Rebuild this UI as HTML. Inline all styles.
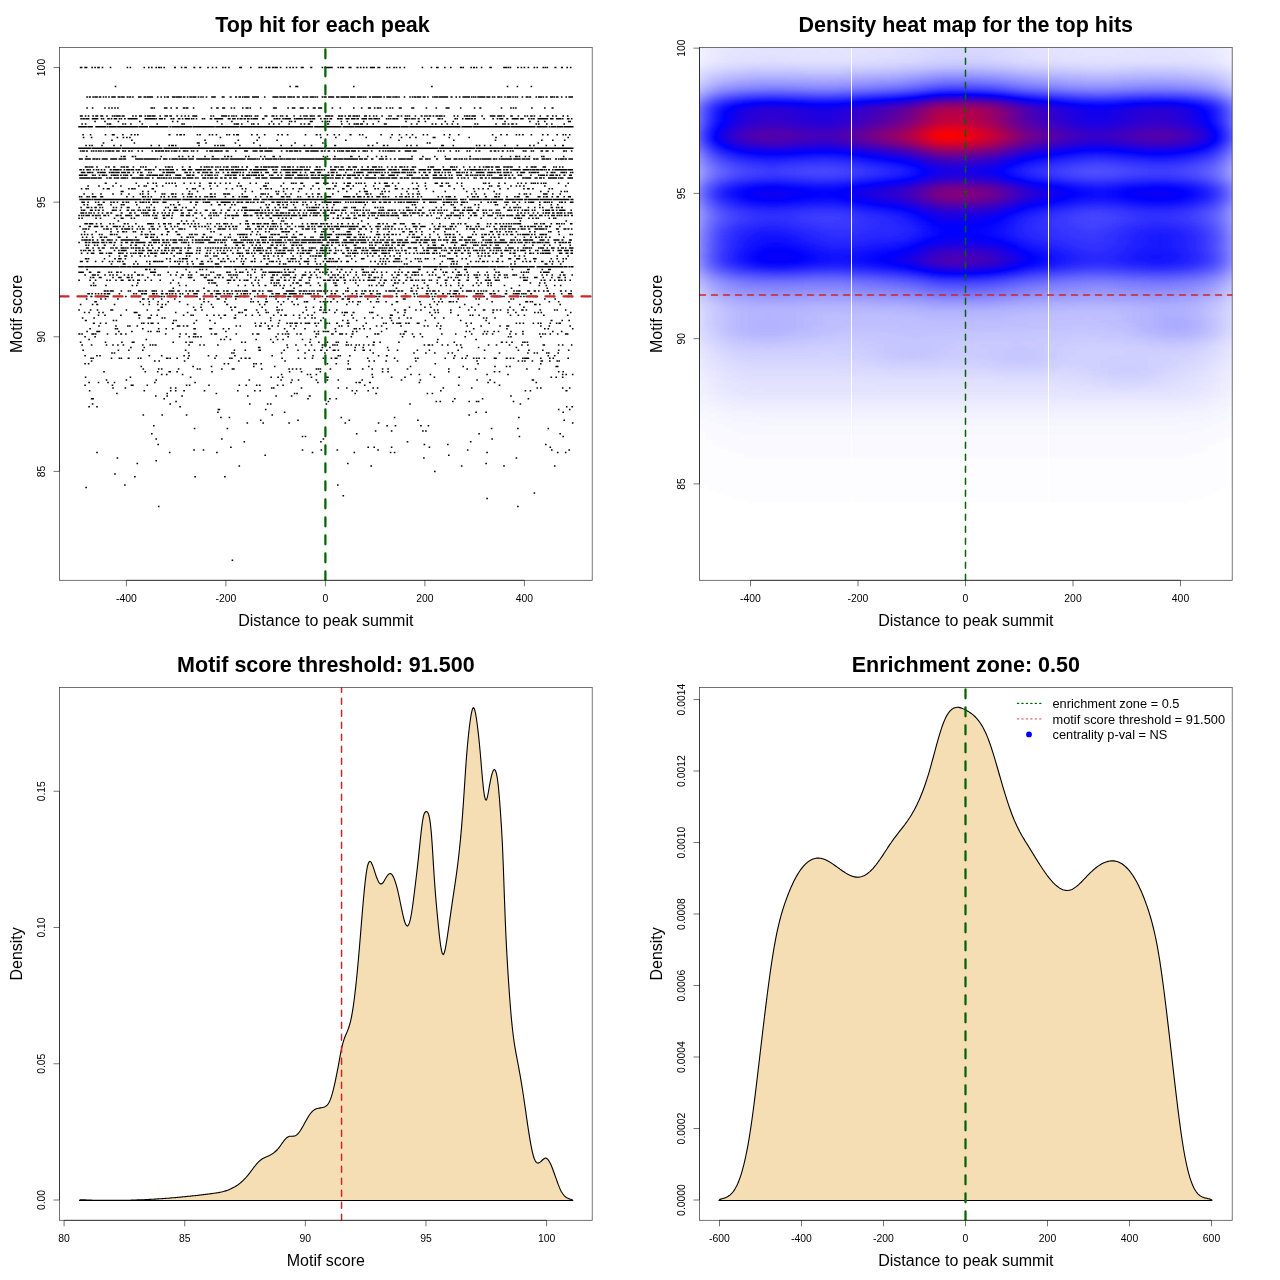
<!DOCTYPE html><html><head><meta charset="utf-8"><style>html,body{margin:0;padding:0;background:#fff;overflow:hidden}svg{display:block}text{font-family:"Liberation Sans",sans-serif;fill:#000}</style></head><body>
<svg width="1280" height="1280" viewBox="0 0 1280 1280" style="will-change:transform">
<defs>
<clipPath id="c1"><rect x="59.5" y="47.5" width="532.7" height="532.8"/></clipPath>
<clipPath id="c2"><rect x="699.5" y="47.5" width="532.7" height="532.8"/></clipPath>
<clipPath id="c3"><rect x="59.5" y="687.5" width="532.7" height="532.8"/></clipPath>
<clipPath id="c4"><rect x="699.5" y="687.5" width="532.7" height="532.8"/></clipPath>
<filter id="hm" x="660" y="10" width="600" height="600" filterUnits="userSpaceOnUse" color-interpolation-filters="sRGB"><feGaussianBlur stdDeviation="5 2"/><feComponentTransfer><feFuncR type="table" tableValues="1 0 1"/><feFuncG type="table" tableValues="1 0 0"/><feFuncB type="table" tableValues="1 1 0"/></feComponentTransfer></filter>
</defs>
<path d="M231.6 560.3h1.6M157.9 506.5h1.6m357.6 0h1.6M486.3 498.4h1.6M342.5 495.7h1.6M533.6 493h1.6M85.3 487.6h1.6M124.1 484.9h1.6m211.3 0h1.6M134.1 476.8h1.6m58.6 0h1.6m28.2 0h1.6M114.2 474.1h1.6M434 471.4h1.6M238.5 466.1h1.6m130.3 0h1.6m88.9 0h1.6m40.7 0h1.6m49.1 0h1.6M136.5 463.4h1.6m208.9 0h1.6m136.7 0h1.6M155.4 460.7h1.6M116.6 458h1.6m304.9 0h1.6m90.9 0h1.6M264.4 455.3h1.6m182 0h1.6M96.2 452.6h1.6m71.1 0h1.6m45.6 0h1.6m94 0h1.6m40.2 0h1.6m34.7 0h1.6m2.4 0h1.6m90.9 0h1.6m69 0h1.6m6.4 0h1.6M193.3 449.9h1.6m7.8 0h1.6m97.4 0h1.6m17.3 0h1.6m14.3 0h1.6m39.2 0h1.6m88 0h1.6m82.5 0h1.6m15.8 0h1.6M230.1 447.2h1.6m135.7 0h1.6m4.4 0h1.6m15.8 0h1.6m36.2 0h1.6m119.3 0h1.6M157.4 444.5h1.6m264.6 0h1.6m21.8 0h1.6m96.4 0h1.6M243.5 441.8h1.6m75 0h1.6m85 0h1.6m61.6 0h1.6M155.4 439.1h1.6m64.1 0h1.6m99.9 0h1.6m167.1 0h1.6M301.7 436.4h1.6m1.4 0h1.6m212.3 0h1.6m42.2 0h1.6M151 433.7h1.6m203.3 0h1.6m120.8 0h1.6m79.5 0h1.6M374.8 431.1h1.6m14.4 0h1.6m29.7 0h1.6m1.4 0h1.6M193.8 428.4h1.6m31.2 0h1.6m262.6 0h1.6m24.7 0h1.6m28.8 0h1.6M153 425.7h1.6m231.7 0h1.6m6.8 0h1.6m23.8 0h1.6m5.9 0h1.6M246.5 423h1.6m14.3 0h1.6m24.3 0h1.6m54.6 0h1.6m31.7 0h1.6m192.5 0h1.6M259.9 420.3h1.6m35.7 0h1.6m49.7 0h1.6m67 0h1.6m144.7 0h1.6M220.1 417.6h1.6m6.9 0h1.6m110.3 0h1.6m51.7 0h1.6m122.7 0h1.6M142.5 414.9h1.6m17.3 0h1.6m22.8 0h1.6m84 0h1.6m195.4 0h1.6M217.1 412.2h1.6m65.1 0h1.6m189.9 0h1.6m8.4 0h1.6m75.5 0h1.6M217.6 409.5h2.6m44.7 0h1.6m291.4 0h1.6m9.4 0h1.6M88.3 406.8h1.6m6.3 0h1.6m81.5 0h1.6m385 0h1.6m3.9 0h1.6M91.8 404.1h1.6m76 0h1.6m78 0h1.6m16.3 0h1.6m1.4 0h1.6m54.1 0h1.6m82 0h1.6m108.8 0h1.6M175.3 401.4h1.6m150.7 0h1.6m106.3 0h1.6m2.4 0h1.6m10.9 0h1.6m14.8 0h1.6m5.8 0h1.6m.4 0h1.6m33.3 0h1.6M90.8 398.7h3.1m69.5 0h1.6m142.2 0h1.6m20.3 0h1.6m4.8 0h1.6m116.9 0h1.6m26.2 0h1.6m44.2 0h1.6M155 396h1.6m9.8 0h1.6m13.3 0h1.6m64.1 0h1.6m26.7 0h1.6m13.9 0h1.6m16.3 0h2.1m199.4 0h1.6M116.1 393.4h1.6m48.7 0h1.6m47.6 0h1.6m76.6 0h1.6m.8 0h1.6m56.6 0h1.6m19.3 0h1.6m49.7 0h1.6m3.4 0h1.6M88.8 390.7h1.6m53.1 0h1.6m24.8 0h1.6m3.4 0h1.6m6.8 0h1.6m18.8 0h1.6m31.7 0h1.6m15.4 0h1.6m3.8 0h1.6m90.5 0h1.6m2.8 0h1.6m9.9 0h1.6m71 0h1.6m83 0h1.6m3.4 0h1.6m34.2 0h2.1M112.2 388h1.6m10.8 0h1.6m43.7 0h1.6m3.4 0h1.6m94.4 0h1.6m.4 0h1.6m26.2 0h1.6m35.2 0h1.6m6.9 0h1.6m24.8 0h1.6m2.8 0h1.6m64.1 0h1.6m26.8 0h1.6m64 0h1.6m1.9 0h1.6m20.3 0h1.6m5.4 0h1.6M84.3 385.3h1.6m25.8 0h1.6m17.3 0h3.1m12.8 0h1.6m37.7 0h1.6m1.4 0h1.6m17.8 0h1.6m28.7 0h1.6m5.4 0h1.6m8.8 0h1.6m1.4 0h1.6m16.3 0h1.6m3.9 0h1.6m80 0h1.6m92.4 0h1.6m39.2 0h1.6M88.3 382.6h1.6m7.8 0h1.6m7.9 0h1.6m4.9 0h1.6m38.7 0h1.6m38.7 0h1.6m94.4 0h1.6m25.2 0h1.6m36.7 0h1.6m1.4 0h2.6m7.9 0h2.1m47.6 0h1.6m67.1 0h1.6m4.8 0h1.7m40.1 0h1.6M105.7 379.9h1.6m18.3 0h1.6m28.2 0h1.6m91.5 0h1.6m30.2 0h1.6m9.4 0h1.6m4.8 0h1.6m16.3 0h1.6m9.4 0h1.6m9.3 0h1.6m22.3 0h1.6m37.7 0h1.6m17.3 0h1.6m55.1 0h1.6m11.4 0h1.6m40.7 0h2.6M84.8 377.2h1.6m43.2 0h1.6m58.6 0h1.6m79 0h1.6m5.3 0h1.6m2.9 0h1.6m27.3 0h1.6m13.8 0h2.6m43.2 0h1.6m17.3 0h1.6m11.8 0h1.6m27.8 0h1.6m23.2 0h1.6m90.5 0h1.6m3.3 0h1.6m4.9 0h1.6M160.9 374.5h1.6m3.4 0h1.6m14.3 0h1.6m97.4 0h1.6m24.3 0h1.6m1.4 0h1.6m4.3 0h1.6m54.2 0h1.6m37.2 0h1.6m6.8 0h1.6m9.4 0h1.6m55.1 0h1.6m19.3 0h1.6m53.1 0h1.6m1.9 0h1.6m4.9 0h1.6M103.2 371.8h1.6m39.7 0h1.6m10.8 0h1.6m9.9 0h2.6m5.3 0h1.6m33.3 0h1.6m76 0h1.6m10.3 0h1.6m17.3 0h1.6m60.6 0h1.6m3.9 0h1.6m59.1 0h1.6m44.1 0h1.7m3.3 0h1.6m57.6 0h1.6m2.9 0h1.6M142.5 369.1h1.6m13.8 0h1.6m1.4 0h1.6m15.3 0h1.6m17.3 0h1.6m.9 0h1.6m20.3 0h1.6m8.9 0h3.1m26.2 0h1.6m25.8 0h1.6m1.9 0h1.6m2.3 0h1.6m2.4 0h1.6m14.3 0h1.6m.4 0h1.6m.4 0h1.6m8.4 0h1.6m15.8 0h1.6m.4 0h2.1m10.8 0h1.6m7.9 0h1.6m8.8 0h1.6m3.9 0h1.6m17.8 0h1.6m39.7 0h1.6m16.8 0h1.6m6.8 0h1.6m49.7 0h1.6m10.8 0h1.6M140.5 366.4h1.6m50.2 0h1.6m16.8 0h1.6m40.7 0h1.6m19.3 0h1.6m92.4 0h1.6m40.2 0h1.6m51.1 0h1.6m30.2 0h1.6m9.9 0h1.6m1.9 0h1.6m44.6 0h3.1M84.3 363.7h1.6m1.9 0h1.6m134.2 0h1.6m2.4 0h1.6m23.8 0h1.6m.8 0h1.6m3.4 0h1.6m64.6 0h1.6m7.3 0h1.6m10.4 0h1.6m85.4 0h1.6m41.2 0h1.6m61.1 0h1.6M90.8 361h1.6m61.6 0h1.6m2.8 0h1.6m23.8 0h1.6m52.6 0h1.6m44.7 0h1.6m61.6 0h1.6m19.3 0h1.6m3.4 0h1.6m10.3 0h1.6m9.8 0h1.6m16.8 0h1.6m59.6 0h1.6m39.7 0h1.6m2.4 0h1.6m.9 0h1.6m5.9 0h1.6m7.3 0h2.6m5.9 0h1.6m5.8 0h1.6m.4 0h1.6M90.3 358.3h1.6m.4 0h1.6m16.8 0h1.6m6.3 0h1.6m.4 0h1.6m5.4 0h2.1m7.8 0h1.6m.9 0h1.6m24.3 0h2.6m.9 0h1.6m5.3 0h1.6m9.4 0h1.6m25.3 0h1.6m13.3 0h1.6m.4 0h1.6m7.8 0h1.6m2.4 0h2.1m1.9 0h2.1m30.7 0h1.6m14.8 0h1.6m4.9 0h1.6m5.9 0h1.6m9.3 0h1.6m6.4 0h1.6m2.3 0h3.1m29.3 0h1.6m25.3 0h1.6m19.2 0h1.6m.9 0h1.6m25.8 0h1.6m6.9 0h1.6m6.8 0h1.6m1.9 0h1.6m6.4 0h1.6m1.3 0h1.6m.9 0h1.6m3.9 0h1.6m8.3 0h3.1m8.9 0h2.1m1.9 0h1.6m1.4 0h1.6m7.8 0h1.6m.4 0h5.1m10.8 0h1.6m7.4 0h1.6m1.9 0h1.6m13.3 0h1.6M84.3 355.7h1.6m10.3 0h1.6m1.4 0h1.6m47.7 0h1.6m10.8 0h1.6m20.8 0h1.6m3.4 0h1.6m17.8 0h1.6m6.3 0h1.6m16.9 0h1.6m35.7 0h1.6m39.2 0h1.6m23.7 0h1.6m.4 0h1.6m7.9 0h1.6m27.2 0h1.6m6.4 0h2.1m66.1 0h1.6m10.8 0h1.6m79.5 0h1.6m4.8 0h1.6M111.2 353h1.6m.9 0h1.6m72.5 0h1.6m41.7 0h1.6m.4 0h1.6m46.1 0h1.6m21.8 0h1.6m18.3 0h1.6m46.7 0h1.6m39.2 0h1.6m10.3 0h1.6m7.3 0h1.6m11.9 0h1.6m2.4 0h1.6m45.6 0h1.6m26.8 0h1.6m4.9 0h1.6m1.3 0h1.6m7.9 0h1.6m.4 0h1.6m7.8 0h1.6M82.3 350.3h1.6m33.7 0h1.6m8.9 0h1.6m12.3 0h1.6m41.2 0h1.6m47.2 0h1.6m9.3 0h1.6m12.3 0h2.6m22.3 0h1.6m12.3 0h1.6m9.4 0h1.6m3.9 0h1.6m4.8 0h2.1m3.9 0h1.6m4.9 0h3.1m1.8 0h1.6m14.9 0h1.6m6.8 0h2.6m4.4 0h1.6m16.8 0h1.6m7.3 0h1.6m18.3 0h1.6m10.4 0h1.6m27.2 0h1.6m24.8 0h1.6m32.2 0h1.6m8.9 0h1.6m12.3 0h1.6m14.3 0h1.6m8.4 0h1.6M130.1 347.6h1.6m11.8 0h1.6m112.8 0h2.6m26.3 0h1.6m33.2 0h1.6m5.9 0h1.6m23.7 0h1.6m6.4 0h1.6m22.8 0h1.6m72.5 0h1.6m15.3 0h1.6m36.2 0h1.6M81.3 344.9h1.6m7.9 0h1.6m13.3 0h1.6m4.9 0h1.6m3.3 0h1.6m3.9 0h1.6m17.8 0h1.6m5.9 0h1.6m.9 0h1.6m.9 0h2.1m31.7 0h1.6m9.3 0h1.6m2.4 0h1.6m12.3 0h1.6m67.6 0h1.6m7.3 0h1.6m7.9 0h1.6m4.4 0h1.6m9.3 0h1.6m.4 0h3.1m5.4 0h1.6m.4 0h1.6m.8 0h1.6m7.4 0h1.6m.4 0h1.6m1.4 0h1.6m3.3 0h1.6m1.4 0h1.6m2.9 0h1.6m3.4 0h1.6m2.9 0h2.1m49.1 0h1.6m2.4 0h2.6m1.4 0h1.6m8.3 0h1.6m3.9 0h1.6m7.3 0h1.6m2.4 0h1.6m26.3 0h1.6m6.3 0h1.6m11.4 0h1.6m10.8 0h1.6m4.4 0h1.6m13.8 0h2.6m12.8 0h1.6m2.4 0h1.6m7.4 0h1.6M79.8 342.2h1.6m23.3 0h1.6m14.8 0h1.6m8.9 0h3.1m37.7 0h1.6m11.3 0h1.6m2.4 0h1.6m.4 0h1.6m48.1 0h1.6m1.9 0h1.6m26.3 0h1.6m35.2 0h1.6m7.3 0h1.6m6.9 0h1.6m7.3 0h1.6m.4 0h1.6m6.9 0h1.6m25.3 0h2.1m4.3 0h1.6m17.3 0h1.6m36.7 0h1.6m15.4 0h1.6m45.6 0h2.1m2.9 0h1.6m3.9 0h1.6m9.3 0h1.6m.4 0h1.6m.9 0h1.6M88.3 339.5h1.6m55.6 0h1.6m73 0h1.6m1.9 0h1.6m4.4 0h1.6m24.2 0h1.6m12.9 0h1.6m5.3 0h1.6m3.9 0h1.6m17.8 0h1.6m6.4 0h1.6m125.7 0h1.6m36.7 0h1.6M84.3 336.8h1.6m8.4 0h1.6m82.9 0h1.6m7.9 0h1.6m2.9 0h1.6m.4 0h1.6m.8 0h1.6m1.4 0h1.6m23.8 0h1.6m48.1 0h1.6m10.4 0h1.6m26.2 0h1.6m33.8 0h1.6m14.3 0h1.6m33.7 0h1.6m9.9 0h1.6m6.8 0h1.6m41.2 0h1.6m41.7 0h1.6m.9 0h1.6m28.2 0h1.6M78.3 334.1h2.1m.9 0h1.6m8.4 0h3.1m.4 0h1.6m10.3 0h1.6m6.9 0h1.6m3.3 0h2.1m2.9 0h1.6m38.2 0h1.6m12.8 0h1.6m4.4 0h1.6m6.4 0h3.1m14.3 0h1.6m1.9 0h3m18.3 0h1.6m14.9 0h1.6m2.8 0h3.1m17.8 0h1.6m2.9 0h1.6m1.4 0h1.6m.9 0h2.1m6.8 0h1.6m1.9 0h2.1m13.8 0h1.6m.4 0h1.6m11.9 0h2.6m5.3 0h4.1m2.4 0h1.6m4.4 0h2.1m20.7 0h1.7m.8 0h2.6m20.3 0h1.6m1.4 0h2.1m6.9 0h1.6m6.3 0h1.6m19.8 0h1.6m12.3 0h1.6m14.4 0h1.6m9.8 0h1.6m1.9 0h1.6m4.4 0h1.6m15.8 0h1.6m4.3 0h1.6m5.4 0h1.6m15.3 0h1.6m1.4 0h1.6m.9 0h1.6m3.4 0h1.6m5.8 0h1.6m6.4 0h3.6M86.3 331.4h1.6m8.3 0h4.1m17.8 0h1.6m11.4 0h1.6m14.8 0h1.6m.9 0h1.6m4.8 0h1.6m.4 0h1.6m65.1 0h1.6m59.6 0h1.6m25.8 0h1.6m2.3 0h1.6m3.4 0h2.1m.4 0h1.6m.4 0h2.1m5.8 0h1.6m15.4 0h1.6m2.3 0h1.6m23.3 0h1.6m21.8 0h2.6m58.6 0h1.6m1.9 0h1.6m13.3 0h1.6m1.4 0h1.6m4.9 0h1.6m2.8 0h1.6m10.9 0h1.6m10.3 0h1.6m28.3 0h1.6m7.3 0h1.6M89.3 328.7h1.6m23.8 0h1.6m.3 0h1.6m23.8 0h1.6m14.3 0h1.6m5.9 0h1.6m4.9 0h1.6m19.8 0h2.6m13.3 0h3.1m10.3 0h1.6m3.9 0h1.6m38.2 0h2.6m13.3 0h1.6m7.9 0h1.6m9.3 0h1.6m28.7 0h1.7m17.3 0h1.6m.3 0h1.6m1.9 0h1.6m2.9 0h1.6m4.4 0h1.6m14.8 0h1.6m52.1 0h1.6m31.8 0h1.6m31.7 0h1.6m36.2 0h1.6m1.9 0h1.6m22.8 0h1.6M98.2 326h1.6m15.4 0h1.6m10.3 0h1.6m.4 0h1.6m5.8 0h1.6m38.7 0h3.6m2.4 0h1.6m1.9 0h2.1m47.1 0h1.6m2.4 0h1.6m13.8 0h1.6m2.4 0h2.6m5.9 0h1.6m2.4 0h1.6m4.3 0h1.6m10.9 0h1.6m3.8 0h1.6m18.8 0h1.6m21.3 0h1.6m.9 0h1.6m4.9 0h1.6m13.3 0h1.6m11.8 0h1.6m3.4 0h1.6m17.8 0h1.6m21.8 0h1.6m1.9 0h1.6m7.3 0h1.6m2.4 0h1.6m24.8 0h1.6m12.3 0h1.6m17.3 0h1.6m5.4 0h3.1m30.7 0h1.6m6.9 0h1.6m19.3 0h1.6M92.8 323.3h2.1m4.8 0h1.6m3.9 0h1.6m34.2 0h1.6m.4 0h1.6m2.9 0h1.6m1.4 0h3.1m3.8 0h1.6m12.9 0h2.1m19.3 0h1.6m19.3 0h1.6m38.7 0h1.6m4.3 0h1.6m2.4 0h1.6m11.8 0h1.6m6.9 0h1.6m1.4 0h1.6m.4 0h1.6m1.4 0h3.5m2.4 0h1.6m2.9 0h2.1m.4 0h3.1m3.9 0h2m1.4 0h1.6m6.9 0h1.6m.9 0h1.6m5.8 0h2.1m8.4 0h3.1m15.8 0h1.6m15.8 0h1.6m.9 0h1.6m5.4 0h1.6m2.3 0h1.6m.4 0h3.1m3.9 0h1.6m.9 0h2.1m6.8 0h3.1m17.8 0h1.6m26.3 0h1.6m3.4 0h1.6m16.3 0h1.6m25.7 0h1.6m1.9 0h1.6m1.9 0h1.6m8.4 0h1.6m3.3 0h1.6m.9 0h1.6m7.9 0h1.6m4.8 0h1.6m.9 0h2.6M84.8 320.6h2.1m25.8 0h1.6m1.3 0h1.6m55.7 0h1.6m.8 0h1.6m18.8 0h1.6m11.9 0h1.6m59.1 0h1.6m7.3 0h1.6m39.7 0h1.6m20.3 0h1.6m3.4 0h1.6m7.3 0h1.6m33.3 0h1.6m32.2 0h1.6m33.7 0h1.6m23.8 0h1.6m63.6 0h2.1m8.8 0h1.6m5.4 0h1.6M81.8 317.9h1.6m9.9 0h1.6m43.6 0h1.6m7.4 0h3.6m10.3 0h1.6m.9 0h1.6m54.6 0h1.6m11.9 0h2.6m33.7 0h1.6m27.2 0h1.6m3.9 0h1.6m5.4 0h1.6m1.4 0h1.6m6.8 0h1.6m28.3 0h1.6m9.8 0h1.6m6.9 0h1.6m7.3 0h1.6m6.4 0h2.1m6.8 0h1.6m6.9 0h1.6m1.9 0h1.6m22.2 0h1.6m7.4 0h1.6m38.2 0h1.6m1.4 0h1.6m6.8 0h1.6M97.7 315.3h1.6m4.9 0h1.6m14.3 0h1.6m16.3 0h2.6m9.9 0h1.6m4.3 0h1.6m24.8 0h1.6m5.9 0h1.6m.4 0h1.6m12.3 0h1.6m5.4 0h1.6m3.3 0h1.6m3.9 0h2.6m8.4 0h1.6m8.8 0h1.6m4.9 0h1.6m5.8 0h1.6m12.4 0h1.6m5.8 0h1.6m2.4 0h2.6m5.9 0h1.6m4.3 0h1.6m6.9 0h1.6m2.4 0h1.6m30.7 0h1.6m5.9 0h1.6m24.2 0h1.6m11.4 0h3.1m10.3 0h1.6m26.3 0h1.6m24.7 0h1.6m10.4 0h1.6m.9 0h1.6m4.8 0h1.6m29.8 0h1.6m6.3 0h1.6m4.4 0h1.6m17.8 0h1.6m22.3 0h1.6M83.8 312.6h1.6m2.9 0h1.6m8.3 0h1.6m2.4 0h1.6m29.8 0h4m37.3 0h1.6m10.3 0h1.6m49.6 0h2.6m.9 0h1.6m14.3 0h1.6m6.4 0h1.6m.4 0h1.6m8.3 0h1.6m23.3 0h1.6m9.9 0h1.6m7.3 0h1.6m.4 0h2.6m6.9 0h1.6m5.8 0h1.6m.9 0h4.1m4.4 0h2.1m14.3 0h1.6m.4 0h2.6m23.7 0h1.6m5.4 0h1.6m23.3 0h1.6m3.8 0h1.6m1.4 0h1.6m10.9 0h1.6m40.7 0h1.6m13.3 0h1.6m6.3 0h1.6m17.3 0h1.6m1.9 0h1.6m1.4 0h1.6m27.8 0h1.6M78.3 309.9h1.6m9.9 0h1.6m5.3 0h1.6m11.9 0h3.1m12.3 0h1.6m19.3 0h1.6m9.3 0h2.1m34.8 0h2.1m4.8 0h1.6m28.3 0h1.6m11.3 0h3.1m8.8 0h1.6m7.4 0h1.6m9.8 0h1.6m.4 0h1.6m1.4 0h1.6m22.8 0h1.6m11.8 0h2.6m1.9 0h1.6m3.4 0h1.6m5.8 0h1.6m56.6 0h1.6m7.9 0h2.6m8.8 0h1.6m3.4 0h1.6m11.9 0h1.6m1.8 0h1.6m11.4 0h1.6m16.3 0h1.6m4.8 0h1.6m6.9 0h2.6m6.9 0h2.1m1.8 0h1.6m1.9 0h1.6m5.9 0h1.6m3.9 0h1.6m6.8 0h2.6m1.9 0h1.6m12.3 0h1.6m12.8 0h1.6m.9 0h1.6m6.9 0h1.6M160.4 307.2h2.6m29.8 0h1.6m5.8 0h1.6m10.4 0h1.6m16.3 0h1.6m2.4 0h2.1m25.2 0h1.6m13.3 0h1.6m27.3 0h1.6m5.9 0h1.6m5.8 0h1.6m51.2 0h1.6m34.2 0h1.6m13.8 0h1.6m4.4 0h1.6m27.2 0h1.6m10.4 0h1.6m36.7 0h1.6m12.3 0h1.6M79.8 304.5h1.6m10.4 0h1.6m2.8 0h2.1m15.4 0h1.6m27.2 0h1.6m4.4 0h1.6m6.8 0h1.6m2.9 0h1.6m1.9 0h1.6m20.3 0h1.6m12.3 0h1.6m8.4 0h1.6m13.8 0h2.1m30.7 0h1.6m3.4 0h1.6m14.8 0h1.6m11.4 0h1.6m2.3 0h1.6m25.3 0h1.6m20.3 0h1.6m9.3 0h1.6m32.8 0h1.6m27.2 0h1.6m7.4 0h1.6m5.8 0h1.6m25.8 0h1.6m12.3 0h1.6m39.7 0h1.6m13.3 0h2.6m2.4 0h1.6m18.8 0h1.6M94.3 301.8h2.6m42.6 0h1.6m7.4 0h1.6m7.3 0h1.6m8.4 0h1.6m9.8 0h1.6m22.8 0h1.6m2.9 0h1.6m14.8 0h1.6m24.3 0h1.6m.9 0h1.6m3.3 0h1.6m5.9 0h3.1m9.3 0h1.6m3.9 0h1.6m6.9 0h1.6m10.8 0h1.6m.4 0h2.6m11.3 0h1.6m1.4 0h1.6m.4 0h1.6m.4 0h1.6m1.9 0h1.6m4.8 0h1.6m10.4 0h1.6m1.9 0h1.6m3.8 0h1.6m.4 0h1.6m8.9 0h1.6m4.3 0h1.6m.4 0h1.6m5.9 0h1.6m8.8 0h2.6m20.8 0h1.6m12.9 0h1.6m2.8 0h1.6m1.9 0h1.6m5.4 0h3.1m.9 0h1.6m1.8 0h1.6m33.8 0h1.6m15.3 0h1.6m15.3 0h3.1m1.4 0h1.6m.4 0h1.6m15.3 0h1.6m7.8 0h1.6M85.8 299.1h1.6m12.8 0h1.6m2.9 0h1.6m10.8 0h1.6m23.3 0h2.6m2.9 0h1.6m3.4 0h1.6m6.8 0h1.6m11.4 0h1.6m23.7 0h1.6m2.4 0h1.6m11.8 0h3.1m5.4 0h1.6m8.3 0h1.6m13.9 0h1.6m13.3 0h1.6m8.3 0h1.6m10.4 0h1.6m7.3 0h1.6m15.9 0h1.6m9.3 0h1.6m6.4 0h2.1m6.8 0h2.6m2.9 0h3.1m16.8 0h1.6m8.3 0h1.6m24.3 0h3.1m26.3 0h1.6m6.3 0h1.6m15.8 0h1.6m16.3 0h1.6m1.4 0h1.6m6.4 0h1.6m22.3 0h1.6m.9 0h1.6m29.7 0h1.6m8.8 0h1.6M85.8 296.4h1.6m2.9 0h2.1m4.8 0h1.6m.9 0h2.6m1.9 0h4.6m16.3 0h1.6m4.4 0h1.6m5.3 0h1.6m14.4 0h2.1m2.3 0h1.6m.4 0h2.1m.9 0h1.6m3.9 0h3.1m2.9 0h2m1.9 0h2.1m3.4 0h1.6m9.3 0h2.6m13.9 0h1.6m1.4 0h2.5m3.4 0h1.6m3.4 0h1.6m3.4 0h1.6m2.4 0h6.5m1.9 0h2.6m8.4 0h1.6m4.8 0h4.6m3.9 0h1.6m.4 0h1.6m.4 0h1.6m.3 0h4.1m2.9 0h1.6m1.4 0h1.6m.9 0h4.1m4.8 0h3.1m14.4 0h2.5m1.4 0h1.6m2.4 0h1.6m2.9 0h2.6m.4 0h3.6m6.3 0h2.1m3.4 0h1.6m2.9 0h2.6m2.4 0h2m.4 0h1.6m1.4 0h3.1m1.9 0h1.6m2.9 0h1.6m.4 0h1.6m.9 0h4m.9 0h2.1m3.9 0h1.6m3.4 0h1.6m.4 0h1.6m2.8 0h2.1m6.4 0h1.6m.4 0h1.6m5.9 0h1.6m1.8 0h1.6m7.9 0h3.6m1.4 0h1.6m.8 0h1.6m2.4 0h1.6m4.4 0h1.6m4.4 0h2.1m.4 0h1.6m11.8 0h1.6m6.8 0h1.6m2.9 0h1.6m2.4 0h2.1m8.8 0h1.7m.3 0h3.1m.9 0h3.1m.4 0h1.6m11.8 0h1.6m1.9 0h1.6m1.4 0h1.6m.9 0h1.6m1.4 0h1.6m2.4 0h1.6m.8 0h3.1m15.3 0h1.7m12.3 0h1.6m1.9 0h1.6M87.3 293.7h2.6m1.4 0h1.6m1.9 0h1.6m1.3 0h1.6m1.4 0h1.6m1.4 0h2.1m.9 0h3.6m8.3 0h1.6m12.9 0h1.6m.8 0h1.6m3.9 0h2.6m.4 0h3.1m4.9 0h3.1m.8 0h1.6m3.4 0h2.6m1.9 0h2.6m.9 0h1.6m.9 0h2.1m1.4 0h1.6m2.8 0h1.6m.9 0h1.6m3.9 0h1.6m4.4 0h4.5m5.9 0h1.6m4.9 0h2.6m2.8 0h5.6m2.4 0h1.6m1.4 0h1.6m.4 0h2.1m.9 0h1.6m3.3 0h1.6m2.4 0h1.6m.9 0h3.1m.4 0h1.6m1.4 0h1.6m5.8 0h1.6m3.4 0h1.6m7.9 0h2.1m1.8 0h4.6m3.4 0h3.6m1.9 0h8m2.4 0h1.6m1.4 0h1.6m.9 0h1.6m.4 0h5.1m1.4 0h1.6m2.3 0h1.6m5.9 0h1.6m4.4 0h2.1m1.4 0h2.1m6.3 0h1.6m7.4 0h1.6m2.8 0h1.6m3.4 0h1.6m.4 0h1.6m5.4 0h2.6m3.8 0h1.6m.4 0h2.6m14.8 0h1.6m7.4 0h1.6m6.9 0h1.6m1.3 0h1.6m7.9 0h3.1m1.9 0h1.6m2.3 0h2.1m5.4 0h2.1m2.9 0h1.6m.4 0h1.6m1.9 0h4.5m1.4 0h1.6m15.3 0h3.6m.4 0h2.1m.4 0h1.6m5.9 0h3.1m.9 0h2.5m8.9 0h2.6m5.4 0h1.6m.3 0h5.1m1.4 0h1.6m.4 0h1.6m.4 0h1.6m3.4 0h2.1m16.8 0h1.6m2.4 0h1.6m6.3 0h1.6m5.4 0h4.1M103.7 291h2.6m.4 0h2.1m.9 0h4.1m6.8 0h1.6m5.4 0h1.6m.4 0h1.6m6.8 0h3.6m.4 0h1.6m.9 0h2.6m4.4 0h3.6m.3 0h1.6m4.4 0h1.6m5.4 0h6.1m2.8 0h2.6m5.4 0h1.6m1.9 0h2.1m.9 0h2.1m2.3 0h3.1m7.9 0h2.6m3.9 0h1.6m.8 0h3.1m3.9 0h1.6m1.4 0h2.6m2.4 0h1.6m1.9 0h2.5m.4 0h1.6m.4 0h1.6m.9 0h1.6m.4 0h4.1m3.9 0h4.1m2.3 0h2.1m1.4 0h1.6m3.9 0h5.1m13.3 0h8.6m4.3 0h3.1m.9 0h2.6m.4 0h1.6m1.4 0h1.6m.9 0h1.6m.4 0h1.6m1.8 0h2.1m.4 0h3.1m.9 0h2.1m1.4 0h1.6m2.4 0h1.6m3.3 0h2.6m6.9 0h1.6m.4 0h2.1m5.8 0h2.6m3.9 0h1.6m.9 0h2.6m2.4 0h2.1m1.4 0h1.6m2.3 0h1.6m7.4 0h1.6m1.4 0h3.6m.4 0h3.1m1.8 0h2.6m.9 0h2.6m6.9 0h3.1m2.3 0h1.6m8.9 0h2.1m.9 0h1.6m1.4 0h3.5m2.4 0h1.6m9.9 0h1.6m2.4 0h5m3.4 0h1.6m2.4 0h6.1m1.4 0h1.6m2.3 0h1.6m1.4 0h1.6m.9 0h1.6m.9 0h2.1m5.4 0h1.6m3.3 0h1.6m6.4 0h1.6m5.9 0h1.6m1.3 0h1.6m.4 0h2.6m6.4 0h3.1m3.4 0h2.5m1.9 0h1.6m3.4 0h1.6m1.9 0h2.6m10.8 0h2.1m2.9 0h1.6m3.9 0h1.6M172.4 288.3h1.6m29.2 0h1.6m77.5 0h1.6m9.4 0h1.6m52.1 0h1.6m47.1 0h1.6m13.4 0h1.6m4.8 0h1.6m2.9 0h1.6m4.4 0h1.6m30.7 0h1.6m49.2 0h1.6m34.2 0h1.6M90.3 285.6h1.6m.9 0h1.6m.4 0h1.6m8.8 0h1.6m24.8 0h1.6m2.8 0h1.6m41.2 0h1.6m4.9 0h1.6m29.2 0h1.6m19.8 0h1.6m5.4 0h1.6m6.4 0h1.6m4.3 0h1.6m4.4 0h2.1m6.9 0h1.6m.3 0h1.6m2.4 0h1.6m2.4 0h1.6m4.9 0h1.6m7.8 0h2.6m7.9 0h1.6m7.8 0h1.6m3.9 0h1.6m8.3 0h3.1m19.8 0h1.6m9.4 0h1.6m.9 0h1.6m3.3 0h1.6m2.9 0h1.6m.4 0h1.6m8.4 0h1.6m19.3 0h1.6m1.8 0h1.6m8.4 0h2.1m11.3 0h1.6m3.9 0h1.6m2.9 0h1.6m6.3 0h1.6m2.4 0h1.6m8.9 0h1.6m3.8 0h1.6m7.9 0h1.6m1.4 0h1.6m11.8 0h1.6m13.3 0h1.6m18.3 0h1.6m5.4 0h1.6m6.8 0h1.6m4.4 0h1.6M92.8 282.9h1.6m42.6 0h1.6m31.3 0h1.6m6.3 0h1.6m28.8 0h1.6m1.4 0h1.6m.4 0h3.1m11.3 0h1.6m21.8 0h1.6m4.8 0h1.6m11.4 0h1.6m1.4 0h1.6m.8 0h1.6m.4 0h1.6m12.9 0h1.6m1.8 0h3.1m6.4 0h2.6m.4 0h1.6m7.8 0h1.6m13.9 0h1.6m.3 0h1.6m7.4 0h1.6m9.3 0h1.6m21.8 0h1.6m3.4 0h1.6m8.9 0h2.5m.9 0h1.6m3.9 0h1.6m19.3 0h1.6m11.3 0h1.6m6.9 0h1.6m11.3 0h1.6m16.3 0h1.6m2.9 0h1.6m5.4 0h1.6m1.4 0h1.6m37.7 0h1.6m7.8 0h1.6m3.4 0h1.6M78.3 280.2h1.6m9.4 0h1.6m3.9 0h1.6m9.8 0h1.6m1.4 0h1.6m4.4 0h1.6m3.8 0h3.1m4.4 0h2.6m1.9 0h1.6m2.8 0h3.1m4.4 0h1.6m4.4 0h1.6m7.3 0h1.6m11.4 0h1.6m19.3 0h1.6m12.3 0h3.1m.4 0h2.6m13.3 0h4.6m1.9 0h2.1m3.8 0h1.6m2.9 0h1.6m.4 0h3.1m5.9 0h1.6m1.8 0h1.6m10.9 0h3.1m2.8 0h3.6m3.9 0h2.6m1.9 0h1.6m3.4 0h1.6m3.8 0h3.1m6.9 0h1.6m12.8 0h3.1m.9 0h3.6m1.9 0h2.1m1.3 0h3.1m4.4 0h2.6m3.4 0h1.6m1.4 0h1.6m.8 0h1.6m2.4 0h1.6m2.4 0h1.6m2.9 0h3.1m.4 0h4.6m4.3 0h1.6m2.4 0h3.1m3.9 0h1.6m1.8 0h1.6m2.4 0h2.1m4.9 0h2.1m2.9 0h3.1m1.8 0h1.6m.9 0h1.6m2.4 0h1.6m.4 0h1.6m3.4 0h1.6m.4 0h1.6m4.3 0h1.6m6.4 0h3.1m5.4 0h1.6m3.3 0h2.6m5.9 0h2.6m8.3 0h1.6m5.9 0h2.6m.4 0h3.1m3.8 0h3.1m.4 0h1.6m23.3 0h4.6m12.8 0h1.6m1.4 0h2.1m3.9 0h1.6m2.8 0h1.6m2.4 0h2.6m.4 0h1.6m1.9 0h1.6m3.4 0h1.6M89.8 277.6h1.6m.9 0h2.1m4.3 0h3.1m10.4 0h1.6m4.3 0h3.6m4.9 0h3.1m1.4 0h1.6m14.3 0h1.6m31.2 0h1.6m6.4 0h4.6m11.3 0h3.1m7.4 0h2.1m1.8 0h1.6m2.4 0h1.6m6.9 0h2.1m3.3 0h1.6m12.4 0h1.6m3.8 0h1.6m4.4 0h1.6m7.4 0h3.1m6.8 0h1.6m1.9 0h1.6m4.4 0h1.6m1.4 0h3.1m5.3 0h1.6m5.4 0h3.1m5.3 0h1.6m1.4 0h1.6m8.4 0h3.1m1.8 0h1.7m3.3 0h2.6m.9 0h1.6m8.4 0h1.6m2.8 0h1.6m8.9 0h2.6m2.9 0h3m.9 0h1.6m1.9 0h1.6m10.4 0h1.6m1.3 0h1.6m9.4 0h1.6m1.4 0h1.6m26.2 0h3.1m6.9 0h1.6m1.4 0h1.6m2.8 0h1.6m.4 0h1.6m8.9 0h1.6m6.3 0h3.1m8.4 0h2.1m4.8 0h1.7m1.8 0h1.6m5.4 0h1.6m.9 0h1.6m11.3 0h1.6m1.4 0h3.1m.9 0h1.6m5.8 0h3.6m4.9 0h1.6m6.9 0h1.6m4.8 0h3.1m3.9 0h1.6M84.3 274.9h1.6m5.9 0h4.1m1.3 0h1.6m5.4 0h1.6m3.4 0h1.6m1.4 0h1.6m2.3 0h1.6m5.9 0h1.6m2.4 0h1.6m1.9 0h1.6m4.3 0h3.1m1.4 0h2.1m9.9 0h1.6m2.3 0h1.6m.4 0h1.6m8.9 0h1.6m3.8 0h1.6m4.4 0h2.6m3.9 0h1.6m.9 0h2.1m7.8 0h3.6m1.9 0h1.6m.9 0h1.6m6.8 0h1.6m.4 0h2.6m6.9 0h1.6m.4 0h1.6m.9 0h1.6m.4 0h1.6m.3 0h1.6m8.9 0h1.6m1.4 0h1.6m9.8 0h1.6m.9 0h1.6m6.4 0h3.1m1.3 0h1.6m4.4 0h1.6m.4 0h5.6m4.8 0h1.6m5.4 0h4.6m3.9 0h2.1m3.3 0h1.6m10.4 0h1.6m2.9 0h1.6m.4 0h1.6m1.3 0h2.1m3.9 0h1.6m2.4 0h1.6m6.8 0h1.6m4.9 0h1.6m.9 0h1.6m2.4 0h1.6m.4 0h1.6m9.3 0h1.6m8.4 0h1.6m3.8 0h3.1m4.9 0h2.6m3.9 0h1.6m.9 0h3m.9 0h1.6m1.9 0h1.6m5.9 0h1.6m1.4 0h1.6m1.8 0h1.6m6.9 0h1.6m10.8 0h1.6m.4 0h4.1m1.9 0h1.6m1.9 0h1.6m4.4 0h1.6m.3 0h2.6m.9 0h1.6m3.9 0h1.6m1.4 0h1.6m4.8 0h1.7m2.8 0h2.6m2.9 0h1.6m.4 0h2.1m4.4 0h3.1m.3 0h1.6m5.4 0h1.6m17.3 0h1.6m2.9 0h1.6m3.9 0h1.6m6.3 0h1.6m1.9 0h2.6m5.9 0h1.6M78.3 272.2h5.6m4.9 0h2.6m5.8 0h3.1m7.9 0h1.6m.9 0h1.6m3.8 0h2.6m1.4 0h1.6m12.4 0h1.6m14.3 0h6.1m11.3 0h1.6m7.3 0h1.6m10.9 0h1.6m5.3 0h1.6m12.9 0h1.6m.9 0h1.6m11.8 0h2.6m.4 0h1.6m4.8 0h1.6m1.9 0h2.6m.4 0h1.6m3.4 0h1.6m5.4 0h1.6m6.8 0h2.1m.4 0h1.6m1.9 0h7.6m.3 0h4.1m.4 0h1.6m1.9 0h2.1m1.9 0h3.1m.9 0h2.1m10.3 0h1.6m2.9 0h1.6m2.9 0h1.6m3.8 0h1.6m1.4 0h1.6m2.4 0h1.6m2.9 0h1.6m6.8 0h1.6m4.4 0h1.6m2.9 0h1.6m4.3 0h1.6m5.4 0h2.6m.4 0h1.6m.4 0h1.6m2.4 0h3.1m1.8 0h1.6m2.9 0h1.6m3.4 0h1.6m6.8 0h1.6m1.9 0h1.6m1.9 0h1.6m4.4 0h2.1m2.9 0h4.5m.4 0h1.6m7.9 0h1.6m3.9 0h1.6m8.8 0h1.6m.9 0h2.6m4.4 0h1.6m3.8 0h2.6m6.4 0h1.6m9.3 0h1.6m7.4 0h1.6m7.3 0h1.6m.9 0h2.1m20.8 0h1.6m.9 0h1.6m.9 0h1.6m.4 0h1.6m10.8 0h1.6m1.4 0h6.6m11.3 0h2.6M86.3 269.5h1.6m57.1 0h2.6m1.4 0h1.6m3.4 0h1.6m29.7 0h1.6m12.3 0h1.6m.9 0h1.6m2.4 0h1.6m27.3 0h1.6m9.3 0h1.6m4.4 0h1.6m1.4 0h1.6m4.3 0h2.1m21.3 0h1.6m1.9 0h1.6m5.4 0h1.6m19.7 0h1.6m.4 0h1.6m7.9 0h1.6m7.8 0h1.6m2.4 0h2.1m8.4 0h1.6m8.8 0h2.6m9.9 0h1.6m23.2 0h1.6m17.8 0h2.6m13.3 0h2.6m3.4 0h1.6m13.3 0h1.6m7.4 0h3.1m26.7 0h1.7m16.3 0h1.6m13.8 0h2.6m11.8 0h1.6m4.9 0h3.1M78.3 266.8h5.6m.4 0h35.4m.4 0h6.6m.4 0h4.1m.4 0h36.9m.9 0h20.5m.4 0h1.6m.4 0h22m.4 0h7m1.9 0h9.1m.4 0h19.5m.4 0h83.6m.4 0h32m.4 0h28.4m.4 0h6.6m.4 0h16m1.4 0h15.5m.4 0h10.1m.9 0h13m1.4 0h6.1m.4 0h18.5m.4 0h7m.4 0h9.1m.4 0h2.6m.9 0h18.5m.4 0h6.1m1.8 0h26.5m.4 0h4.1m.9 0h2.1m.4 0h2.6M110.7 264.1h1.6m10.3 0h3.1m7.4 0h1.6m2.3 0h1.6m10.4 0h1.6m27.7 0h1.6m6.9 0h1.6m3.9 0h1.6m5.3 0h4.6m10.9 0h4.5m22.8 0h2.1m21.8 0h2.6m10.3 0h1.6m2.4 0h1.6m.4 0h1.6m12.8 0h1.6m6.4 0h1.6m7.3 0h1.6m1.9 0h1.6m3.4 0h1.6m51.1 0h1.6m2.4 0h1.6m1.9 0h1.6m17.3 0h1.6m.9 0h1.6m31.7 0h1.6m9.4 0h1.6m.9 0h1.6m1.3 0h1.6m9.4 0h1.6m41.7 0h1.6m2.3 0h1.6m28.8 0h3.1m3.9 0h1.6m6.8 0h1.6M79.8 261.4h3.1m3.4 0h2.1m6.4 0h1.6m5.3 0h1.6m5.4 0h1.6m1.4 0h1.6m3.8 0h1.6m.4 0h1.6m1.4 0h1.6m11.4 0h1.6m9.3 0h1.6m1.4 0h1.6m2.4 0h3.1m.3 0h1.6m.4 0h1.6m.4 0h3.1m5.9 0h1.6m2.9 0h2.1m.8 0h1.6m.9 0h1.6m.9 0h1.6m2.9 0h1.6m3.4 0h1.6m7.8 0h2.6m3.9 0h2.1m1.4 0h2.1m7.3 0h2.6m.9 0h2.1m4.4 0h1.6m1.4 0h1.6m5.8 0h1.6m.9 0h1.6m5.9 0h2.6m.9 0h1.6m4.8 0h1.6m6.9 0h1.6m.4 0h3.1m1.8 0h1.6m1.9 0h1.6m6.9 0h3.1m.9 0h1.6m1.8 0h1.6m1.4 0h1.6m3.9 0h5.6m5.3 0h1.6m6.4 0h1.6m1.9 0h4.1m.4 0h1.6m.4 0h1.6m.3 0h3.6m2.4 0h1.6m3.9 0h3.1m5.8 0h1.6m13.4 0h1.6m2.8 0h1.7m3.3 0h1.6m1.4 0h1.6m.9 0h1.6m1.9 0h1.6m2.9 0h3m.4 0h1.6m.4 0h1.6m.9 0h1.6m7.9 0h1.6m6.3 0h1.6m.9 0h1.6m19.3 0h1.6m8.4 0h3.1m1.8 0h1.6m11.9 0h1.6m3.8 0h1.6m.9 0h1.6m2.4 0h3.1m1.9 0h1.6m3.4 0h1.6m2.3 0h3.1m2.9 0h1.6m10.8 0h1.6m6.4 0h1.6m1.9 0h1.6m1.9 0h2.1m2.8 0h1.6m5.4 0h2.6m5.4 0h1.6m1.4 0h1.6m4.3 0h1.6m2.9 0h1.6M84.8 258.7h2.6m.4 0h1.6m14.3 0h1.6m8.9 0h1.6m2.3 0h3.6m2.9 0h1.6m39.7 0h1.6m1.9 0h1.6m7.8 0h1.6m1.4 0h2.6m.4 0h3.1m8.3 0h1.6m11.9 0h1.6m6.3 0h1.6m3.4 0h1.6m2.9 0h2.1m6.8 0h1.6m3.4 0h1.6m2.4 0h1.6m7.4 0h1.6m7.8 0h2.1m1.9 0h2.1m8.3 0h1.6m7.4 0h1.6m1.9 0h3.6m.4 0h1.6m4.3 0h1.6m5.4 0h1.6m5.8 0h1.6m7.9 0h2.6m1.9 0h2.6m.9 0h1.6m4.3 0h1.6m11.4 0h1.6m8.3 0h3.6m15.3 0h1.6m1.4 0h1.6m1.9 0h2.1m6.3 0h5.6m5.4 0h1.6m7.3 0h1.6m.9 0h1.6m.9 0h1.6m3.4 0h1.6m.4 0h2.1m4.9 0h1.6m11.8 0h1.6m.4 0h4.6m7.8 0h1.6m2.4 0h1.6m12.3 0h1.6m16.3 0h1.6m9.4 0h3.1m4.8 0h4.1m4.4 0h1.6m6.9 0h3.5m13.9 0h1.6m4.3 0h1.6m4.4 0h1.6m1.4 0h1.6M108.7 256h1.6m8.3 0h1.6m3.9 0h3.1m3.9 0h1.6m6.8 0h1.6m2.9 0h1.6m2.4 0h1.6m4.9 0h2.1m16.8 0h1.6m10.8 0h1.6m1.4 0h1.6m14.3 0h1.6m.4 0h1.6m4.9 0h1.6m.4 0h2.5m8.9 0h1.6m10.8 0h1.6m1.4 0h1.6m8.9 0h1.6m8.8 0h2.6m1.9 0h1.6m3.9 0h1.6m2.8 0h1.6m2.4 0h1.6m9.4 0h1.6m5.8 0h1.6m8.4 0h1.6m.9 0h1.6m.8 0h2.6m.9 0h3.6m2.4 0h1.6m19.8 0h3.1m.9 0h1.6m2.9 0h1.6m11.3 0h1.6m3.4 0h1.6m4.8 0h1.6m4.4 0h1.6m3.4 0h1.6m2.4 0h1.6m4.3 0h1.6m38.7 0h1.6m.9 0h1.6m.4 0h1.6m10.3 0h1.6m11.4 0h1.6m7.3 0h1.6m1.4 0h1.6m1.9 0h1.6m1.9 0h2.6m9.8 0h2.6m11.3 0h1.6m2.9 0h1.6m3.4 0h1.6m31.2 0h1.6m9.4 0h1.6M80.8 253.3h1.6m4.4 0h1.6m2.4 0h3.6m4.8 0h4.1m2.4 0h1.6m.9 0h4.1m5.8 0h3.6m.4 0h1.6m2.4 0h1.6m2.4 0h1.6m.9 0h1.6m.4 0h2.1m1.3 0h5.1m3.9 0h1.6m1.4 0h3.1m.4 0h4m2.9 0h4.6m.9 0h2.1m2.4 0h2.1m3.8 0h2.1m.4 0h3.1m3.4 0h7.6m2.8 0h1.6m1.4 0h1.6m5.4 0h2.1m1.4 0h1.6m2.4 0h1.6m2.3 0h1.6m2.4 0h1.6m.4 0h3.1m5.9 0h1.6m2.8 0h4.6m.4 0h1.6m2.9 0h3.6m1.4 0h1.6m1.4 0h1.6m3.8 0h3.1m2.9 0h2.1m.4 0h1.6m.9 0h1.6m2.4 0h1.6m.8 0h3.1m.4 0h5.6m4.4 0h1.6m4.8 0h1.6m1.4 0h1.6m.4 0h2.6m1.9 0h4.1m5.8 0h1.6m.9 0h2.1m.9 0h2.1m2.9 0h1.6m.4 0h1.6m3.4 0h3m5.4 0h2.6m2.9 0h1.6m.4 0h1.6m.9 0h4.5m.4 0h1.6m2.4 0h1.6m1.4 0h1.6m.9 0h1.6m1.4 0h2.1m1.9 0h3.5m4.4 0h6.1m.9 0h1.6m6.3 0h1.6m.9 0h2.1m4.4 0h1.6m1.9 0h1.6m2.9 0h1.6m1.8 0h1.6m1.4 0h1.6m.4 0h1.6m.4 0h1.6m.9 0h3.6m2.4 0h3.1m.8 0h1.6m1.4 0h1.6m6.9 0h3.1m3.4 0h3.5m3.4 0h2.6m3.9 0h1.6m.4 0h1.6m5.8 0h2.1m2.4 0h1.6m1.4 0h1.6m1.4 0h2.1m2.9 0h1.6m1.3 0h2.1m3.4 0h2.1m6.4 0h2.1m1.4 0h3m8.9 0h1.6m2.9 0h2.6m.9 0h1.6m2.8 0h1.6m1.4 0h1.6m.4 0h2.6m.4 0h5.6m8.3 0h3.6m2.9 0h3.1m1.9 0h2.6M80.3 250.6h1.6m.9 0h1.6m.4 0h1.6m1.4 0h3.1m1.9 0h1.6m4.3 0h2.6m12.4 0h1.6m2.8 0h1.6m.9 0h6.1m8.4 0h2m1.4 0h2.1m.9 0h3.1m2.9 0h4.6m2.4 0h1.6m.8 0h1.6m2.4 0h1.6m1.4 0h2.6m1.4 0h1.6m1.9 0h1.6m.4 0h1.6m4.3 0h2.6m5.4 0h1.6m7.3 0h1.6m.9 0h2.1m5.9 0h1.6m1.4 0h1.6m5.3 0h1.6m1.4 0h1.6m1.9 0h1.6m1.9 0h1.6m1.9 0h1.6m5.3 0h1.6m6.9 0h1.6m.4 0h1.6m3.9 0h1.6m1.3 0h5.6m.9 0h1.6m1.4 0h2.1m2.4 0h1.6m4.3 0h1.6m.9 0h3.1m.9 0h3.1m1.9 0h2.6m.4 0h1.6m.4 0h1.6m3.8 0h1.6m2.4 0h2.6m.4 0h2.1m.9 0h4.6m3.8 0h1.6m1.9 0h7.6m1.4 0h3.1m3.3 0h1.6m.9 0h1.6m1.4 0h1.6m4.4 0h2.6m1.4 0h1.6m1.4 0h3.5m4.4 0h3.1m.9 0h3.1m2.9 0h6.5m.4 0h1.6m1.4 0h3.1m.4 0h1.6m1.4 0h3.1m.9 0h1.6m1.8 0h1.6m.9 0h1.6m1.9 0h1.6m1.4 0h2.6m8.8 0h1.6m5.9 0h2.1m.9 0h3.1m4.4 0h3.5m3.9 0h1.6m.9 0h1.6m.4 0h1.6m3.4 0h2.6m1.8 0h1.6m.9 0h3.1m3.4 0h2.1m1.4 0h2.1m3.4 0h1.6m.3 0h3.1m.9 0h1.6m.9 0h2.1m.4 0h1.6m3.9 0h2.1m1.4 0h1.6m1.3 0h1.6m.4 0h1.6m.9 0h1.6m2.4 0h4.6m.9 0h1.6m2.4 0h2m1.4 0h1.6m1.4 0h5.6m3.4 0h1.6m4.3 0h1.6m.4 0h1.6m3.4 0h1.6m.4 0h6.1m2.4 0h1.6m3.3 0h4.6m1.9 0h5.1m1.4 0h2.6M85.8 247.9h3.1m3.4 0h1.6m3.8 0h2.1m1.9 0h3.1m5.4 0h1.6m.4 0h1.6m1.4 0h2.5m2.9 0h4.1m.4 0h1.6m.4 0h1.6m1.9 0h1.6m.4 0h1.6m.9 0h2m.4 0h3.1m1.4 0h1.6m2.9 0h2.1m3.4 0h1.6m4.3 0h2.1m4.4 0h2.6m.4 0h1.6m2.4 0h3.1m.8 0h4.1m.9 0h1.6m2.4 0h1.6m1.4 0h4.1m5.3 0h1.6m.9 0h1.6m3.9 0h1.6m.9 0h1.6m.9 0h1.6m.9 0h1.6m.9 0h1.6m.8 0h2.1m.9 0h2.1m1.4 0h1.6m.4 0h1.6m.9 0h1.6m1.9 0h1.6m1.4 0h1.6m1.3 0h1.6m.4 0h1.6m1.9 0h1.6m3.9 0h1.6m3.4 0h2.6m.8 0h4.1m.4 0h1.6m3.9 0h4.6m2.4 0h3.5m5.4 0h4.6m3.9 0h2.1m3.3 0h2.1m2.4 0h2.6m4.9 0h1.6m.4 0h3.1m.4 0h1.6m4.3 0h3.1m2.9 0h1.6m.9 0h1.6m4.3 0h1.7m9.3 0h4.1m4.8 0h1.6m.4 0h4.6m1.4 0h1.6m.9 0h1.6m2.4 0h6.1m3.3 0h2.6m.4 0h2.1m.4 0h1.6m.4 0h1.6m1.4 0h4.1m1.3 0h1.6m4.9 0h1.6m5.4 0h3.6m1.9 0h4m4.9 0h1.6m2.9 0h10.5m.4 0h4.6m2.4 0h1.6m2.4 0h3.1m1.4 0h2.1m.3 0h1.6m.9 0h1.6m.9 0h1.6m.9 0h1.6m1.9 0h2.1m.4 0h1.6m1.4 0h1.6m5.8 0h1.6m.9 0h1.6m2.9 0h2.1m.4 0h1.6m2.9 0h1.6m.3 0h5.6m4.4 0h1.6m1.4 0h5.6m3.3 0h1.6m3.9 0h1.6m.4 0h3.6m.4 0h1.6m.4 0h1.6m5.8 0h1.6m.4 0h4.1m2.4 0h1.6m2.9 0h3.6m2.8 0h1.6m1.9 0h3.1m.9 0h1.6m2.4 0h4.6M85.3 245.2h1.6m.9 0h1.6m4.4 0h1.6m1.3 0h1.6m5.4 0h2.1m7.4 0h1.6m5.8 0h1.6m7.9 0h1.6m2.9 0h2.5m6.4 0h1.6m2.9 0h1.6m1.4 0h1.6m8.8 0h1.6m2.4 0h1.6m1.9 0h1.6m17.3 0h1.6m35.2 0h2.1m8.8 0h2.6m3.9 0h2.6m6.9 0h1.6m2.3 0h1.6m2.4 0h1.6m9.4 0h3.1m2.8 0h1.6m1.9 0h1.6m1.9 0h1.6m6.4 0h3.1m1.3 0h1.6m1.4 0h1.6m.4 0h1.6m19.3 0h3.1m.9 0h3.1m2.4 0h1.6m5.8 0h1.6m1.9 0h1.6m1.4 0h1.6m6.9 0h3m12.4 0h1.6m.9 0h1.6m1.8 0h1.6m5.9 0h1.6m1.4 0h2.1m.4 0h1.6m1.9 0h1.6m4.3 0h2.6m1.9 0h3.1m15.3 0h1.6m5.9 0h1.6m3.4 0h3.5m4.9 0h3.1m9.9 0h1.6m5.3 0h3.6m.4 0h1.6m6.4 0h1.6m.3 0h1.6m.4 0h1.6m2.9 0h1.6m.4 0h1.6m.4 0h1.6m2.9 0h1.6m3.8 0h1.6m.4 0h1.6m8.4 0h1.6m14.8 0h1.6m6.9 0h1.6m9.8 0h1.6m3.9 0h1.6m8.8 0h1.6m8.4 0h1.6M78.3 242.5h1.6m4.9 0h2.6m.9 0h2.1m1.4 0h4.1m.3 0h3.1m1.9 0h3.6m.9 0h1.6m1.4 0h3.6m1.4 0h2.1m4.8 0h2.1m2.4 0h3.1m2.4 0h3.1m1.4 0h10.5m2.9 0h3.1m1.4 0h4m.9 0h2.1m2.4 0h2.6m.4 0h1.6m.4 0h2.1m2.9 0h5m3.4 0h1.6m.4 0h4.1m.9 0h1.6m2.4 0h1.6m1.8 0h1.6m.4 0h1.6m.4 0h5.1m3.9 0h7.6m1.3 0h1.6m1.4 0h3.1m.9 0h1.6m7.4 0h10.5m2.9 0h1.6m.9 0h3.1m.4 0h1.6m2.3 0h4.1m1.4 0h4.1m.9 0h2.1m2.4 0h2.1m1.3 0h7.6m.4 0h1.6m.9 0h1.6m2.9 0h1.6m.9 0h7m1.4 0h6.1m1.4 0h3.1m.4 0h5m.4 0h5.6m3.9 0h3.1m1.4 0h3.1m.8 0h4.6m1.9 0h1.6m.4 0h10.6m1.3 0h3.6m1.4 0h6.1m2.4 0h1.6m.4 0h1.6m1.8 0h4.1m.4 0h3.1m2.4 0h4.6m2.4 0h4.5m1.4 0h3.6m.9 0h7.1m1.9 0h6.5m1.4 0h2.6m1.9 0h4.6m4.4 0h1.6m.3 0h1.6m10.9 0h1.6m2.4 0h4.1m.3 0h2.6m7.4 0h3.6m1.4 0h1.6m.4 0h1.6m.3 0h3.1m.9 0h1.6m1.4 0h1.6m2.4 0h1.6m.4 0h1.6m.4 0h4.1m.8 0h13.6m1.9 0h4.1m.8 0h2.1m1.4 0h2.1m.4 0h2.6m1.9 0h3.1m.9 0h1.6m1.4 0h4m.9 0h4.6m.4 0h2.1m.9 0h5.1m4.8 0h1.6m2.4 0h2.6m.4 0h2.6m.4 0h2.6m.9 0h3.1M81.3 239.9h1.6m.4 0h4.6m.4 0h2.6m.9 0h2.1m2.8 0h1.6m2.9 0h3.1m2.4 0h4.1m.4 0h1.6m2.8 0h1.6m3.4 0h13.1m.4 0h1.6m.3 0h3.6m11.9 0h8.5m1.9 0h2.6m1.4 0h2.6m1.4 0h1.6m.9 0h4.5m1.4 0h4.6m.9 0h1.6m.9 0h1.6m3.9 0h1.6m1.4 0h2.5m.4 0h3.1m.4 0h2.1m.4 0h6.6m3.9 0h3m.4 0h1.6m.4 0h1.6m.9 0h3.1m.4 0h1.6m3.9 0h1.6m.9 0h3.5m3.4 0h1.6m.4 0h4.1m.4 0h3.1m.4 0h2.6m1.4 0h1.6m.8 0h2.6m1.9 0h3.1m.4 0h1.6m2.4 0h2.1m.4 0h3.1m.3 0h1.6m.4 0h5.1m2.4 0h1.6m1.4 0h4.1m.4 0h1.6m1.8 0h2.6m.4 0h2.1m.9 0h15.5m.4 0h4.1m.9 0h5.1m1.9 0h9.5m4.4 0h4.1m2.4 0h5.1m.3 0h1.6m.9 0h8.6m1.4 0h1.6m3.4 0h2.6m1.8 0h1.6m1.4 0h1.6m.4 0h2.6m1.9 0h1.6m.4 0h1.6m.9 0h2.6m3.3 0h1.6m.4 0h4.1m1.9 0h3.1m7.8 0h3.1m1.4 0h2.6m.9 0h6.1m1.4 0h5m1.9 0h1.6m.4 0h1.6m1.4 0h2.6m.4 0h2.6m3.4 0h4m2.9 0h3.6m1.4 0h3.6m.4 0h2.6m1.4 0h1.6m.3 0h1.6m6.9 0h2.1m.9 0h1.6m.4 0h4.6m2.8 0h1.6m3.4 0h5.1m5.4 0h2.6m.4 0h1.6m1.8 0h1.6m.9 0h1.6m2.4 0h5.6m.4 0h4.1m6.3 0h5.1m2.9 0h1.6m4.3 0h6.1m1.9 0h2.1m5.4 0h3.1M81.8 237.2h1.6m2.4 0h1.6m4.4 0h1.6m6.3 0h2.6m1.4 0h1.6m.4 0h1.6m10.3 0h3.1m5.4 0h1.6m7.4 0h1.6m8.3 0h3.1m1.9 0h2.1m.4 0h1.6m2.3 0h1.6m22.8 0h1.6m3.9 0h2.6m.9 0h1.6m.9 0h1.6m7.8 0h2.1m2.4 0h1.6m1.4 0h3.1m11.8 0h1.6m1.9 0h1.6m.4 0h1.6m8.3 0h1.6m1.4 0h1.6m.9 0h2.6m12.3 0h7.1m1.9 0h1.6m.9 0h1.6m6.8 0h3.1m.4 0h2.1m.4 0h2.1m3.4 0h1.6m.4 0h3.5m7.4 0h1.6m4.4 0h1.6m.4 0h1.6m5.8 0h4.1m3.4 0h3.1m5.8 0h3.1m7.4 0h4.1m2.9 0h3m2.9 0h1.6m.9 0h2.6m1.4 0h1.6m1.9 0h1.6m2.9 0h1.6m2.3 0h1.6m4.4 0h1.6m2.9 0h1.6m16.8 0h1.6m3.4 0h1.6m.4 0h1.6m.8 0h4.1m4.4 0h1.6m2.9 0h1.6m7.8 0h1.6m5.4 0h1.6m1.9 0h1.6m1.9 0h1.6m.3 0h1.6m5.4 0h1.6m4.4 0h4.6m9.3 0h2.6m6.4 0h1.6m1.8 0h1.7m2.8 0h1.6m14.8 0h1.6m7.4 0h1.6m4.9 0h1.6m3.3 0h2.1m1.4 0h1.6m.9 0h1.6m2.4 0h1.6m2.4 0h1.6m12.3 0h1.6M80.8 234.5h1.6m1.4 0h1.6m1.4 0h1.6m2.9 0h1.6m5.8 0h1.6m.9 0h1.6m6.9 0h3.1m.9 0h1.6m.8 0h1.6m22.8 0h2.1m1.9 0h2.1m.4 0h1.6m1.9 0h1.6m.4 0h2.6m5.8 0h2.1m3.4 0h1.6m8.8 0h3.6m8.4 0h1.6m.4 0h2.1m1.4 0h1.6m.3 0h1.6m4.9 0h2.6m14.3 0h2.1m7.4 0h1.6m6.3 0h1.6m.4 0h6.6m.4 0h1.6m2.4 0h1.6m4.3 0h1.6m1.9 0h1.6m9.4 0h2.6m.4 0h3m.9 0h2.6m5.9 0h1.6m5.4 0h1.6m4.8 0h3.6m17.3 0h3.1m.9 0h2.6m.4 0h5.1m3.3 0h1.6m.4 0h3.1m.4 0h1.6m.4 0h3.1m.4 0h5.6m5.8 0h1.6m.4 0h2.1m1.4 0h1.6m10.8 0h4.6m2.9 0h1.6m1.4 0h3.1m1.9 0h2.6m1.3 0h1.6m2.4 0h1.6m7.9 0h1.6m1.9 0h2.6m6.3 0h1.6m6.4 0h1.6m6.3 0h1.6m5.9 0h2.1m.4 0h1.6m.4 0h2.1m1.4 0h2.1m4.3 0h1.6m11.4 0h1.6m1.8 0h1.6m4.4 0h1.6m.9 0h3.1m1.4 0h1.6m2.4 0h1.6m3.8 0h2.6m2.4 0h1.6m1.9 0h1.6m2.4 0h3.1m3.8 0h1.6m.9 0h1.6m.9 0h7.6m1.4 0h1.6m1.3 0h1.6m3.9 0h4.6m.4 0h2.6m11.3 0h1.6m9.4 0h1.6m.4 0h1.6M83.8 231.8h1.6m9.9 0h1.6m13.3 0h1.6m5.3 0h1.6m3.4 0h2.6m.9 0h1.6m5.4 0h1.6m.4 0h1.6m4.8 0h1.6m6.9 0h1.6m15.8 0h2.6m5.8 0h2.1m32.8 0h1.6m1.4 0h1.6m36.7 0h1.6m3.8 0h1.6m6.4 0h1.6m1.9 0h1.6m11.3 0h3.1m.4 0h2.1m.4 0h2.6m5.8 0h1.6m16.9 0h2m4.9 0h1.6m.4 0h1.6m7.9 0h1.6m12.3 0h4.1m7.3 0h1.6m10.9 0h1.6m4.8 0h1.6m9.9 0h1.6m12.3 0h2.6m4.4 0h3.6m2.8 0h1.6m3.9 0h1.6m10.4 0h1.6m9.3 0h1.6m10.8 0h1.6m15.4 0h1.6m14.8 0h3.1m3.3 0h1.6m1.4 0h1.6m4.4 0h1.6m1.4 0h1.6m.9 0h1.6m3.3 0h1.6m11.9 0h1.6m3.3 0h1.6m12.4 0h1.6m.4 0h1.6m6.3 0h1.6M82.3 229.1h1.6m.4 0h2.6m.9 0h1.6m13.8 0h1.6m.9 0h3.1m1.4 0h1.6m4.3 0h1.6m3.4 0h2.1m.9 0h6.1m1.4 0h1.6m3.3 0h1.6m1.4 0h1.6m.9 0h2.6m3.9 0h1.6m1.4 0h3.6m1.8 0h1.6m6.4 0h3.1m3.9 0h1.6m4.8 0h4.6m.9 0h1.6m9.8 0h1.6m9.9 0h1.6m1.4 0h1.6m6.3 0h3.6m.4 0h4.1m3.4 0h1.6m2.4 0h1.6m.8 0h1.6m7.9 0h3.6m.4 0h2.1m3.8 0h1.6m1.9 0h1.6m.4 0h1.6m2.9 0h1.6m2.4 0h4.6m1.8 0h1.6m2.9 0h3.1m1.9 0h2.1m3.4 0h2.6m8.8 0h2.1m1.4 0h4.6m1.9 0h1.6m.9 0h1.6m6.8 0h1.6m.4 0h3.1m1.9 0h1.6m.4 0h2.1m2.3 0h4.1m8.4 0h4.1m.4 0h2.6m3.3 0h3.1m2.9 0h2.1m3.9 0h1.6m4.3 0h2.6m3.4 0h1.6m.4 0h1.6m.9 0h1.6m1.9 0h1.6m1.8 0h1.6m2.4 0h1.6m1.4 0h1.6m2.9 0h1.6m1.4 0h1.6m4.8 0h1.6m2.4 0h1.6m8.4 0h1.6m3.8 0h1.6m.4 0h3.1m5.4 0h2.6m.4 0h1.6m.4 0h1.6m1.4 0h1.6m11.3 0h1.6m1.9 0h1.6m.4 0h3.6m1.3 0h1.6m2.4 0h1.6m.4 0h2.1m9.8 0h3.1m1.9 0h1.6m.9 0h1.6m.9 0h1.6m2.4 0h2.6m.9 0h4m1.9 0h1.6m1.4 0h3.1m.4 0h1.6m2.4 0h2.1m4.3 0h3.6m.4 0h6.1m.9 0h1.6m8.8 0h3.1m4.4 0h3.1m.9 0h2.1m1.4 0h1.6M79.3 226.4h1.6m7.4 0h2.6m2.9 0h4.5m2.4 0h2.6m2.9 0h1.6m4.9 0h5.5m.9 0h1.6m1.9 0h1.6m3.9 0h1.6m1.9 0h1.6m4.8 0h1.6m1.9 0h1.6m7.4 0h3.1m5.3 0h1.6m3.9 0h1.6m4.4 0h1.6m1.9 0h1.6m1.3 0h1.6m10.9 0h1.6m2.4 0h3.1m1.8 0h1.6m1.4 0h1.6m1.4 0h2.1m1.4 0h1.6m4.9 0h1.6m2.8 0h1.6m.4 0h1.6m2.9 0h1.6m1.4 0h2.1m1.9 0h2.1m.8 0h2.6m9.4 0h2.6m7.3 0h3.1m1.4 0h2.6m2.9 0h1.6m1.4 0h1.6m.9 0h1.6m.4 0h1.6m.8 0h1.6m1.9 0h1.6m4.9 0h1.6m.4 0h1.6m4.3 0h1.6m1.9 0h1.6m.4 0h4.1m2.9 0h2.6m1.4 0h1.6m.9 0h1.6m2.3 0h4.6m1.9 0h1.6m1.4 0h3.1m.9 0h1.6m.9 0h5.5m.9 0h4.1m.4 0h1.6m.4 0h1.6m.4 0h6.6m.3 0h3.1m3.4 0h3.6m3.9 0h1.6m4.3 0h3.6m.4 0h1.6m3.9 0h1.6m.9 0h2.6m.9 0h2.6m11.3 0h1.6m6.4 0h5m2.4 0h5.6m7.9 0h1.6m2.8 0h2.6m1.9 0h1.6m.4 0h1.6m3.4 0h3.6m1.8 0h1.6m9.4 0h3.1m.9 0h1.6m3.8 0h1.6m.9 0h2.1m6.4 0h1.6m.9 0h1.6m2.9 0h1.6m5.3 0h3.1m.9 0h3.1m.9 0h1.6m.4 0h1.6m7.8 0h3.1m1.4 0h1.6m1.4 0h2.1m.9 0h3.1m.4 0h2.5m1.9 0h1.6m.9 0h1.6m2.9 0h3.1m.9 0h2.1m7.8 0h1.6M84.3 223.7h3.6m.9 0h4.6m2.3 0h1.6m2.9 0h1.6m7.4 0h1.6m1.9 0h1.6m9.3 0h2.1m1.4 0h1.6m6.4 0h1.6m10.3 0h5.1m.4 0h1.6m3.8 0h1.6m3.4 0h3.1m1.9 0h1.6m.4 0h1.6m5.3 0h3.1m2.9 0h2.6m1.9 0h1.6m1.9 0h1.6m1.9 0h1.6m1.8 0h1.6m7.4 0h1.6m1.4 0h1.6m4.8 0h1.6m.9 0h1.6m2.9 0h3.1m.4 0h1.6m2.4 0h1.6m7.3 0h1.6m3.9 0h1.6m.4 0h2.1m2.9 0h3.1m1.3 0h2.6m.4 0h2.1m1.9 0h3.1m.4 0h2.1m2.4 0h3.6m.3 0h1.6m2.9 0h1.6m2.9 0h1.6m.4 0h1.6m3.4 0h1.6m8.8 0h1.6m3.4 0h1.6m2.4 0h3.1m.8 0h3.1m2.4 0h2.6m.4 0h1.6m.9 0h2.6m2.4 0h1.6m4.8 0h1.6m2.4 0h2.1m4.4 0h1.6m2.9 0h1.6m3.8 0h1.6m8.4 0h1.6m8.3 0h3.1m1.9 0h1.6m2.4 0h1.6m5.4 0h3m3.4 0h2.1m.4 0h2.6m6.9 0h3.6m3.3 0h1.6m11.4 0h1.6m5.8 0h1.6m10.4 0h1.6m.4 0h1.6m2.8 0h1.6m.9 0h1.6m2.9 0h2.1m10.3 0h2.6m7.4 0h1.6m1.4 0h1.6m3.3 0h2.6m1.9 0h1.6m1.9 0h1.6m1.4 0h1.6m.9 0h1.6m.9 0h1.6m.9 0h1.6m.3 0h1.6m.4 0h4.1m12.8 0h1.6m.4 0h1.6m2.4 0h1.6m.9 0h2.6m5.4 0h1.6m3.8 0h2.1m.4 0h1.6m.9 0h1.6m.9 0h1.6m4.9 0h2.6M117.6 221h1.6m61.6 0h1.6m3.4 0h1.6m5.4 0h1.6m51.1 0h2.6m23.8 0h1.6m7.3 0h1.6m.4 0h1.6m76.5 0h1.6m157.1 0h1.6m44.2 0h1.6M78.3 218.3h1.6m1.4 0h1.6m12.4 0h1.6m2.8 0h1.6m12.4 0h1.6m5.3 0h3.1m6.9 0h1.6m1.4 0h1.6m18.8 0h1.6m.3 0h1.6m5.4 0h2.6m5.4 0h1.6m23.2 0h1.6m6.9 0h1.6m4.4 0h1.6m12.8 0h1.6m5.9 0h1.6m24.2 0h1.6m2.4 0h1.6m5.9 0h2.6m5.8 0h1.6m2.4 0h1.6m1.9 0h1.6m3.4 0h1.6m7.8 0h2.6m24.8 0h1.6m3.9 0h1.6m2.3 0h2.6m3.4 0h1.6m1.4 0h5.1m2.9 0h1.6m.3 0h1.6m10.4 0h1.6m6.3 0h2.6m19.8 0h1.6m36.7 0h1.6m.9 0h1.6m4.4 0h1.6m2.4 0h1.6m8.8 0h1.6m7.4 0h1.6m10.8 0h1.6m12.8 0h1.6m4.4 0h1.6m11.8 0h2.1m.9 0h3.1m.4 0h1.6m5.9 0h1.6m2.4 0h1.6m1.8 0h1.6m.4 0h1.6m9.4 0h1.6m2.9 0h1.6m.3 0h1.6M78.3 215.6h1.6m.9 0h1.6m.4 0h1.6m.9 0h4.6m1.9 0h2.1m.9 0h2.1m.3 0h1.6m.4 0h1.6m2.4 0h3.1m1.4 0h1.6m6.3 0h3.1m.9 0h2.1m3.4 0h5.1m.4 0h1.6m3.3 0h4.1m3.4 0h1.6m.9 0h1.6m.4 0h2.6m1.9 0h1.6m.9 0h3m4.9 0h2.6m.9 0h4.1m1.4 0h1.6m7.3 0h3.6m1.9 0h4.6m1.9 0h1.6m7.3 0h1.6m5.4 0h1.6m.4 0h1.6m1.4 0h1.6m.8 0h1.6m.4 0h1.6m5.4 0h1.6m.9 0h3.1m.9 0h3.6m.3 0h4.1m3.9 0h5.6m.9 0h3.1m3.8 0h2.1m1.4 0h2.1m3.4 0h4.1m2.9 0h10m.9 0h1.6m.4 0h1.6m.4 0h2.6m.9 0h6.5m1.4 0h2.1m1.4 0h5.1m1.9 0h1.6m1.9 0h1.6m.3 0h3.1m1.9 0h1.6m2.4 0h5.6m7.8 0h2.1m.9 0h1.6m5.9 0h1.6m4.4 0h2.1m2.3 0h3.1m.9 0h3.6m2.9 0h1.6m1.4 0h1.6m.4 0h1.6m2.3 0h1.6m.9 0h5.6m.9 0h3.1m.9 0h4.1m.3 0h4.1m3.9 0h3.6m.4 0h1.6m1.9 0h1.6m6.8 0h1.6m.9 0h1.6m3.4 0h2.6m1.9 0h1.6m8.3 0h1.6m3.9 0h3.1m.4 0h2.6m1.4 0h5.5m.4 0h1.6m1.4 0h1.6m5.9 0h2.1m1.8 0h3.6m5.4 0h1.6m2.9 0h5.6m3.8 0h1.6m.9 0h2.1m.9 0h2.6m1.4 0h2.6m.4 0h4.1m2.3 0h4.1m1.9 0h3.6m3.9 0h4.1m1.3 0h2.1m2.4 0h3.6m1.9 0h1.6m1.4 0h1.6m1.9 0h4.1m1.3 0h1.6m.4 0h1.6m.4 0h2.1m1.4 0h2.6m.9 0h1.6m1.9 0h2.1M80.3 212.9h4.1m.9 0h1.6m1.4 0h1.6m.4 0h1.6m1.4 0h1.6m2.8 0h1.6m2.4 0h1.6m2.9 0h2.6m1.4 0h2.1m8.3 0h2.1m6.4 0h2.6m2.4 0h1.6m5.3 0h1.6m.4 0h1.6m.4 0h3.6m4.4 0h2.1m1.8 0h1.6m2.9 0h1.6m1.4 0h1.6m2.4 0h1.6m1.9 0h1.6m7.3 0h3.1m4.4 0h1.6m4.4 0h3m2.4 0h1.6m8.4 0h1.6m1.4 0h1.6m.4 0h2.5m2.4 0h2.1m3.4 0h1.6m9.3 0h1.6m6.4 0h2.6m7.9 0h4m.9 0h4.1m.9 0h2.1m1.4 0h1.6m.9 0h2.1m3.3 0h2.6m1.4 0h4.6m.9 0h1.6m.9 0h2.6m2.9 0h1.6m2.8 0h2.1m2.9 0h1.6m1.4 0h1.6m2.9 0h1.6m.9 0h3.1m.3 0h3.6m2.9 0h3.1m4.4 0h2.1m.4 0h2.6m5.8 0h1.6m2.4 0h1.6m3.9 0h2.1m.9 0h1.6m1.3 0h1.6m4.4 0h2.6m2.4 0h1.6m1.4 0h6m1.4 0h2.6m.4 0h1.6m.9 0h1.6m.9 0h1.6m.4 0h1.6m2.4 0h1.6m.8 0h3.1m2.9 0h1.6m.4 0h4.1m2.9 0h1.6m.9 0h4.1m.8 0h3.1m1.9 0h3.1m4.9 0h1.6m1.9 0h1.6m2.3 0h1.6m.9 0h1.6m.4 0h1.6m7.4 0h1.6m.4 0h1.6m5.3 0h2.1m.4 0h1.6m4.4 0h1.6m2.9 0h4m6.4 0h2.1m.9 0h1.6m4.9 0h1.6m1.3 0h1.6m.4 0h1.6m.9 0h1.6m15.8 0h1.6m1.4 0h2.1m1.9 0h1.6m1.9 0h1.6m3.4 0h1.6m2.8 0h1.6m3.9 0h1.6m.9 0h2.6m.4 0h2.1m1.9 0h2.6m1.8 0h2.6m.4 0h3.1m1.4 0h1.6m1.9 0h1.6m.4 0h3.1M80.8 210.2h1.6m.4 0h2.6m4.4 0h3.1m1.9 0h1.6m1.3 0h2.1m2.4 0h1.6m7.9 0h3.1m.4 0h1.6m2.8 0h1.6m5.4 0h2.6m1.9 0h1.6m.4 0h1.6m2.8 0h1.6m.4 0h1.6m1.4 0h1.6m.4 0h1.6m1.4 0h3.1m1.9 0h3.1m7.8 0h1.6m3.9 0h2.1m2.4 0h5m1.9 0h2.1m4.9 0h5.1m3.3 0h1.6m7.4 0h3.1m4.4 0h3.1m5.3 0h1.6m4.9 0h3.1m3.4 0h1.6m2.3 0h1.6m1.9 0h1.6m1.4 0h4.6m.4 0h6.1m.3 0h4.6m1.4 0h1.6m1.4 0h1.6m1.4 0h2.6m1.9 0h1.6m1.8 0h1.6m.4 0h2.1m8.9 0h1.6m.4 0h3.6m.4 0h1.6m.3 0h1.6m1.4 0h2.1m2.4 0h1.6m1.9 0h9.5m3.4 0h1.6m1.9 0h2.1m.9 0h3.1m1.4 0h2.1m1.3 0h3.1m.4 0h1.6m1.9 0h2.6m.4 0h1.6m7.9 0h1.6m.3 0h2.6m.9 0h1.6m1.4 0h1.6m1.4 0h2.1m.9 0h1.6m8.3 0h1.6m.4 0h4.1m2.9 0h3.1m.4 0h2.6m.8 0h1.6m2.9 0h1.6m2.4 0h1.6m1.9 0h4.6m.4 0h1.6m1.8 0h1.6m1.9 0h3.6m6.9 0h1.6m1.4 0h3.6m2.3 0h2.1m.9 0h1.6m1.4 0h1.6m.9 0h1.6m5.9 0h3m.4 0h2.6m2.4 0h3.1m1.4 0h6.6m3.3 0h2.6m3.4 0h2.1m.9 0h1.6m1.9 0h1.6m.4 0h1.6m3.3 0h2.1m.4 0h2.1m6.9 0h3.1m.4 0h1.6m1.8 0h1.6m1.4 0h1.6m2.9 0h1.6m.9 0h3.1m.4 0h1.6m2.4 0h1.6m.8 0h1.6m6.9 0h1.6m.9 0h5.1m1.4 0h2.6m1.8 0h1.6m1.4 0h6.6m4.9 0h1.6M80.3 207.5h1.6m4.4 0h3.1m1.4 0h1.6m1.9 0h2.6m2.3 0h1.6m.9 0h1.6m9.4 0h1.6m1.3 0h1.6m3.4 0h1.6m4.4 0h3.1m8.8 0h1.6m5.9 0h1.6m.9 0h1.6m3.4 0h1.6m9.8 0h1.6m.9 0h1.6m4.9 0h3m4.9 0h1.6m1.9 0h1.6m6.4 0h1.6m34.7 0h1.6m10.8 0h5.1m12.8 0h1.6m4.9 0h2.6m5.4 0h1.6m3.3 0h1.6m1.9 0h1.6m.4 0h2.6m6.9 0h2m9.9 0h1.6m.9 0h1.6m.9 0h4.1m.3 0h1.6m.4 0h1.6m3.4 0h1.6m1.9 0h2.1m3.4 0h1.6m10.3 0h4.1m3.4 0h1.6m.4 0h3m6.9 0h1.6m9.8 0h1.7m.8 0h1.6m1.4 0h1.6m.9 0h1.6m21.8 0h1.6m.4 0h1.6m5.8 0h1.6m5.4 0h1.6m11.8 0h1.6m3.4 0h1.6m11.4 0h2.5m7.9 0h1.6m1.9 0h2.1m.4 0h1.6m6.3 0h1.6m23.8 0h2.1m3.9 0h1.6m2.4 0h1.6m.3 0h1.6m.9 0h1.6m.4 0h1.6m6.4 0h1.6m4.8 0h1.6m3.4 0h1.6m1.4 0h1.6m6.9 0h2.6m2.8 0h1.6m.4 0h1.6m1.4 0h2.1M83.3 204.8h1.6m1.9 0h1.6m9.3 0h2.6m.4 0h1.6m7.9 0h1.6m8.8 0h2.1m.4 0h1.6m11.3 0h1.6m12.9 0h1.6m17.8 0h1.6m1.4 0h1.6m3.8 0h2.1m14.8 0h1.6m13.9 0h1.6m5.8 0h2.6m3.4 0h1.6m5.4 0h1.6m1.4 0h1.6m29.7 0h1.6m1.4 0h1.6m7.3 0h2.6m2.4 0h1.6m2.4 0h1.6m4.9 0h1.6m7.8 0h1.6m2.4 0h1.6m7.3 0h1.6m1.9 0h1.6m5.9 0h1.6m5.4 0h1.6m29.7 0h1.6m45.7 0h1.6m.9 0h1.6m27.2 0h1.6m5.9 0h1.6m.4 0h1.6m6.3 0h2.1m11.8 0h1.6m1.9 0h1.6m15.3 0h1.6m.4 0h1.6m7.4 0h1.6m9.3 0h1.6m20.8 0h1.6m9.9 0h1.6m4.8 0h1.6M81.3 202.2h3.6m2.4 0h1.6m5.9 0h1.6m1.3 0h1.6m3.4 0h2.1m5.4 0h1.6m.9 0h2.1m1.8 0h1.6m3.9 0h2.1m1.4 0h1.6m.4 0h1.6m5.9 0h1.6m2.8 0h2.1m.4 0h2.6m.9 0h1.6m.9 0h2.1m2.4 0h3.1m.8 0h2.1m3.9 0h4.1m10.8 0h1.6m10.9 0h2.1m3.3 0h3.1m4.4 0h1.6m.4 0h5.6m6.3 0h1.6m2.4 0h10.1m1.9 0h1.6m2.3 0h3.1m.9 0h2.6m2.4 0h3.6m.9 0h1.6m.9 0h2.1m2.3 0h1.6m1.9 0h2.1m.4 0h1.6m6.9 0h3.1m1.8 0h4.6m.9 0h1.6m.9 0h1.6m.4 0h1.6m2.4 0h2.1m.9 0h1.6m.8 0h2.6m3.9 0h1.6m.9 0h1.6m3.9 0h1.6m2.8 0h1.6m5.4 0h1.6m.4 0h8.1m1.4 0h6m.4 0h1.6m3.9 0h1.6m.9 0h1.6m.9 0h1.6m.9 0h1.6m.8 0h2.6m.4 0h4.6m.4 0h2.1m1.4 0h1.6m3.9 0h2.1m.3 0h1.7m2.8 0h2.6m1.9 0h3.6m1.4 0h2.6m3.3 0h1.6m1.9 0h1.6m.4 0h2.6m.9 0h1.6m1.4 0h6.1m.4 0h3.1m.8 0h1.6m4.9 0h2.1m3.9 0h3.6m.4 0h1.6m.3 0h1.6m5.9 0h3.1m.4 0h4.1m.4 0h1.6m1.4 0h2.1m.8 0h1.6m2.9 0h4.6m.9 0h1.6m12.3 0h1.6m5.4 0h1.6m1.4 0h1.6m1.4 0h3.5m7.4 0h1.6m.4 0h2.6m3.4 0h1.6m.3 0h1.6m2.9 0h1.6m4.4 0h1.6m1.9 0h1.6m.4 0h4.1m4.8 0h1.6m2.9 0h2.6m.4 0h1.6m.4 0h1.6m.9 0h1.6m6.3 0h1.6m.4 0h2.1m1.4 0h1.6m3.9 0h3.6M79.3 199.5h11.6m.4 0h2.1m.4 0h8m.4 0h39.4m.9 0h3.1m.4 0h5.1m.9 0h9.5m.9 0h19m.9 0h19m.4 0h4.6m.9 0h29m.3 0h15.1m1.4 0h6.5m1.9 0h6.1m.4 0h17.5m.4 0h6.6m.4 0h86.1m.4 0h1.6m.4 0h38.9m1.4 0h20.5m.9 0h1.6m.9 0h12m2.4 0h4.6m.4 0h1.6m2.4 0h13m.4 0h8.1m.4 0h4.1m.3 0h8.1m1.9 0h9.6m.3 0h8.1m.9 0h3.1m.4 0h12m.4 0h12.1m.4 0h17m.9 0h3.1M78.8 196.8h1.6m.4 0h1.6m3.9 0h1.6m.4 0h1.6m1.9 0h4.6m3.8 0h3.1m22.8 0h1.6m4.9 0h1.6m7.8 0h2.1m.4 0h1.6m1.4 0h1.6m1.4 0h1.6m8.3 0h1.6m1.4 0h1.6m2.9 0h1.6m2.4 0h1.6m.9 0h2.1m6.3 0h1.6m2.4 0h1.6m.9 0h3.1m2.8 0h1.6m2.4 0h1.6m3.4 0h1.6m.4 0h2.1m1.4 0h3.6m.9 0h1.6m8.8 0h1.6m5.9 0h2.1m4.3 0h1.6m1.4 0h1.6m.4 0h4.6m6.8 0h1.6m3.4 0h1.6m4.9 0h1.6m1.9 0h2.6m8.3 0h3.6m1.9 0h1.6m.4 0h2.1m6.8 0h1.6m.9 0h1.6m6.4 0h2.6m1.9 0h1.6m3.3 0h1.6m1.9 0h1.6m2.9 0h6.1m11.8 0h7.6m1.9 0h2.6m1.8 0h4.6m1.9 0h1.6m1.9 0h2.6m1.9 0h1.6m3.3 0h4.1m1.9 0h2.1m.4 0h1.6m1.4 0h1.6m5.8 0h1.6m2.4 0h1.6m.4 0h1.6m1.9 0h2.6m.9 0h1.6m2.4 0h1.6m3.3 0h1.6m1.9 0h1.6m15.3 0h1.6m2.4 0h1.6m2.4 0h2.1m.4 0h3.1m2.9 0h1.6m11.3 0h1.6m3.4 0h1.6m.3 0h1.6m1.4 0h2.1m5.9 0h2.1m7.3 0h3.1m.9 0h1.6m6.4 0h1.6m6.3 0h1.6m.9 0h3.1m5.9 0h3.1m8.8 0h3.1m2.4 0h1.6m.9 0h2.6m3.4 0h1.6m3.3 0h2.6m4.4 0h1.6m2.9 0h3.1M83.3 194.1h1.6m6.9 0h1.6m6.8 0h1.6m10.4 0h1.6m6.8 0h1.6m5.9 0h1.6m9.8 0h1.6m.9 0h1.6m3.9 0h1.6m12.3 0h1.6m.4 0h2.1m5.4 0h3.1m.9 0h1.6m5.3 0h1.6m4.4 0h2.6m.9 0h1.6m16.8 0h2.6m1.9 0h1.6m7.3 0h3.1m.4 0h3.6m11.3 0h1.6m17.3 0h3.6m.4 0h1.6m1.4 0h1.6m7.3 0h2.6m5.9 0h1.6m3.9 0h1.6m13.8 0h1.6m4.4 0h1.6m3.8 0h3.1m11.9 0h1.6m22.2 0h1.6m7.9 0h3.1m1.4 0h1.6m8.3 0h1.6m.4 0h1.6m17.3 0h1.6m5.4 0h1.6m2.9 0h1.6m2.8 0h1.6m.4 0h1.6m50.7 0h1.6m2.8 0h1.6m6.9 0h1.6m10.3 0h1.6m1.4 0h1.6m18.3 0h1.6m3.4 0h1.6m.4 0h1.6m2.4 0h1.6m11.8 0h4.6m4.4 0h1.6m5.8 0h1.6M120.6 191.4h3.1m18.3 0h1.6m3.9 0h1.6m5.4 0h1.6m32.7 0h1.6m6.3 0h1.6m46.2 0h1.6m5.4 0h1.6m22.2 0h1.6m.9 0h1.6m3.4 0h1.6m13.3 0h1.6m38.2 0h1.6m6.9 0h1.6m11.3 0h1.6m3.4 0h4.1m13.3 0h1.6m1.4 0h1.6m2.4 0h1.6m16.3 0h1.6m9.8 0h1.6m13.4 0h1.6m10.3 0h1.6m19.8 0h1.6m6.3 0h1.6m17.9 0h1.6m45.1 0h1.6m5.9 0h1.6m11.3 0h1.6m1.9 0h1.6m.9 0h1.6M80.8 188.7h1.6m2.9 0h1.6m.4 0h1.6m13.8 0h1.6m2.4 0h3.1m18.3 0h1.6m1.4 0h2.6m.4 0h1.6m15.8 0h2.6m32.2 0h1.6m3.9 0h2.1m.4 0h1.6m6.8 0h1.6m5.9 0h1.6m13.8 0h1.6m4.4 0h1.6m8.3 0h1.6m1.9 0h1.6m13.3 0h1.6m3.4 0h1.6m.4 0h1.6m1.9 0h1.6m10.8 0h1.6m1.9 0h1.6m4.4 0h1.6m4.8 0h1.6m.4 0h1.6m7.9 0h1.6m6.3 0h1.6m6.4 0h1.6m.4 0h2.6m1.9 0h1.6m7.8 0h2.6m5.4 0h1.6m11.8 0h1.6m9.3 0h1.7m1.3 0h1.6m4.4 0h1.6m9.8 0h3.1m3.9 0h1.6m4.4 0h1.6m3.4 0h1.6m1.3 0h2.6m7.4 0h1.6m26.3 0h1.6m7.8 0h1.6m8.4 0h1.6m3.3 0h1.6m2.9 0h1.6m3.4 0h1.6m10.3 0h1.6m6.4 0h1.6m14.3 0h1.6m2.4 0h2.6m2.4 0h1.6m14.8 0h1.6m1.4 0h1.6M87.3 186h1.6m9.3 0h1.6m12.4 0h1.6m6.3 0h1.6m16.3 0h1.6m3.9 0h1.6m.4 0h1.6m8.8 0h1.6m4.4 0h1.6m11.8 0h1.6m21.8 0h2.1m8.4 0h1.6m5.8 0h1.6m18.3 0h1.6m1.4 0h2.6m20.8 0h4.1m13.3 0h1.6m21.3 0h1.6m7.4 0h1.6m20.3 0h2.5m9.4 0h3.6m2.9 0h1.6m10.8 0h1.6m6.4 0h1.6m10.3 0h5.1m4.8 0h1.6m21.3 0h1.6m5.4 0h1.6m13.3 0h3.6m4.9 0h2.6m10.3 0h1.6m26.3 0h1.6m.4 0h1.6m4.8 0h2.6m10.4 0h1.6m3.8 0h1.6m1.9 0h1.6m2.4 0h1.6m19.3 0h1.6m19.3 0h1.6M104.7 183.3h2.1m8.4 0h1.6m18.7 0h1.6m9.9 0h1.6m3.9 0h1.6m1.3 0h1.6m8.4 0h1.6m1.4 0h1.6m1.4 0h1.6m1.4 0h1.6m7.3 0h1.6m4.9 0h1.6m2.4 0h1.6m3.8 0h1.6m7.9 0h3.1m2.4 0h1.6m3.8 0h1.6m3.9 0h1.6m2.4 0h1.6m7.3 0h1.6m9.9 0h1.6m4.3 0h1.6m7.9 0h1.6m.9 0h1.6m13.8 0h1.6m6.4 0h1.6m.4 0h1.6m.8 0h1.6m3.4 0h3.1m12.3 0h3.6m3.9 0h5.6m3.4 0h1.6m1.8 0h1.6m6.4 0h1.6m1.9 0h4.1m4.3 0h1.6m.9 0h1.6m.9 0h1.6m1.9 0h1.6m8.8 0h1.7m2.8 0h1.6m3.4 0h4.1m3.9 0h1.6m4.3 0h1.6m12.4 0h1.6m2.8 0h1.6m6.9 0h1.6m8.3 0h3.6m2.9 0h2.1m2.4 0h1.6m.4 0h1.6m7.3 0h1.6m2.9 0h1.6m20.3 0h1.6m.4 0h1.6m1.9 0h1.6m8.3 0h1.6m4.4 0h1.6m11.3 0h1.6m1.9 0h1.6m2.9 0h1.6m3.9 0h1.6m.4 0h1.6m.3 0h1.6m.9 0h1.6m1.9 0h1.6m.9 0h1.6m.4 0h1.6m11.3 0h1.6m7.9 0h1.6M79.3 177.9h11.1m.4 0h6.5m.4 0h4.1m4.4 0h1.6m.9 0h3.1m1.9 0h2.1m.3 0h3.1m1.4 0h5.6m.4 0h1.6m3.4 0h4.1m.3 0h7.6m.9 0h5.1m2.4 0h1.6m3.3 0h3.1m.4 0h2.1m.4 0h2.1m.4 0h2.1m.9 0h1.6m.4 0h1.6m.9 0h1.6m.4 0h1.6m.3 0h4.1m1.4 0h3.6m.9 0h6.6m1.4 0h2m.4 0h1.6m3.4 0h4.1m.9 0h1.6m.9 0h3.6m1.4 0h3m2.4 0h2.6m1.4 0h2.6m2.4 0h2.6m1.4 0h4m5.4 0h4.1m.4 0h1.6m.4 0h1.6m4.8 0h4.6m1.4 0h6.1m2.4 0h12m2.4 0h8.1m1.9 0h2.5m.4 0h6.6m.4 0h5.1m1.4 0h9.5m1.4 0h4.6m.4 0h3.1m.4 0h1.6m.4 0h1.6m1.3 0h5.6m1.4 0h1.6m2.9 0h4.6m3.3 0h4.1m1.4 0h2.1m2.4 0h12m1.4 0h1.6m.4 0h5.1m.4 0h5.1m.9 0h6m2.4 0h3.1m.9 0h2.1m.4 0h3.1m1.9 0h4.6m.3 0h4.6m.9 0h4.1m.4 0h3.1m3.4 0h15m.9 0h1.6m.4 0h2.6m4.3 0h1.6m1.9 0h1.6m.9 0h2.1m1.9 0h1.6m4.4 0h1.6m.3 0h1.6m2.9 0h3.1m1.9 0h2.1m1.4 0h1.6m1.4 0h11.5m1.9 0h1.6m1.9 0h3.1m1.9 0h2.5m6.4 0h2.6m.4 0h6.1m3.3 0h3.1m1.4 0h3.1m.9 0h1.6m3.4 0h9m.9 0h1.6m.4 0h3.6m3.9 0h5.6M78.8 175.2h4.6m.4 0h3.6m4.4 0h2.1m.4 0h1.6m2.8 0h1.6m1.4 0h3.6m.4 0h1.6m3.4 0h1.6m.4 0h4.1m.3 0h1.6m1.4 0h1.6m1.4 0h1.6m.4 0h3.1m1.9 0h2.1m7.3 0h4.1m2.9 0h1.6m.4 0h3.1m.4 0h6m.9 0h4.6m1.9 0h3.1m.9 0h1.6m4.3 0h6.1m4.9 0h4.6m.9 0h2.6m6.8 0h1.6m1.9 0h1.6m.9 0h3.6m.4 0h1.6m1.4 0h1.6m.8 0h1.6m6.4 0h1.6m.4 0h2.6m.4 0h2.1m.9 0h4m2.4 0h1.6m1.4 0h2.1m1.9 0h4.6m.4 0h1.6m.4 0h4m.9 0h2.1m.9 0h3.1m4.9 0h1.6m.4 0h2.6m3.8 0h1.6m1.9 0h1.6m2.9 0h6.1m.4 0h2.1m3.3 0h5.6m.9 0h1.6m.9 0h1.6m2.9 0h3.1m.8 0h1.6m1.4 0h2.6m.9 0h3.1m.4 0h5.1m1.4 0h2.6m2.3 0h5.6m1.4 0h2.6m1.4 0h4.6m.4 0h4m1.4 0h2.6m2.4 0h1.6m1.9 0h2.6m5.4 0h2.1m4.8 0h3.6m3.9 0h6.6m1.8 0h1.6m8.4 0h1.6m.4 0h4.1m8.3 0h1.6m2.4 0h3.1m4.4 0h4.5m2.4 0h2.6m2.4 0h1.6m2.4 0h1.6m.9 0h1.6m3.8 0h1.6m.4 0h3.6m3.4 0h3.1m1.4 0h1.6m.4 0h1.6m.8 0h1.6m.4 0h2.1m.9 0h2.1m.9 0h2.6m1.9 0h1.6m.4 0h1.6m.4 0h1.6m6.8 0h3.1m1.4 0h3.6m.9 0h1.6m1.9 0h1.6m4.3 0h2.1m.4 0h2.1m7.9 0h1.6m6.3 0h1.6m.4 0h5.1m.9 0h1.6m1.9 0h4.6m1.3 0h2.6m.9 0h1.6m2.9 0h2.1m3.4 0h3.1M80.8 172.5h4.6m1.4 0h4.1m.4 0h2.1m3.8 0h2.1m.4 0h6.1m2.9 0h1.6m.4 0h4.1m.4 0h4.5m1.4 0h5.1m.9 0h3.1m2.4 0h1.6m2.8 0h1.6m1.4 0h2.6m5.4 0h1.6m.9 0h1.6m10.3 0h2.6m.9 0h9.1m9.3 0h3.6m1.4 0h1.6m1.9 0h1.6m2.8 0h2.6m2.4 0h2.6m.4 0h3.1m1.4 0h3.1m2.8 0h1.6m.4 0h1.6m3.4 0h1.6m2.9 0h2.1m1.9 0h7.5m.9 0h1.6m1.4 0h1.6m4.4 0h1.6m1.4 0h1.6m.4 0h5.5m1.4 0h1.6m2.9 0h4.1m4.4 0h4m2.4 0h1.6m3.9 0h5.1m1.4 0h5.5m2.4 0h1.6m3.4 0h1.6m3.9 0h4.6m2.3 0h4.1m6.4 0h1.6m1.4 0h4.1m1.3 0h1.6m7.4 0h1.6m6.9 0h1.6m.8 0h7.6m3.9 0h5.1m.4 0h1.6m.3 0h3.1m.4 0h2.1m.9 0h1.6m1.4 0h1.6m1.4 0h1.6m2.4 0h1.6m.4 0h7m.9 0h4.6m.9 0h1.6m.4 0h1.6m.4 0h1.6m.9 0h3m2.4 0h1.6m2.9 0h3.1m2.4 0h2.1m3.3 0h2.6m.9 0h2.6m1.4 0h1.6m1.4 0h1.6m1.4 0h1.6m.4 0h1.6m4.8 0h4.6m.9 0h1.6m.4 0h1.6m.9 0h2.1m2.4 0h1.6m3.8 0h8.6m2.9 0h6.1m.3 0h2.1m.9 0h2.6m.4 0h1.6m1.9 0h2.6m.4 0h3.1m.9 0h1.6m4.8 0h1.6m1.9 0h5.1m3.4 0h1.6m.4 0h6m.4 0h2.1m7.4 0h1.6m2.4 0h3.1m.3 0h1.6m4.9 0h4.6m.4 0h1.6m2.9 0h1.6m.4 0h1.6M79.3 169.8h2.6m.9 0h1.6m1.9 0h2.6m.4 0h1.6m1.9 0h1.6m1.3 0h1.6m.4 0h1.6m1.4 0h1.6m1.4 0h1.6m4.4 0h2.1m.9 0h7m.4 0h1.6m1.9 0h1.6m.9 0h4.1m.4 0h3.6m1.3 0h1.6m.4 0h3.1m3.9 0h3.1m.4 0h3.6m.9 0h2.1m4.3 0h2.6m.9 0h2.1m.9 0h4.1m.4 0h4.1m2.3 0h1.6m3.9 0h4.1m1.9 0h4.6m2.8 0h7.1m.4 0h3.6m.9 0h4.1m3.4 0h2m2.4 0h5.1m.9 0h3.1m.4 0h1.6m.4 0h3.6m.8 0h9.1m.4 0h2.6m2.4 0h2.6m.9 0h14.5m4.4 0h2.6m.8 0h2.1m3.4 0h1.6m.4 0h8.6m.4 0h2.6m.3 0h8.1m.9 0h6.1m4.4 0h6.5m.4 0h1.6m.9 0h1.6m4.9 0h6.1m2.3 0h4.1m.4 0h1.6m1.4 0h3.1m.4 0h3.1m1.4 0h1.6m1.8 0h1.6m1.4 0h8.6m.4 0h4.6m.8 0h10.6m2.9 0h4.1m.4 0h4m.9 0h1.6m2.4 0h7.1m.9 0h4.6m4.3 0h7.6m.9 0h4.1m1.9 0h8m1.9 0h8.1m.9 0h4.5m2.4 0h1.6m3.9 0h1.6m.9 0h1.6m.9 0h7.5m.4 0h4.1m.4 0h1.6m.9 0h2.1m1.4 0h1.6m1.9 0h1.6m3.3 0h5.1m1.9 0h1.6m.9 0h2.6m1.9 0h1.6m.4 0h8.5m1.9 0h7.1m.4 0h1.6m.4 0h3.1m.3 0h3.6m.4 0h3.6m.4 0h1.6m.4 0h1.6m.9 0h2.1m1.9 0h1.6m.8 0h12.6m.4 0h5.6M84.8 167.1h3.1m.4 0h1.6m.4 0h3.1m2.8 0h1.6m7.4 0h1.6m.9 0h2.1m3.4 0h2.1m5.3 0h2.1m.4 0h2.1m.9 0h2.6m3.9 0h1.6m5.8 0h1.6m.9 0h1.6m.9 0h1.6m8.4 0h1.6m8.3 0h1.6m.9 0h3.1m.9 0h1.6m8.8 0h1.6m5.4 0h2.1m9.3 0h1.6m1.9 0h1.6m.4 0h2.1m.4 0h1.6m.9 0h2.6m1.9 0h1.5m.4 0h1.6m.9 0h1.6m1.9 0h1.6m.9 0h3.1m2.4 0h1.6m.4 0h1.6m.3 0h2.1m.4 0h1.6m2.4 0h1.6m2.9 0h2.1m6.8 0h3.6m1.9 0h1.6m.9 0h4.1m.4 0h2.6m.4 0h4.1m.3 0h3.6m2.9 0h1.6m.4 0h2.6m.9 0h4.1m1.4 0h1.6m2.8 0h1.6m1.4 0h3.1m.4 0h1.6m1.4 0h1.6m1.4 0h1.6m4.8 0h2.6m.9 0h1.6m9.4 0h1.6m2.4 0h3m.4 0h1.6m1.4 0h3.1m4.4 0h2.6m1.9 0h4.5m4.4 0h1.6m3.9 0h2.1m2.9 0h5m1.4 0h1.6m.9 0h1.6m4.4 0h1.6m2.9 0h1.6m1.8 0h2.1m2.4 0h3.6m.9 0h1.6m1.4 0h1.6m3.4 0h2.6m.3 0h1.6m11.4 0h1.6m.9 0h4.1m8.3 0h1.6m5.9 0h3.1m.4 0h1.6m.8 0h1.6m5.4 0h1.6m4.4 0h1.6m3.3 0h1.6m3.4 0h1.6m2.4 0h1.6m.9 0h4.6m.9 0h2.6m1.8 0h4.6m3.4 0h2.6m.4 0h3.1m.4 0h3.1m5.8 0h1.6m5.9 0h1.6m2.9 0h3.1m.3 0h2.6m5.9 0h3.6m6.9 0h1.6m.8 0h1.6m1.9 0h1.6m1.4 0h1.6M78.8 159.1h4.1m1.9 0h6.1m1.4 0h3.1m.3 0h2.6m.4 0h1.6m1.4 0h6.1m2.4 0h7m1.4 0h4.1m.4 0h3.1m8.9 0h8m.4 0h12.6m.3 0h2.1m.9 0h1.6m1.9 0h4.6m1.4 0h1.6m.9 0h6.5m.4 0h9.1m.9 0h5.6m2.3 0h14.1m.9 0h8.5m.9 0h4.1m.4 0h3.6m.9 0h16m1.4 0h9.1m.3 0h1.6m.4 0h1.6m1.9 0h2.1m.9 0h7.1m.4 0h5m.4 0h1.6m.4 0h3.1m.4 0h2.1m.4 0h5.6m.4 0h4.1m.8 0h2.1m.4 0h15.6m.3 0h10.1m.4 0h5.1m1.9 0h3.6m.3 0h6.6m.4 0h14.5m.9 0h4.1m.9 0h3.6m3.4 0h2.6m5.3 0h5.1m1.4 0h2.1m2.4 0h1.6m2.4 0h2m2.4 0h7.6m.4 0h6.6m6.3 0h3.6m2.4 0h3.6m.4 0h1.6m5.3 0h2.1m6.9 0h6.1m2.4 0h4m.9 0h1.6m.4 0h2.6m.9 0h1.6m.4 0h1.6m1.4 0h2.6m.9 0h2.1m.3 0h4.6m.4 0h1.6m.4 0h9.6m1.4 0h2.6m.3 0h1.6m1.4 0h1.6m.4 0h11.6m.9 0h7.5m.9 0h4.1m.4 0h4.1m2.9 0h2.5m.4 0h2.6m2.9 0h4.1m.4 0h3.1m.4 0h1.6m3.8 0h2.1m.9 0h1.6m.4 0h4.6m.4 0h2.1m1.4 0h4.6M85.8 156.4h1.6m33.2 0h1.6m.9 0h2.6m5.9 0h2.1m.9 0h1.6m24.2 0h1.6m16.3 0h1.6m1.9 0h1.6m4.4 0h1.6m2.9 0h1.6m10.3 0h1.6m5.9 0h2.1m10.3 0h1.6m1.4 0h2.1m1.4 0h1.6m12.8 0h1.6m1.4 0h1.6m10.3 0h1.6m2.4 0h1.6m6.9 0h2.6m4.3 0h1.6m41.7 0h1.6m2.4 0h1.6m5.9 0h1.6m14.3 0h2.6m5.8 0h1.6m6.9 0h1.6m7.3 0h1.6m3.4 0h1.6m2.9 0h1.6m24.3 0h1.6m9.3 0h1.6m10.3 0h1.6m8.9 0h1.6m23.3 0h1.6m29.7 0h1.6m7.4 0h1.6m3.8 0h2.6m.9 0h1.6m4.4 0h1.6m2.4 0h1.6m10.8 0h1.6m.4 0h1.6m18.3 0h1.6M79.8 151h1.6m.4 0h3.1m.9 0h2.1m2.9 0h1.6m.4 0h1.6m.9 0h1.6m.8 0h2.1m.4 0h1.6m.9 0h1.6m.9 0h1.6m.4 0h4.1m.4 0h2.6m1.8 0h3.6m2.4 0h2.1m.4 0h1.6m1.9 0h2.1m.9 0h1.6m4.8 0h1.6m2.4 0h1.6m8.4 0h1.6m1.9 0h2.5m.4 0h2.6m.4 0h3.1m.9 0h2.6m.4 0h1.6m1.4 0h1.6m.9 0h4m1.4 0h1.6m2.4 0h3.1m.4 0h2.1m2.4 0h1.6m.4 0h1.6m2.3 0h1.6m7.9 0h1.6m1.4 0h4.1m.9 0h5.5m.4 0h2.6m2.9 0h3.1m6.3 0h1.6m7.4 0h4.1m4.4 0h5m1.9 0h3.6m1.4 0h8.1m8.3 0h1.6m3.4 0h2.1m.9 0h4.1m.9 0h4.5m.9 0h2.1m3.9 0h4.1m.9 0h8.5m1.9 0h2.6m.9 0h1.6m1.9 0h2.6m3.4 0h1.6m1.8 0h1.6m.4 0h1.6m.4 0h3.1m1.4 0h4.6m.9 0h5m1.9 0h1.6m2.9 0h3.6m.4 0h1.6m2.9 0h1.6m6.3 0h1.6m1.9 0h1.6m.9 0h1.6m.9 0h1.6m.4 0h3.6m.4 0h2.1m2.8 0h2.1m4.4 0h6.6m1.4 0h4m20.8 0h1.6m.9 0h1.6m1.4 0h1.6m4.9 0h1.6m4.3 0h1.6m.9 0h1.6m6.9 0h1.6m.9 0h1.6m4.8 0h1.6m1.4 0h2.1m9.4 0h2.1m1.8 0h2.6m1.4 0h1.6m2.4 0h2.1m2.9 0h1.6m1.4 0h1.6m.9 0h1.6m8.8 0h2.1m.4 0h1.6m3.9 0h1.6m.4 0h1.6m6.3 0h2.6m2.4 0h3.1m3.4 0h1.6m9.3 0h2.1m.4 0h1.6m3.9 0h1.6M78.3 148.3h13.1m.4 0h29.4m.4 0h40.9m.9 0h16m.4 0h87.2m.4 0h170.7m.4 0h36.9m.4 0h37.5m.4 0h19.5m.4 0h39.9M85.3 145.6h1.6m1.9 0h1.6m.9 0h1.6m8.3 0h1.6m10.4 0h1.6m5.3 0h1.6m28.8 0h1.6m6.3 0h1.6m8.4 0h1.6m.9 0h3.1m.9 0h1.6m21.7 0h1.6m14.4 0h1.6m1.3 0h1.6m1.4 0h1.6m.4 0h2.6m14.3 0h1.6m18.8 0h1.6m19.3 0h1.6m8.9 0h1.6m11.3 0h1.6m5.4 0h1.6m12.8 0h1.6m7.4 0h2.1m31.2 0h2.1m2.4 0h1.6m9.3 0h2.1m1.9 0h1.6m17.8 0h1.6m2.4 0h1.6m4.3 0h1.6m23.3 0h3.1m8.4 0h1.6m21.7 0h1.6m1.4 0h1.6m3.4 0h1.6m4.4 0h1.6m12.8 0h1.6m10.8 0h1.6m10.9 0h1.6m2.4 0h1.6m10.8 0h1.6m7.3 0h1.6m5.9 0h2.1M102.7 142.9h1.6m29.3 0h1.6m61.5 0h3.1m5.4 0h1.6m27.8 0h1.6m16.8 0h1.6m39.7 0h1.6m26.2 0h1.6m52.6 0h1.6m48.7 0h1.6m.9 0h1.6m106.8 0h1.6M111.2 140.2h1.6m18.3 0h1.6m71.5 0h1.6m31.7 0h1.6m17.3 0h1.6m18.3 0h1.6m67.1 0h1.6m51.6 0h1.6m53.2 0h1.6m40.1 0h1.6m44.7 0h1.6m9.4 0h1.6m10.3 0h1.6M82.8 137.5h1.6m6.4 0h1.6m24.2 0h1.6m4.4 0h1.6m1.9 0h1.6m1.4 0h1.6m88.9 0h1.6m37.2 0h1.6m60.1 0h1.6m13.3 0h1.6m28.8 0h1.6m22.8 0h1.6m9.3 0h1.6m6.9 0h1.6m4.3 0h1.6m15.9 0h3m12.9 0h1.6m18.3 0h1.6m25.2 0h1.6m70.6 0h1.6M82.3 134.8h1.6m5.9 0h1.6m13.3 0h1.6m5.4 0h3.1m7.3 0h1.6m6.9 0h1.6m1.9 0h1.6m1.3 0h1.6m29.8 0h2.1m5.8 0h1.6m1.4 0h2.6m1.4 0h1.6m11.8 0h1.6m.9 0h1.6m7.9 0h1.6m1.4 0h1.6m2.3 0h1.6m8.9 0h1.6m.9 0h1.6m2.9 0h1.6m1.3 0h3.1m11.9 0h1.6m3.8 0h1.6m5.9 0h1.6m11.8 0h1.6m2.4 0h1.6m3.9 0h1.6m16.3 0h1.6m9.3 0h2.1m1.9 0h1.6m5.4 0h1.6m5.4 0h1.6m3.3 0h1.6m9.4 0h2.1m7.3 0h1.6m1.4 0h1.6m16.8 0h1.6m9.4 0h1.6m5.8 0h1.6m5.4 0h1.6m4.4 0h1.6m9.3 0h1.6m2.4 0h1.6m15.3 0h1.6m3.9 0h1.6m7.3 0h1.6m32.3 0h1.6m6.8 0h1.6m4.4 0h1.6m7.8 0h1.6m1.4 0h1.6m1.9 0h1.6m6.9 0h1.6m9.8 0h1.6m3.4 0h1.6m7.8 0h1.6m4.4 0h1.6m.9 0h1.6m2.4 0h1.6M78.3 126.7h8.6m.4 0h5.6m2.4 0h11m.4 0h1.6m.4 0h8.1m.3 0h21.5m.4 0h9.1m.9 0h19.5m.9 0h2.1m.4 0h20.5m.4 0h22m.4 0h24.4m.4 0h73.3m.9 0h27.4m.9 0h12.1m.3 0h45.4m.4 0h8.1m.4 0h51.3m.9 0h10.6m.4 0h37.9m.4 0h24.9m.9 0h11.1m.9 0h1.6m.4 0h6m.4 0h6.1m.4 0h10.1M81.3 124.1h1.6m1.9 0h1.6m20.3 0h1.6m.4 0h2.6m10.8 0h1.6m.9 0h1.6m3.9 0h1.6m9.8 0h1.6m13.3 0h1.6m23.3 0h1.6m.4 0h1.6m36.2 0h1.6m10.9 0h2.1m.3 0h3.1m1.9 0h1.6m8.4 0h1.6m.4 0h1.6m2.8 0h1.6m9.4 0h1.6m2.9 0h1.6m3.8 0h1.6m8.4 0h1.6m10.3 0h1.6m1.9 0h1.6m2.4 0h2.6m16.8 0h2.1m11.8 0h1.6m5.9 0h1.6m3.4 0h1.6m.3 0h3.6m.9 0h3.1m3.4 0h1.6m4.4 0h1.6m9.8 0h3.1m23.8 0h1.6m3.8 0h1.6m13.9 0h1.6m1.8 0h1.6m4.4 0h1.6m3.9 0h1.6m3.4 0h1.6m3.8 0h1.6m15.8 0h1.6m.9 0h1.6m16.8 0h1.6m5.4 0h1.6m.4 0h1.6m1.9 0h1.6m1.9 0h2.6m1.8 0h1.6m18.3 0h1.6m.9 0h1.6m6.4 0h1.6m3.4 0h1.6m10.8 0h1.6M94.3 121.4h1.6m8.3 0h1.6m11.8 0h1.6m19.8 0h1.6m31.3 0h1.6m3.3 0h1.6m38.2 0h1.6m12.9 0h1.6m14.3 0h1.6m22.3 0h1.6m8.3 0h1.6m6.4 0h1.6m.4 0h1.6m1.9 0h1.6m13.8 0h3.1m8.8 0h1.6m3.4 0h1.6m.4 0h1.6m10.3 0h1.6m4.4 0h1.6m14.8 0h1.6m13.3 0h1.6m25.8 0h1.6m10.8 0h2.1m4.9 0h1.6m18.3 0h1.6m6.4 0h1.6m50.1 0h1.6m23.3 0h1.6m6.8 0h1.6m4.9 0h1.6m22.3 0h3.1M80.3 118.7h1.6m.4 0h2.6m.4 0h4.1m2.4 0h6.5m2.4 0h1.6m.4 0h1.6m2.9 0h2.6m.9 0h1.6m1.4 0h3.5m1.4 0h1.6m.4 0h1.6m1.9 0h1.6m1.9 0h10m6.9 0h10.6m.3 0h1.6m1.9 0h4.1m.9 0h1.6m4.9 0h1.6m.4 0h2.1m3.3 0h2.6m1.4 0h1.6m1.4 0h5.1m.9 0h1.6m.4 0h1.6m1.3 0h1.6m4.4 0h1.6m.4 0h1.6m4.4 0h2.6m1.9 0h9m4.4 0h3.1m1.4 0h3.6m1.3 0h1.6m.9 0h3.1m.9 0h2.6m.9 0h2.6m.9 0h1.6m.4 0h5.5m3.9 0h2.6m8.9 0h2.1m.3 0h2.6m.4 0h1.6m1.9 0h1.6m.4 0h6.6m2.9 0h1.6m.3 0h7.1m.9 0h3.1m.4 0h1.6m.4 0h2.1m.4 0h3.6m4.8 0h1.6m1.9 0h2.6m.4 0h1.6m1.4 0h2.6m4.8 0h2.6m.4 0h2.6m2.9 0h4.1m1.4 0h4.6m.8 0h2.6m2.4 0h5.6m1.4 0h4.1m.9 0h4.5m.4 0h1.6m5.9 0h1.6m.4 0h1.6m.4 0h1.6m.9 0h3.1m.3 0h2.6m5.9 0h4.1m.4 0h1.6m.9 0h2.6m.4 0h1.6m1.8 0h2.1m3.9 0h1.6m1.9 0h2.6m7.8 0h3.1m.9 0h1.6m11.3 0h1.6m.4 0h1.6m3.9 0h1.6m1.4 0h5.1m.4 0h2.6m.8 0h2.1m7.4 0h1.6m7.4 0h1.6m2.8 0h1.6m.9 0h4.1m2.9 0h2.1m3.4 0h7m1.4 0h3.6m4.4 0h1.6m.9 0h1.6m.4 0h2.1m2.8 0h10.6m1.9 0h3.6m2.3 0h5.6m.4 0h1.6m3.4 0h2.6m1.4 0h1.6M79.8 116h3.1m1.9 0h1.6m1.4 0h1.6m2.9 0h1.6m1.4 0h3m1.9 0h3.1m2.9 0h1.6m3.9 0h1.6m.4 0h1.6m.3 0h5.1m.9 0h3.1m7.4 0h1.6m1.4 0h1.6m2.3 0h3.1m2.4 0h1.6m.9 0h4.6m.4 0h3.6m3.8 0h1.6m3.4 0h3.6m1.4 0h2.6m4.3 0h1.6m2.9 0h1.6m1.9 0h1.6m1.9 0h1.6m2.9 0h5m12.9 0h1.6m.9 0h1.6m6.8 0h6.1m.9 0h1.6m1.4 0h1.6m.4 0h1.6m.8 0h1.6m3.9 0h2.1m1.4 0h3.6m.4 0h1.6m.4 0h1.6m2.4 0h1.6m.3 0h2.1m5.9 0h3.1m3.9 0h3.1m1.3 0h1.6m2.4 0h1.6m.4 0h1.6m2.4 0h2.1m5.4 0h1.6m4.8 0h1.6m1.9 0h1.6m.4 0h2.6m1.9 0h3.1m.4 0h1.6m2.8 0h3.1m4.4 0h5.1m.4 0h2.6m4.8 0h2.6m.4 0h2.1m1.4 0h1.6m1.9 0h3.1m1.4 0h2.6m.3 0h2.6m.4 0h1.6m3.9 0h3.1m1.9 0h1.6m2.4 0h1.6m1.3 0h1.6m3.9 0h1.6m5.4 0h1.6m.4 0h1.6m4.8 0h2.6m1.4 0h1.6m2.4 0h1.6m.4 0h1.6m.4 0h1.6m4.3 0h1.6m4.4 0h2.1m1.4 0h1.6m.4 0h1.6m.9 0h2.6m1.4 0h1.6m1.3 0h2.6m.4 0h4.1m.9 0h1.6m8.4 0h1.6m1.8 0h1.6m5.4 0h1.6m.4 0h2.6m.4 0h1.6m.9 0h4.5m5.4 0h1.6m6.9 0h5.6m1.8 0h5.1m.9 0h1.6m5.4 0h2.6m4.8 0h1.6m4.9 0h1.6m.9 0h1.6m1.9 0h2.6m.9 0h1.6m4.3 0h1.6m5.4 0h2.1m3.4 0h1.6m1.8 0h1.6m5.4 0h1.6m2.9 0h1.6M86.3 107.9h1.6m3.9 0h1.6m10.8 0h1.6m2.4 0h1.6m1.4 0h1.6m1.4 0h1.6m1.3 0h1.6m31.8 0h2.6m.4 0h1.6m8.8 0h3.6m2.9 0h1.6m3.8 0h2.1m4.9 0h2.6m.4 0h2.6m4.4 0h1.6m16.3 0h1.6m3.8 0h2.6m3.4 0h3.1m5.4 0h1.6m1.4 0h1.6m6.8 0h1.6m1.9 0h3.1m.9 0h1.6m8.8 0h1.6m11.4 0h4m10.4 0h1.6m2.9 0h3.6m4.3 0h4.1m3.4 0h1.6m3.9 0h3.1m2.3 0h4.1m9.4 0h1.6m6.3 0h1.6m11.9 0h1.6m6.3 0h1.6m5.4 0h3.1m2.9 0h1.6m1.3 0h2.6m.4 0h1.6m4.4 0h1.6m1.9 0h1.6m.9 0h1.6m5.3 0h3.1m9.4 0h3.1m11.3 0h1.6m8.3 0h1.6m8.4 0h4.1m10.3 0h1.6m12.3 0h1.6m3.9 0h2.1m19.3 0h1.6m7.9 0h1.6m.9 0h1.6m.8 0h1.6m14.4 0h1.6m11.3 0h1.6m5.9 0h2.1M86.3 97.1h1.6m.9 0h2.1m1.4 0h1.6m.4 0h3.5m.9 0h2.6m1.4 0h1.6m.9 0h1.6m1.4 0h1.6m1.4 0h4.6m1.8 0h3.1m.4 0h3.6m1.9 0h2.1m.4 0h2.1m.9 0h1.6m4.3 0h3.6m1.9 0h3.1m.4 0h6.1m3.8 0h1.6m1.9 0h1.6m1.9 0h1.6m.9 0h2.6m2.9 0h3.6m.3 0h6.1m.9 0h2.6m1.4 0h1.6m.9 0h2.6m.4 0h4.1m1.3 0h1.6m.9 0h1.6m.4 0h1.6m1.9 0h1.6m3.9 0h4.6m5.8 0h3.1m4.9 0h2.1m3.3 0h2.1m1.4 0h2.6m.9 0h1.6m.4 0h5.6m2.4 0h7m4.9 0h1.6m6.9 0h6m.9 0h2.6m.4 0h3.6m1.4 0h5.1m.4 0h2.1m1.8 0h3.1m2.4 0h2.6m.4 0h3.1m1.4 0h4.6m.3 0h1.6m.4 0h1.6m3.4 0h1.6m.4 0h3.1m1.4 0h6.1m1.8 0h3.6m.9 0h8.6m.9 0h5.6m1.3 0h5.1m.4 0h1.6m.4 0h2.1m2.4 0h2.1m.9 0h10m1.4 0h1.6m1.4 0h5.1m.9 0h1.6m.3 0h3.6m.4 0h1.6m3.9 0h1.6m3.9 0h1.6m.9 0h1.6m.4 0h2.5m.4 0h4.6m1.4 0h3.1m1.4 0h1.6m3.4 0h1.6m.3 0h4.1m.4 0h9.6m2.4 0h2.1m2.8 0h1.6m1.9 0h1.6m1.9 0h7.6m.9 0h1.6m.4 0h1.6m.3 0h1.6m.9 0h8.1m.9 0h4.1m1.4 0h1.6m.3 0h1.7m1.8 0h3.1m.4 0h1.6m1.9 0h1.6m.9 0h4.6m.9 0h1.6m.8 0h1.6m.4 0h1.6m3.4 0h1.6m2.4 0h3.1m.4 0h2.1m4.3 0h1.6m.9 0h4.1m.4 0h1.6m1.4 0h2.1m2.4 0h3.1m.3 0h1.7m.8 0h2.6m2.4 0h1.6m2.9 0h1.6m1.4 0h4.6M114.7 86.4h1.6m173 0h1.6m4.3 0h3.1m54.7 0h1.6m76.5 0h1.6m74 0h1.6m8.3 0h1.6m12.4 0h1.6M79.8 67.5h2.6m1.9 0h3.1m3.9 0h1.6m1.4 0h1.6m1.3 0h2.6m1.9 0h1.6m6.4 0h1.6m15.3 0h1.6m1.4 0h1.6m12.3 0h1.6m2.9 0h1.6m1.4 0h1.6m2.8 0h1.6m.9 0h2.1m.4 0h1.6m1.4 0h1.6m8.9 0h2.1m4.8 0h1.6m1.9 0h2.6m6.4 0h2.1m3.8 0h2.1m5.9 0h1.6m2.9 0h1.6m2.3 0h1.6m4.9 0h1.6m.9 0h1.6m1.9 0h1.6m9.3 0h3.1m7.9 0h1.6m6.8 0h1.6m.4 0h2.1m2.9 0h1.6m.9 0h2.6m1.4 0h2.6m.3 0h3.1m1.9 0h1.6m4.4 0h1.6m1.9 0h1.6m1.4 0h1.6m1.8 0h1.6m3.4 0h3.1m6.4 0h2.1m9.3 0h1.6m.9 0h8.6m4.8 0h1.6m.9 0h1.6m.4 0h2.1m4.4 0h3.1m4.8 0h2.1m1.4 0h1.6m1.4 0h1.6m1.4 0h1.6m2.4 0h5.1m2.3 0h3.1m5.9 0h1.6m.9 0h1.6m2.9 0h1.6m.8 0h1.6m1.9 0h1.6m2.9 0h1.6m16.3 0h1.6m7.4 0h1.6m3.8 0h2.6m5.4 0h1.6m4.4 0h1.6m8.3 0h2.1m.4 0h1.6m6.4 0h1.6m.9 0h2.1m.8 0h1.6m3.4 0h1.6m6.9 0h2.6m11.3 0h4.1m.4 0h1.6m.4 0h1.6m5.8 0h1.6m1.9 0h1.6m1.4 0h1.6m2.4 0h1.6m4.4 0h1.6m1.3 0h1.6m4.4 0h1.6m.4 0h1.6m.4 0h1.6m6.3 0h2.1m4.4 0h2.1m3.4 0h1.6m1.9 0h1.6" fill="none" stroke="#000" stroke-width="1.5"/>
<g clip-path="url(#c1)">
<path d="M325.4 580.3V47.5" stroke="#006400" stroke-width="2.25" stroke-dasharray="9 9" stroke-linecap="round" fill="none"/>
<path d="M59.5 296.4H592.2" stroke="#CD2626" stroke-width="2.25" stroke-dasharray="9 9" stroke-linecap="round" fill="none"/>
</g>
<rect x="59.5" y="47.5" width="532.7" height="532.8" fill="none" stroke="#000" stroke-opacity=".73" stroke-width="0.75"/>
<path d="M126.4 580.3H524.4M126.4 580.3v6M225.9 580.3v6M325.4 580.3v6M424.9 580.3v6M524.4 580.3v6" fill="none" stroke="#000" stroke-opacity=".73" stroke-width="0.75"/>
<text x="126.4" y="601.6" font-size="10.4" text-anchor="middle">-400</text>
<text x="225.9" y="601.6" font-size="10.4" text-anchor="middle">-200</text>
<text x="325.4" y="601.6" font-size="10.4" text-anchor="middle">0</text>
<text x="424.9" y="601.6" font-size="10.4" text-anchor="middle">200</text>
<text x="524.4" y="601.6" font-size="10.4" text-anchor="middle">400</text>
<path d="M59.5 471.45V67.5M59.5 471.45h-6M59.5 336.8h-6M59.5 202.15h-6M59.5 67.5h-6" fill="none" stroke="#000" stroke-opacity=".73" stroke-width="0.75"/>
<text transform="translate(44.9 471.45) rotate(-90)" font-size="10.4" text-anchor="middle">85</text>
<text transform="translate(44.9 336.8) rotate(-90)" font-size="10.4" text-anchor="middle">90</text>
<text transform="translate(44.9 202.15) rotate(-90)" font-size="10.4" text-anchor="middle">95</text>
<text transform="translate(44.9 67.5) rotate(-90)" font-size="10.4" text-anchor="middle">100</text>
<text x="322.45" y="31.5" font-size="21.5" font-weight="bold" text-anchor="middle">Top hit for each peak</text>
<text x="325.85" y="625.8" font-size="16" text-anchor="middle">Distance to peak summit</text>
<text transform="translate(22.2 313.9) rotate(-90)" font-size="16" text-anchor="middle">Motif score</text>
<g clip-path="url(#c2)"><g filter="url(#hm)"><rect x="656" y="15" width="616.2" height="605.3" fill="#000"/><path fill="#010101" d="M676 35h8v3h-8zM1244 35h16v3h-16zM676 38h8v3h-8zM1252 38h8v3h-8zM676 41h8v3h-8zM1252 41h8v3h-8zM1252 44h8v3h-8zM1252 47h8v3h-8zM1252 50h8v3h-8zM1252 53h8v3h-8zM1252 56h8v3h-8zM1252 59h8v3h-8zM1252 62h8v3h-8zM1252 404h8v3h-8zM1252 407h8v3h-8zM676 410h8v3h-8zM1252 410h8v3h-8zM676 413h8v3h-8zM1244 413h16v3h-16zM676 416h8v3h-8zM1244 416h16v3h-16zM676 419h16v3h-16zM1244 419h16v3h-16zM676 422h16v3h-16zM1236 422h24v3h-24zM676 425h24v3h-24zM1236 425h24v3h-24zM676 428h24v3h-24zM1228 428h32v3h-32zM676 431h32v3h-32zM1228 431h32v3h-32zM676 434h32v3h-32zM1228 434h24v3h-24zM676 437h32v3h-32zM1220 437h32v3h-32zM684 440h32v3h-32zM1220 440h32v3h-32zM684 443h32v3h-32zM1212 443h40v3h-40zM684 446h40v3h-40zM1204 446h48v3h-48zM684 449h48v3h-48zM1204 449h40v3h-40zM684 452h56v3h-56zM1196 452h48v3h-48zM684 455h64v3h-64zM1180 455h64v3h-64zM692 458h552v3h-552zM692 461h552v3h-552zM692 464h552v3h-552zM692 467h544v3h-544zM692 470h544v3h-544zM700 473h536v3h-536zM700 476h536v3h-536zM700 479h528v3h-528zM708 482h520v3h-520zM708 485h520v3h-520zM708 488h512v3h-512zM716 491h504v3h-504zM724 494h488v3h-488zM732 497h472v3h-472zM748 500h440v3h-440z"/><path fill="#030303" d="M684 35h8v3h-8zM1236 35h8v3h-8zM684 38h8v3h-8zM1244 38h8v3h-8zM684 41h8v3h-8zM1244 41h8v3h-8zM676 44h8v3h-8zM1244 44h8v3h-8zM676 47h8v3h-8zM1244 47h8v3h-8zM676 50h8v3h-8zM1244 50h8v3h-8zM676 53h8v3h-8zM1244 53h8v3h-8zM676 56h8v3h-8zM1244 56h8v3h-8zM676 59h8v3h-8zM1244 59h8v3h-8zM676 62h8v3h-8zM1252 65h8v3h-8zM1252 68h8v3h-8zM1252 71h8v3h-8zM1252 374h8v3h-8zM1252 377h8v3h-8zM1252 380h8v3h-8zM1252 383h8v3h-8zM1252 386h8v3h-8zM676 389h8v3h-8zM1252 389h8v3h-8zM676 392h8v3h-8zM1252 392h8v3h-8zM676 395h8v3h-8zM1252 395h8v3h-8zM676 398h8v3h-8zM1244 398h16v3h-16zM676 401h8v3h-8zM1244 401h16v3h-16zM676 404h16v3h-16zM1244 404h8v3h-8zM676 407h16v3h-16zM1244 407h8v3h-8zM684 410h8v3h-8zM1236 410h16v3h-16zM684 413h16v3h-16zM1236 413h8v3h-8zM684 416h16v3h-16zM1228 416h16v3h-16zM692 419h16v3h-16zM1228 419h16v3h-16zM692 422h24v3h-24zM1220 422h16v3h-16zM700 425h24v3h-24zM1212 425h24v3h-24zM700 428h32v3h-32zM1204 428h24v3h-24zM708 431h32v3h-32zM1188 431h40v3h-40zM708 434h520v3h-520zM708 437h512v3h-512zM716 440h504v3h-504zM716 443h496v3h-496zM724 446h480v3h-480zM732 449h472v3h-472zM740 452h456v3h-456zM748 455h432v3h-432z"/><path fill="#040404" d="M692 35h16v3h-16zM1228 35h8v3h-8zM692 38h8v3h-8zM1236 38h8v3h-8zM1236 41h8v3h-8zM684 44h8v3h-8zM1236 44h8v3h-8zM684 47h8v3h-8zM684 50h8v3h-8zM684 53h8v3h-8zM684 56h8v3h-8zM684 59h8v3h-8zM1244 62h8v3h-8zM676 65h8v3h-8zM1244 65h8v3h-8zM676 68h8v3h-8zM1252 74h8v3h-8zM1252 77h8v3h-8zM1252 350h8v3h-8zM1252 353h8v3h-8zM1252 356h8v3h-8zM1252 359h8v3h-8zM1252 362h8v3h-8zM1252 365h8v3h-8zM676 368h8v3h-8zM1252 368h8v3h-8zM676 371h8v3h-8zM1252 371h8v3h-8zM676 374h8v3h-8zM676 377h8v3h-8zM1244 377h8v3h-8zM676 380h8v3h-8zM1244 380h8v3h-8zM676 383h8v3h-8zM1244 383h8v3h-8zM676 386h8v3h-8zM1244 386h8v3h-8zM1244 389h8v3h-8zM684 392h8v3h-8zM1244 392h8v3h-8zM684 395h8v3h-8zM1244 395h8v3h-8zM684 398h8v3h-8zM1236 398h8v3h-8zM684 401h8v3h-8zM1236 401h8v3h-8zM692 404h8v3h-8zM1236 404h8v3h-8zM692 407h8v3h-8zM1228 407h16v3h-16zM692 410h16v3h-16zM1228 410h8v3h-8zM700 413h16v3h-16zM1220 413h16v3h-16zM700 416h16v3h-16zM1212 416h16v3h-16zM708 419h24v3h-24zM1204 419h24v3h-24zM716 422h40v3h-40zM1180 422h40v3h-40zM724 425h488v3h-488zM732 428h472v3h-472zM740 431h448v3h-448z"/><path fill="#050505" d="M708 35h8v3h-8zM1220 35h8v3h-8zM700 38h8v3h-8zM1228 38h8v3h-8zM692 41h8v3h-8zM1228 41h8v3h-8zM692 44h8v3h-8zM1236 47h8v3h-8zM1236 50h8v3h-8zM1236 53h8v3h-8zM1236 56h8v3h-8zM1236 59h8v3h-8zM684 62h8v3h-8zM1244 68h8v3h-8zM676 71h8v3h-8zM676 74h8v3h-8zM1252 80h8v3h-8zM1252 83h8v3h-8zM1252 335h8v3h-8zM1252 338h8v3h-8zM1252 341h8v3h-8zM1252 344h8v3h-8zM1252 347h8v3h-8zM676 350h8v3h-8zM676 353h8v3h-8zM676 356h8v3h-8zM676 359h8v3h-8zM676 362h8v3h-8zM1244 362h8v3h-8zM676 365h8v3h-8zM1244 365h8v3h-8zM1244 368h8v3h-8zM1244 371h8v3h-8zM684 374h8v3h-8zM1244 374h8v3h-8zM684 377h8v3h-8zM684 380h8v3h-8zM684 383h8v3h-8zM1236 383h8v3h-8zM684 386h8v3h-8zM1236 386h8v3h-8zM684 389h8v3h-8zM1236 389h8v3h-8zM1236 392h8v3h-8zM692 395h8v3h-8zM1236 395h8v3h-8zM692 398h8v3h-8zM1228 398h8v3h-8zM692 401h8v3h-8zM1228 401h8v3h-8zM700 404h8v3h-8zM1228 404h8v3h-8zM700 407h16v3h-16zM1220 407h8v3h-8zM708 410h16v3h-16zM1212 410h16v3h-16zM716 413h16v3h-16zM1204 413h16v3h-16zM716 416h56v3h-56zM1156 416h56v3h-56zM732 419h472v3h-472zM756 422h424v3h-424z"/><path fill="#060606" d="M716 35h16v3h-16zM1092 35h16v3h-16zM1196 35h24v3h-24zM708 38h8v3h-8zM1220 38h8v3h-8zM700 41h8v3h-8zM1228 44h8v3h-8zM692 47h8v3h-8zM1228 47h8v3h-8zM692 50h8v3h-8zM692 53h8v3h-8zM692 56h8v3h-8zM692 59h8v3h-8zM1236 62h8v3h-8zM684 65h8v3h-8zM1244 71h8v3h-8zM676 77h8v3h-8zM1252 86h8v3h-8zM1252 89h8v3h-8zM1252 293h8v3h-8zM1252 296h8v3h-8zM1252 299h8v3h-8zM1252 302h8v3h-8zM1252 305h8v3h-8zM1252 308h8v3h-8zM1252 311h8v3h-8zM1252 314h8v3h-8zM1252 317h8v3h-8zM1252 320h8v3h-8zM1252 323h8v3h-8zM1252 326h8v3h-8zM1252 329h8v3h-8zM1252 332h8v3h-8zM676 341h8v3h-8zM676 344h8v3h-8zM676 347h8v3h-8zM1244 347h8v3h-8zM1244 350h8v3h-8zM1244 353h8v3h-8zM1244 356h8v3h-8zM1244 359h8v3h-8zM684 362h8v3h-8zM684 365h8v3h-8zM684 368h8v3h-8zM684 371h8v3h-8zM1236 371h8v3h-8zM1236 374h8v3h-8zM1236 377h8v3h-8zM692 380h8v3h-8zM1236 380h8v3h-8zM692 383h8v3h-8zM692 386h8v3h-8zM692 389h8v3h-8zM1228 389h8v3h-8zM692 392h8v3h-8zM1228 392h8v3h-8zM700 395h8v3h-8zM1228 395h8v3h-8zM700 398h8v3h-8zM1220 398h8v3h-8zM700 401h16v3h-16zM1220 401h8v3h-8zM708 404h8v3h-8zM1212 404h16v3h-16zM716 407h8v3h-8zM1204 407h16v3h-16zM724 410h24v3h-24zM1188 410h24v3h-24zM732 413h472v3h-472zM772 416h384v3h-384z"/><path fill="#080808" d="M732 35h144v3h-144zM1036 35h56v3h-56zM1108 35h88v3h-88zM716 38h8v3h-8zM1204 38h16v3h-16zM708 41h8v3h-8zM1220 41h8v3h-8zM700 44h8v3h-8zM1220 44h8v3h-8zM700 47h8v3h-8zM700 50h8v3h-8zM1228 50h8v3h-8zM700 53h8v3h-8zM1228 53h8v3h-8zM1228 56h8v3h-8zM1228 59h8v3h-8zM692 62h8v3h-8zM1236 65h8v3h-8zM684 68h8v3h-8zM1244 74h8v3h-8zM676 80h8v3h-8zM1252 92h8v3h-8zM1252 281h8v3h-8zM1252 284h8v3h-8zM1252 287h8v3h-8zM1252 290h8v3h-8zM676 305h8v3h-8zM676 308h8v3h-8zM676 311h8v3h-8zM676 314h8v3h-8zM676 317h8v3h-8zM676 320h8v3h-8zM676 323h8v3h-8zM676 326h8v3h-8zM676 329h8v3h-8zM676 332h8v3h-8zM676 335h8v3h-8zM676 338h8v3h-8zM1244 338h8v3h-8zM1244 341h8v3h-8zM1244 344h8v3h-8zM684 350h8v3h-8zM684 353h8v3h-8zM684 356h8v3h-8zM684 359h8v3h-8zM1236 359h8v3h-8zM1236 362h8v3h-8zM1236 365h8v3h-8zM692 368h8v3h-8zM1236 368h8v3h-8zM692 371h8v3h-8zM692 374h8v3h-8zM692 377h8v3h-8zM1228 377h8v3h-8zM1228 380h8v3h-8zM700 383h8v3h-8zM1228 383h8v3h-8zM700 386h8v3h-8zM1228 386h8v3h-8zM700 389h8v3h-8zM700 392h8v3h-8zM1220 392h8v3h-8zM708 395h8v3h-8zM1220 395h8v3h-8zM708 398h8v3h-8zM1212 398h8v3h-8zM716 401h8v3h-8zM1212 401h8v3h-8zM716 404h16v3h-16zM1196 404h16v3h-16zM724 407h480v3h-480zM748 410h440v3h-440z"/><path fill="#090909" d="M876 35h40v3h-40zM1012 35h24v3h-24zM724 38h32v3h-32zM788 38h64v3h-64zM1060 38h88v3h-88zM1172 38h32v3h-32zM716 41h8v3h-8zM1204 41h16v3h-16zM708 44h8v3h-8zM1220 47h8v3h-8zM1220 50h8v3h-8zM1220 53h8v3h-8zM700 56h8v3h-8zM1220 56h8v3h-8zM700 59h8v3h-8zM1228 62h8v3h-8zM692 65h8v3h-8zM1236 68h8v3h-8zM684 71h8v3h-8zM1244 77h8v3h-8zM1244 80h8v3h-8zM676 83h8v3h-8zM1252 95h8v3h-8zM1252 167h8v3h-8zM1252 170h8v3h-8zM1252 173h8v3h-8zM1252 275h8v3h-8zM1252 278h8v3h-8zM676 296h8v3h-8zM676 299h8v3h-8zM676 302h8v3h-8zM1244 308h8v3h-8zM1244 311h8v3h-8zM1244 314h8v3h-8zM1244 317h8v3h-8zM1244 326h8v3h-8zM1244 329h8v3h-8zM1244 332h8v3h-8zM1244 335h8v3h-8zM684 341h8v3h-8zM684 344h8v3h-8zM684 347h8v3h-8zM1236 347h8v3h-8zM1236 350h8v3h-8zM1236 353h8v3h-8zM1236 356h8v3h-8zM692 359h8v3h-8zM692 362h8v3h-8zM692 365h8v3h-8zM1228 368h8v3h-8zM1228 371h8v3h-8zM700 374h8v3h-8zM1228 374h8v3h-8zM700 377h8v3h-8zM700 380h8v3h-8zM1220 380h8v3h-8zM1220 383h8v3h-8zM708 386h8v3h-8zM1220 386h8v3h-8zM708 389h8v3h-8zM1220 389h8v3h-8zM708 392h8v3h-8zM1212 392h8v3h-8zM716 395h8v3h-8zM1212 395h8v3h-8zM716 398h16v3h-16zM1204 398h8v3h-8zM724 401h16v3h-16zM1188 401h24v3h-24zM732 404h464v3h-464z"/><path fill="#0a0a0a" d="M916 35h24v3h-24zM980 35h32v3h-32zM756 38h32v3h-32zM852 38h40v3h-40zM1028 38h32v3h-32zM1148 38h24v3h-24zM724 41h16v3h-16zM1076 41h48v3h-48zM1188 41h16v3h-16zM716 44h8v3h-8zM1204 44h16v3h-16zM708 47h8v3h-8zM1212 47h8v3h-8zM708 50h8v3h-8zM1212 50h8v3h-8zM708 53h8v3h-8zM708 56h8v3h-8zM1220 59h8v3h-8zM700 62h8v3h-8zM1228 65h8v3h-8zM1236 71h8v3h-8zM684 74h8v3h-8zM1244 83h8v3h-8zM676 86h8v3h-8zM1252 161h8v3h-8zM1252 164h8v3h-8zM1252 176h8v3h-8zM1252 179h8v3h-8zM1252 209h8v3h-8zM1252 212h8v3h-8zM1252 215h8v3h-8zM1252 218h8v3h-8zM1252 221h8v3h-8zM1252 224h8v3h-8zM1252 227h8v3h-8zM1252 269h8v3h-8zM1252 272h8v3h-8zM676 287h8v3h-8zM676 290h8v3h-8zM676 293h8v3h-8zM1244 302h8v3h-8zM1244 305h8v3h-8zM1244 320h8v3h-8zM1244 323h8v3h-8zM684 335h8v3h-8zM684 338h8v3h-8zM1236 341h8v3h-8zM1236 344h8v3h-8zM692 350h8v3h-8zM692 353h8v3h-8zM692 356h8v3h-8zM1228 359h8v3h-8zM1228 362h8v3h-8zM1228 365h8v3h-8zM700 368h8v3h-8zM700 371h8v3h-8zM1220 371h8v3h-8zM1220 374h8v3h-8zM708 377h8v3h-8zM1220 377h8v3h-8zM708 380h8v3h-8zM708 383h8v3h-8zM1212 383h8v3h-8zM1212 386h8v3h-8zM716 389h8v3h-8zM1212 389h8v3h-8zM716 392h8v3h-8zM1204 392h8v3h-8zM724 395h8v3h-8zM1196 395h16v3h-16zM732 398h16v3h-16zM1188 398h16v3h-16zM740 401h448v3h-448z"/><path fill="#0c0c0c" d="M940 35h40v3h-40zM892 38h24v3h-24zM1012 38h16v3h-16zM740 41h128v3h-128zM1044 41h32v3h-32zM1124 41h64v3h-64zM724 44h16v3h-16zM1076 44h48v3h-48zM1188 44h16v3h-16zM716 47h16v3h-16zM1196 47h16v3h-16zM716 50h8v3h-8zM1204 50h8v3h-8zM716 53h8v3h-8zM1204 53h16v3h-16zM716 56h8v3h-8zM1212 56h8v3h-8zM708 59h8v3h-8zM1212 59h8v3h-8zM1220 62h8v3h-8zM692 68h8v3h-8zM684 77h8v3h-8zM676 89h8v3h-8zM1252 98h8v3h-8zM1252 155h8v3h-8zM1252 158h8v3h-8zM1252 182h8v3h-8zM1252 185h8v3h-8zM1252 200h8v3h-8zM1252 203h8v3h-8zM1252 206h8v3h-8zM1252 230h8v3h-8zM1252 233h8v3h-8zM1252 236h8v3h-8zM1252 239h8v3h-8zM1252 242h8v3h-8zM1252 245h8v3h-8zM1252 248h8v3h-8zM1252 251h8v3h-8zM1252 254h8v3h-8zM1252 257h8v3h-8zM1252 260h8v3h-8zM1252 263h8v3h-8zM1252 266h8v3h-8zM676 281h8v3h-8zM676 284h8v3h-8zM1244 296h8v3h-8zM1244 299h8v3h-8zM684 308h8v3h-8zM684 311h8v3h-8zM684 314h8v3h-8zM684 317h8v3h-8zM684 320h8v3h-8zM684 323h8v3h-8zM684 326h8v3h-8zM684 329h8v3h-8zM684 332h8v3h-8zM1236 338h8v3h-8zM692 344h8v3h-8zM692 347h8v3h-8zM1228 350h8v3h-8zM1228 353h8v3h-8zM1228 356h8v3h-8zM700 359h8v3h-8zM700 362h8v3h-8zM700 365h8v3h-8zM1220 365h8v3h-8zM1220 368h8v3h-8zM708 371h8v3h-8zM708 374h8v3h-8zM1212 374h8v3h-8zM1212 377h8v3h-8zM716 380h8v3h-8zM1212 380h8v3h-8zM716 383h8v3h-8zM716 386h16v3h-16zM1204 386h8v3h-8zM724 389h8v3h-8zM1204 389h8v3h-8zM724 392h16v3h-16zM1196 392h8v3h-8zM732 395h320v3h-320zM1180 395h16v3h-16zM748 398h440v3h-440z"/><path fill="#0d0d0d" d="M916 38h16v3h-16zM988 38h24v3h-24zM868 41h32v3h-32zM1020 41h24v3h-24zM740 44h128v3h-128zM1044 44h32v3h-32zM1124 44h64v3h-64zM732 47h24v3h-24zM796 47h48v3h-48zM1068 47h72v3h-72zM1172 47h24v3h-24zM724 50h16v3h-16zM820 50h8v3h-8zM1076 50h48v3h-48zM1188 50h16v3h-16zM724 53h16v3h-16zM1084 53h32v3h-32zM1188 53h16v3h-16zM724 56h8v3h-8zM1196 56h16v3h-16zM716 59h8v3h-8zM1204 59h8v3h-8zM708 62h8v3h-8zM700 65h8v3h-8zM1228 68h8v3h-8zM692 71h8v3h-8zM1236 74h8v3h-8zM684 80h8v3h-8zM1244 86h8v3h-8zM676 92h8v3h-8zM1252 101h8v3h-8zM1252 104h8v3h-8zM1252 149h8v3h-8zM1252 152h8v3h-8zM1252 188h8v3h-8zM1252 191h8v3h-8zM1252 194h8v3h-8zM1252 197h8v3h-8zM676 278h8v3h-8zM1244 287h8v3h-8zM1244 290h8v3h-8zM1244 293h8v3h-8zM684 302h8v3h-8zM684 305h8v3h-8zM1236 332h8v3h-8zM1236 335h8v3h-8zM692 341h8v3h-8zM1228 344h8v3h-8zM1228 347h8v3h-8zM700 353h8v3h-8zM700 356h8v3h-8zM1220 359h8v3h-8zM1220 362h8v3h-8zM708 365h8v3h-8zM708 368h8v3h-8zM1212 368h8v3h-8zM716 371h8v3h-8zM1212 371h8v3h-8zM716 374h8v3h-8zM716 377h8v3h-8zM1204 377h8v3h-8zM724 380h8v3h-8zM1204 380h8v3h-8zM724 383h16v3h-16zM1196 383h16v3h-16zM732 386h16v3h-16zM1196 386h8v3h-8zM732 389h32v3h-32zM1188 389h16v3h-16zM740 392h336v3h-336zM1172 392h24v3h-24zM1052 395h128v3h-128z"/><path fill="#0e0e0e" d="M932 38h56v3h-56zM900 41h24v3h-24zM1004 41h16v3h-16zM868 44h32v3h-32zM1028 44h16v3h-16zM756 47h40v3h-40zM844 47h32v3h-32zM1036 47h32v3h-32zM1140 47h32v3h-32zM740 50h80v3h-80zM828 50h40v3h-40zM1052 50h24v3h-24zM1124 50h64v3h-64zM740 53h120v3h-120zM1052 53h32v3h-32zM1116 53h72v3h-72zM732 56h24v3h-24zM788 56h64v3h-64zM1060 56h88v3h-88zM1172 56h24v3h-24zM724 59h16v3h-16zM1092 59h16v3h-16zM1196 59h8v3h-8zM716 62h8v3h-8zM1212 62h8v3h-8zM1220 65h8v3h-8zM1236 77h8v3h-8zM1244 89h8v3h-8zM1252 107h8v3h-8zM1252 110h8v3h-8zM1252 113h8v3h-8zM1252 116h8v3h-8zM1252 119h8v3h-8zM1252 146h8v3h-8zM676 275h8v3h-8zM1244 284h8v3h-8zM684 299h8v3h-8zM1236 308h8v3h-8zM1236 311h8v3h-8zM1236 314h8v3h-8zM1236 317h8v3h-8zM1236 320h8v3h-8zM1236 323h8v3h-8zM1236 326h8v3h-8zM1236 329h8v3h-8zM692 335h8v3h-8zM692 338h8v3h-8zM1228 341h8v3h-8zM700 347h8v3h-8zM700 350h8v3h-8zM1220 350h8v3h-8zM1220 353h8v3h-8zM1220 356h8v3h-8zM708 359h8v3h-8zM708 362h8v3h-8zM1212 362h8v3h-8zM1212 365h8v3h-8zM716 368h8v3h-8zM1204 371h8v3h-8zM724 374h8v3h-8zM1204 374h8v3h-8zM724 377h16v3h-16zM1196 377h8v3h-8zM732 380h16v3h-16zM1196 380h8v3h-8zM740 383h136v3h-136zM1188 383h8v3h-8zM748 386h312v3h-312zM1180 386h16v3h-16zM764 389h320v3h-320zM1164 389h24v3h-24zM1076 392h96v3h-96z"/><path fill="#0f0f0f" d="M924 41h8v3h-8zM988 41h16v3h-16zM900 44h16v3h-16zM1012 44h16v3h-16zM876 47h24v3h-24zM1020 47h16v3h-16zM868 50h24v3h-24zM1028 50h24v3h-24zM860 53h32v3h-32zM1028 53h24v3h-24zM756 56h32v3h-32zM852 56h24v3h-24zM1036 56h24v3h-24zM1148 56h24v3h-24zM740 59h24v3h-24zM780 59h72v3h-72zM1060 59h32v3h-32zM1108 59h88v3h-88zM724 62h8v3h-8zM1204 62h8v3h-8zM708 65h8v3h-8zM700 68h8v3h-8zM1228 71h8v3h-8zM692 74h8v3h-8zM684 83h8v3h-8zM676 95h8v3h-8zM1252 122h8v3h-8zM1252 125h8v3h-8zM1252 128h8v3h-8zM1252 140h8v3h-8zM1252 143h8v3h-8zM676 167h8v3h-8zM676 170h8v3h-8zM676 173h8v3h-8zM676 272h8v3h-8zM1244 281h8v3h-8zM684 293h8v3h-8zM684 296h8v3h-8zM1236 302h8v3h-8zM1236 305h8v3h-8zM692 329h8v3h-8zM692 332h8v3h-8zM1228 338h8v3h-8zM700 344h8v3h-8zM1220 347h8v3h-8zM708 353h8v3h-8zM708 356h8v3h-8zM1212 356h8v3h-8zM1212 359h8v3h-8zM716 362h8v3h-8zM716 365h8v3h-8zM1204 365h8v3h-8zM724 368h8v3h-8zM1204 368h8v3h-8zM724 371h16v3h-16zM1196 371h8v3h-8zM732 374h16v3h-16zM1196 374h8v3h-8zM740 377h128v3h-128zM1188 377h8v3h-8zM748 380h248v3h-248zM1180 380h16v3h-16zM876 383h200v3h-200zM1172 383h16v3h-16zM1060 386h32v3h-32zM1164 386h16v3h-16zM1084 389h32v3h-32zM1132 389h32v3h-32z"/><path fill="#111111" d="M932 41h56v3h-56zM916 44h16v3h-16zM996 44h16v3h-16zM900 47h16v3h-16zM1012 47h8v3h-8zM892 50h24v3h-24zM1012 50h16v3h-16zM892 53h16v3h-16zM1020 53h8v3h-8zM876 56h24v3h-24zM1020 56h16v3h-16zM764 59h16v3h-16zM852 59h24v3h-24zM1036 59h24v3h-24zM732 62h8v3h-8zM820 62h8v3h-8zM1076 62h48v3h-48zM1188 62h16v3h-16zM716 65h8v3h-8zM1212 65h8v3h-8zM1220 68h8v3h-8zM1236 80h8v3h-8zM684 86h8v3h-8zM1244 92h8v3h-8zM1252 131h8v3h-8zM1252 134h8v3h-8zM1252 137h8v3h-8zM676 161h8v3h-8zM676 164h8v3h-8zM676 176h8v3h-8zM676 179h8v3h-8zM676 209h8v3h-8zM676 212h8v3h-8zM676 215h8v3h-8zM676 218h8v3h-8zM676 221h8v3h-8zM676 224h8v3h-8zM676 269h8v3h-8zM1244 278h8v3h-8zM684 290h8v3h-8zM1236 299h8v3h-8zM692 308h8v3h-8zM692 311h8v3h-8zM692 314h8v3h-8zM692 317h8v3h-8zM692 320h8v3h-8zM692 323h8v3h-8zM692 326h8v3h-8zM1228 335h8v3h-8zM700 341h8v3h-8zM1220 344h8v3h-8zM708 350h8v3h-8zM1212 353h8v3h-8zM716 356h8v3h-8zM716 359h8v3h-8zM1204 359h8v3h-8zM1204 362h8v3h-8zM724 365h8v3h-8zM732 368h8v3h-8zM1196 368h8v3h-8zM740 371h96v3h-96zM1188 371h8v3h-8zM748 374h144v3h-144zM940 374h24v3h-24zM1188 374h8v3h-8zM868 377h136v3h-136zM1044 377h16v3h-16zM1180 377h8v3h-8zM996 380h80v3h-80zM1172 380h8v3h-8zM1076 383h16v3h-16zM1164 383h8v3h-8zM1092 386h16v3h-16zM1140 386h24v3h-24zM1116 389h16v3h-16z"/><path fill="#121212" d="M932 44h16v3h-16zM964 44h32v3h-32zM916 47h16v3h-16zM996 47h16v3h-16zM916 50h8v3h-8zM1004 50h8v3h-8zM908 53h16v3h-16zM1004 53h16v3h-16zM900 56h16v3h-16zM1012 56h8v3h-8zM876 59h24v3h-24zM1020 59h16v3h-16zM740 62h80v3h-80zM828 62h32v3h-32zM1052 62h24v3h-24zM1124 62h64v3h-64zM1204 65h8v3h-8zM708 68h8v3h-8zM700 71h8v3h-8zM1228 74h8v3h-8zM692 77h8v3h-8zM1236 83h8v3h-8zM676 98h8v3h-8zM676 158h8v3h-8zM676 182h8v3h-8zM676 206h8v3h-8zM676 227h8v3h-8zM676 230h8v3h-8zM676 233h8v3h-8zM676 236h8v3h-8zM676 239h8v3h-8zM676 242h8v3h-8zM676 245h8v3h-8zM676 248h8v3h-8zM676 263h8v3h-8zM676 266h8v3h-8zM1244 275h8v3h-8zM684 287h8v3h-8zM1236 296h8v3h-8zM692 305h8v3h-8zM1228 329h8v3h-8zM1228 332h8v3h-8zM700 338h8v3h-8zM1220 341h8v3h-8zM708 344h8v3h-8zM708 347h8v3h-8zM1212 347h8v3h-8zM1212 350h8v3h-8zM716 353h8v3h-8zM1204 356h8v3h-8zM724 359h8v3h-8zM724 362h16v3h-16zM1196 362h8v3h-8zM732 365h16v3h-16zM1196 365h8v3h-8zM740 368h112v3h-112zM1188 368h8v3h-8zM836 371h48v3h-48zM940 371h24v3h-24zM1180 371h8v3h-8zM892 374h48v3h-48zM964 374h32v3h-32zM1044 374h24v3h-24zM1172 374h16v3h-16zM1004 377h40v3h-40zM1060 377h24v3h-24zM1164 377h16v3h-16zM1076 380h16v3h-16zM1156 380h16v3h-16zM1092 383h16v3h-16zM1148 383h16v3h-16zM1108 386h32v3h-32z"/><path fill="#131313" d="M948 44h16v3h-16zM932 47h16v3h-16zM964 47h32v3h-32zM924 50h16v3h-16zM988 50h16v3h-16zM924 53h8v3h-8zM988 53h16v3h-16zM916 56h8v3h-8zM996 56h16v3h-16zM900 59h16v3h-16zM1012 59h8v3h-8zM860 62h24v3h-24zM1036 62h16v3h-16zM724 65h16v3h-16zM1084 65h32v3h-32zM1196 65h8v3h-8zM1212 68h8v3h-8zM684 89h8v3h-8zM1244 95h8v3h-8zM676 155h8v3h-8zM1244 167h8v3h-8zM1244 170h8v3h-8zM1244 173h8v3h-8zM676 185h8v3h-8zM676 200h8v3h-8zM676 203h8v3h-8zM676 251h8v3h-8zM676 254h8v3h-8zM676 257h8v3h-8zM676 260h8v3h-8zM1244 272h8v3h-8zM684 284h8v3h-8zM1236 293h8v3h-8zM692 302h8v3h-8zM1228 308h8v3h-8zM1228 311h8v3h-8zM1228 314h8v3h-8zM1228 317h8v3h-8zM1228 320h8v3h-8zM1228 323h8v3h-8zM1228 326h8v3h-8zM700 332h8v3h-8zM700 335h8v3h-8zM1220 338h8v3h-8zM708 341h8v3h-8zM1212 344h8v3h-8zM716 350h8v3h-8zM1204 350h8v3h-8zM1204 353h8v3h-8zM724 356h8v3h-8zM1196 356h8v3h-8zM732 359h8v3h-8zM1196 359h8v3h-8zM740 362h8v3h-8zM1188 362h8v3h-8zM748 365h112v3h-112zM1180 365h16v3h-16zM852 368h32v3h-32zM1180 368h8v3h-8zM884 371h56v3h-56zM964 371h24v3h-24zM1052 371h16v3h-16zM1172 371h8v3h-8zM996 374h48v3h-48zM1068 374h16v3h-16zM1164 374h8v3h-8zM1084 377h8v3h-8zM1156 377h8v3h-8zM1092 380h16v3h-16zM1148 380h8v3h-8zM1108 383h40v3h-40z"/><path fill="#151515" d="M948 47h16v3h-16zM940 50h48v3h-48zM932 53h56v3h-56zM924 56h16v3h-16zM980 56h16v3h-16zM916 59h8v3h-8zM1004 59h8v3h-8zM884 62h16v3h-16zM1020 62h16v3h-16zM740 65h16v3h-16zM796 65h48v3h-48zM1060 65h24v3h-24zM1116 65h24v3h-24zM1172 65h24v3h-24zM716 68h8v3h-8zM1220 71h8v3h-8zM700 74h8v3h-8zM1228 77h8v3h-8zM692 80h8v3h-8zM1236 86h8v3h-8zM676 101h8v3h-8zM676 152h8v3h-8zM1244 164h8v3h-8zM1244 176h8v3h-8zM676 188h8v3h-8zM676 194h8v3h-8zM676 197h8v3h-8zM1244 212h8v3h-8zM1244 215h8v3h-8zM1244 218h8v3h-8zM1244 269h8v3h-8zM684 281h8v3h-8zM1236 290h8v3h-8zM692 299h8v3h-8zM1228 305h8v3h-8zM700 311h8v3h-8zM700 314h8v3h-8zM700 317h8v3h-8zM700 320h8v3h-8zM700 323h8v3h-8zM700 326h8v3h-8zM700 329h8v3h-8zM1220 335h8v3h-8zM716 347h8v3h-8zM1204 347h8v3h-8zM724 350h8v3h-8zM724 353h8v3h-8zM1196 353h8v3h-8zM732 356h8v3h-8zM1188 356h8v3h-8zM740 359h16v3h-16zM796 359h40v3h-40zM1180 359h16v3h-16zM748 362h112v3h-112zM1180 362h8v3h-8zM860 365h16v3h-16zM1172 365h8v3h-8zM884 368h104v3h-104zM1060 368h16v3h-16zM1164 368h16v3h-16zM988 371h64v3h-64zM1068 371h24v3h-24zM1164 371h8v3h-8zM1084 374h8v3h-8zM1156 374h8v3h-8zM1092 377h16v3h-16zM1148 377h8v3h-8zM1108 380h40v3h-40z"/><path fill="#161616" d="M940 56h40v3h-40zM924 59h8v3h-8zM988 59h16v3h-16zM900 62h16v3h-16zM1012 62h8v3h-8zM756 65h40v3h-40zM844 65h24v3h-24zM1044 65h16v3h-16zM1140 65h32v3h-32zM724 68h8v3h-8zM1204 68h8v3h-8zM708 71h8v3h-8zM1244 98h8v3h-8zM676 104h8v3h-8zM676 149h8v3h-8zM1244 161h8v3h-8zM1244 179h8v3h-8zM676 191h8v3h-8zM1244 209h8v3h-8zM1244 221h8v3h-8zM1244 224h8v3h-8zM1244 227h8v3h-8zM1244 266h8v3h-8zM684 278h8v3h-8zM1236 287h8v3h-8zM692 296h8v3h-8zM1228 302h8v3h-8zM700 308h8v3h-8zM1220 332h8v3h-8zM708 338h8v3h-8zM1212 341h8v3h-8zM716 344h8v3h-8zM724 347h8v3h-8zM1196 350h8v3h-8zM732 353h16v3h-16zM820 353h16v3h-16zM1188 353h8v3h-8zM740 356h112v3h-112zM1172 356h16v3h-16zM756 359h40v3h-40zM836 359h24v3h-24zM1172 359h8v3h-8zM860 362h16v3h-16zM1164 362h16v3h-16zM876 365h24v3h-24zM932 365h48v3h-48zM1060 365h24v3h-24zM1164 365h8v3h-8zM988 368h16v3h-16zM1036 368h24v3h-24zM1076 368h16v3h-16zM1156 368h8v3h-8zM1092 371h8v3h-8zM1156 371h8v3h-8zM1092 374h16v3h-16zM1148 374h8v3h-8zM1108 377h16v3h-16zM1132 377h16v3h-16z"/><path fill="#171717" d="M932 59h56v3h-56zM916 62h8v3h-8zM1004 62h8v3h-8zM868 65h16v3h-16zM1036 65h8v3h-8zM732 68h8v3h-8zM1092 68h16v3h-16zM1196 68h8v3h-8zM1212 71h8v3h-8zM1220 74h8v3h-8zM692 83h8v3h-8zM684 92h8v3h-8zM676 107h8v3h-8zM676 110h8v3h-8zM676 146h8v3h-8zM1244 158h8v3h-8zM1244 182h8v3h-8zM1244 206h8v3h-8zM1244 230h8v3h-8zM1244 233h8v3h-8zM1244 236h8v3h-8zM1244 239h8v3h-8zM1244 242h8v3h-8zM1244 245h8v3h-8zM1244 248h8v3h-8zM1244 251h8v3h-8zM1244 263h8v3h-8zM1236 284h8v3h-8zM692 293h8v3h-8zM1228 299h8v3h-8zM700 305h8v3h-8zM1220 329h8v3h-8zM708 332h8v3h-8zM708 335h8v3h-8zM1212 338h8v3h-8zM716 341h8v3h-8zM1204 344h8v3h-8zM1084 347h32v3h-32zM1196 347h8v3h-8zM732 350h16v3h-16zM804 350h48v3h-48zM1076 350h48v3h-48zM1180 350h16v3h-16zM748 353h72v3h-72zM836 353h24v3h-24zM1076 353h48v3h-48zM1156 353h32v3h-32zM852 356h16v3h-16zM1068 356h40v3h-40zM1148 356h24v3h-24zM860 359h16v3h-16zM1068 359h32v3h-32zM1148 359h24v3h-24zM876 362h16v3h-16zM940 362h40v3h-40zM1060 362h40v3h-40zM1148 362h16v3h-16zM900 365h32v3h-32zM980 365h16v3h-16zM1044 365h16v3h-16zM1084 365h16v3h-16zM1148 365h16v3h-16zM1004 368h32v3h-32zM1092 368h16v3h-16zM1148 368h8v3h-8zM1100 371h8v3h-8zM1140 371h16v3h-16zM1108 374h40v3h-40zM1124 377h8v3h-8z"/><path fill="#181818" d="M924 62h8v3h-8zM996 62h8v3h-8zM884 65h16v3h-16zM1020 65h16v3h-16zM740 68h8v3h-8zM804 68h40v3h-40zM1068 68h24v3h-24zM1108 68h24v3h-24zM1180 68h16v3h-16zM716 71h8v3h-8zM700 77h8v3h-8zM1228 80h8v3h-8zM1236 89h8v3h-8zM676 113h8v3h-8zM676 116h8v3h-8zM676 119h8v3h-8zM676 122h8v3h-8zM676 143h8v3h-8zM1244 155h8v3h-8zM1244 185h8v3h-8zM1244 200h8v3h-8zM1244 203h8v3h-8zM1244 254h8v3h-8zM1244 257h8v3h-8zM1244 260h8v3h-8zM684 275h8v3h-8zM1236 281h8v3h-8zM692 290h8v3h-8zM1228 296h8v3h-8zM700 302h8v3h-8zM1220 308h8v3h-8zM1220 311h8v3h-8zM1220 314h8v3h-8zM1220 317h8v3h-8zM1220 320h8v3h-8zM1220 323h8v3h-8zM708 326h8v3h-8zM1220 326h8v3h-8zM708 329h8v3h-8zM716 338h8v3h-8zM1204 341h8v3h-8zM724 344h8v3h-8zM836 344h8v3h-8zM1068 344h56v3h-56zM1196 344h8v3h-8zM732 347h8v3h-8zM804 347h56v3h-56zM1060 347h24v3h-24zM1116 347h32v3h-32zM1188 347h8v3h-8zM748 350h56v3h-56zM852 350h16v3h-16zM1060 350h16v3h-16zM1124 350h56v3h-56zM860 353h8v3h-8zM1060 353h16v3h-16zM1124 353h32v3h-32zM868 356h8v3h-8zM956 356h16v3h-16zM1060 356h8v3h-8zM1108 356h40v3h-40zM876 359h8v3h-8zM940 359h40v3h-40zM1052 359h16v3h-16zM1100 359h48v3h-48zM892 362h48v3h-48zM980 362h16v3h-16zM1044 362h16v3h-16zM1100 362h48v3h-48zM996 365h48v3h-48zM1100 365h16v3h-16zM1132 365h16v3h-16zM1108 368h16v3h-16zM1132 368h16v3h-16zM1108 371h32v3h-32z"/><path fill="#1a1a1a" d="M932 62h16v3h-16zM964 62h32v3h-32zM900 65h16v3h-16zM1012 65h8v3h-8zM748 68h56v3h-56zM844 68h16v3h-16zM1052 68h16v3h-16zM1132 68h48v3h-48zM1204 71h8v3h-8zM708 74h8v3h-8zM1244 101h8v3h-8zM676 125h8v3h-8zM676 128h8v3h-8zM676 140h8v3h-8zM1244 152h8v3h-8zM1244 188h8v3h-8zM1244 197h8v3h-8zM684 272h8v3h-8zM692 287h8v3h-8zM700 299h8v3h-8zM1220 305h8v3h-8zM708 308h8v3h-8zM708 311h8v3h-8zM708 314h8v3h-8zM708 317h8v3h-8zM708 320h8v3h-8zM708 323h8v3h-8zM716 335h8v3h-8zM1212 335h8v3h-8zM1076 338h24v3h-24zM724 341h8v3h-8zM836 341h24v3h-24zM1052 341h72v3h-72zM732 344h8v3h-8zM804 344h32v3h-32zM844 344h24v3h-24zM964 344h16v3h-16zM1044 344h24v3h-24zM1124 344h24v3h-24zM740 347h24v3h-24zM772 347h32v3h-32zM860 347h16v3h-16zM956 347h32v3h-32zM1044 347h16v3h-16zM1148 347h40v3h-40zM868 350h8v3h-8zM948 350h40v3h-40zM1044 350h16v3h-16zM868 353h16v3h-16zM948 353h40v3h-40zM1044 353h16v3h-16zM876 356h8v3h-8zM940 356h16v3h-16zM972 356h16v3h-16zM1044 356h16v3h-16zM884 359h16v3h-16zM924 359h16v3h-16zM980 359h16v3h-16zM1044 359h8v3h-8zM996 362h8v3h-8zM1028 362h16v3h-16zM1116 365h16v3h-16zM1124 368h8v3h-8z"/><path fill="#1b1b1b" d="M948 62h16v3h-16zM916 65h8v3h-8zM1004 65h8v3h-8zM860 68h16v3h-16zM1044 68h8v3h-8zM724 71h8v3h-8zM1196 71h8v3h-8zM1212 74h8v3h-8zM1220 77h8v3h-8zM700 80h8v3h-8zM1228 83h8v3h-8zM692 86h8v3h-8zM684 95h8v3h-8zM1244 104h8v3h-8zM676 131h8v3h-8zM676 134h8v3h-8zM676 137h8v3h-8zM1244 149h8v3h-8zM684 167h8v3h-8zM684 170h8v3h-8zM684 173h8v3h-8zM1244 191h8v3h-8zM1244 194h8v3h-8zM1236 278h8v3h-8zM1228 293h8v3h-8zM1220 302h8v3h-8zM708 305h8v3h-8zM716 332h8v3h-8zM1212 332h8v3h-8zM1068 335h32v3h-32zM724 338h8v3h-8zM836 338h24v3h-24zM1036 338h40v3h-40zM1100 338h24v3h-24zM1204 338h8v3h-8zM732 341h8v3h-8zM812 341h24v3h-24zM860 341h16v3h-16zM956 341h56v3h-56zM1020 341h32v3h-32zM1124 341h16v3h-16zM1196 341h8v3h-8zM740 344h8v3h-8zM788 344h16v3h-16zM868 344h16v3h-16zM948 344h16v3h-16zM980 344h64v3h-64zM1148 344h16v3h-16zM1180 344h16v3h-16zM764 347h8v3h-8zM876 347h8v3h-8zM940 347h16v3h-16zM988 347h24v3h-24zM1028 347h16v3h-16zM876 350h8v3h-8zM940 350h8v3h-8zM988 350h16v3h-16zM1036 350h8v3h-8zM884 353h8v3h-8zM932 353h16v3h-16zM988 353h16v3h-16zM1036 353h8v3h-8zM884 356h16v3h-16zM924 356h16v3h-16zM988 356h16v3h-16zM1036 356h8v3h-8zM900 359h24v3h-24zM996 359h16v3h-16zM1028 359h16v3h-16zM1004 362h24v3h-24z"/><path fill="#1c1c1c" d="M996 65h8v3h-8zM876 68h16v3h-16zM1028 68h16v3h-16zM732 71h8v3h-8zM1084 71h32v3h-32zM1188 71h8v3h-8zM1236 92h8v3h-8zM684 164h8v3h-8zM684 176h8v3h-8zM684 215h8v3h-8zM684 269h8v3h-8zM692 284h8v3h-8zM1228 290h8v3h-8zM700 296h8v3h-8zM1212 311h8v3h-8zM1212 314h8v3h-8zM716 329h8v3h-8zM1212 329h8v3h-8zM1052 332h56v3h-56zM836 335h40v3h-40zM972 335h96v3h-96zM1100 335h24v3h-24zM820 338h16v3h-16zM860 338h24v3h-24zM948 338h88v3h-88zM1124 338h8v3h-8zM796 341h16v3h-16zM876 341h16v3h-16zM932 341h24v3h-24zM1012 341h8v3h-8zM1140 341h8v3h-8zM1188 341h8v3h-8zM748 344h40v3h-40zM884 344h8v3h-8zM932 344h16v3h-16zM1164 344h16v3h-16zM884 347h16v3h-16zM932 347h8v3h-8zM1012 347h16v3h-16zM884 350h16v3h-16zM924 350h16v3h-16zM1004 350h32v3h-32zM892 353h16v3h-16zM916 353h16v3h-16zM1004 353h32v3h-32zM900 356h24v3h-24zM1004 356h32v3h-32zM1012 359h16v3h-16z"/><path fill="#1d1d1d" d="M924 65h16v3h-16zM988 65h8v3h-8zM892 68h8v3h-8zM1020 68h8v3h-8zM740 71h8v3h-8zM796 71h48v3h-48zM1068 71h16v3h-16zM1116 71h16v3h-16zM1180 71h8v3h-8zM716 74h8v3h-8zM708 77h8v3h-8zM1244 107h8v3h-8zM1244 110h8v3h-8zM1244 113h8v3h-8zM1244 116h8v3h-8zM1244 146h8v3h-8zM684 161h8v3h-8zM684 209h8v3h-8zM684 212h8v3h-8zM684 218h8v3h-8zM684 221h8v3h-8zM1236 275h8v3h-8zM692 281h8v3h-8zM1220 299h8v3h-8zM708 302h8v3h-8zM716 308h8v3h-8zM1212 308h8v3h-8zM716 311h8v3h-8zM716 314h8v3h-8zM716 317h8v3h-8zM1212 317h8v3h-8zM716 320h8v3h-8zM1212 320h8v3h-8zM716 323h8v3h-8zM1212 323h8v3h-8zM716 326h8v3h-8zM1068 326h24v3h-24zM1212 326h8v3h-8zM1028 329h80v3h-80zM836 332h56v3h-56zM956 332h96v3h-96zM1108 332h16v3h-16zM724 335h8v3h-8zM820 335h16v3h-16zM876 335h32v3h-32zM924 335h48v3h-48zM1124 335h8v3h-8zM1204 335h8v3h-8zM732 338h8v3h-8zM804 338h16v3h-16zM884 338h64v3h-64zM1132 338h16v3h-16zM1196 338h8v3h-8zM740 341h16v3h-16zM780 341h16v3h-16zM892 341h40v3h-40zM1148 341h16v3h-16zM1180 341h8v3h-8zM892 344h40v3h-40zM900 347h32v3h-32zM900 350h24v3h-24zM908 353h8v3h-8z"/><path fill="#1f1f1f" d="M940 65h48v3h-48zM900 68h8v3h-8zM1012 68h8v3h-8zM748 71h48v3h-48zM844 71h16v3h-16zM1052 71h16v3h-16zM1132 71h48v3h-48zM1204 74h8v3h-8zM1220 80h8v3h-8zM700 83h8v3h-8zM1228 86h8v3h-8zM692 89h8v3h-8zM684 98h8v3h-8zM1244 119h8v3h-8zM1244 122h8v3h-8zM1244 143h8v3h-8zM684 179h8v3h-8zM684 224h8v3h-8zM684 227h8v3h-8zM684 266h8v3h-8zM1228 287h8v3h-8zM700 293h8v3h-8zM1212 305h8v3h-8zM1084 317h8v3h-8zM1052 320h48v3h-48zM1028 323h80v3h-80zM844 326h56v3h-56zM1004 326h64v3h-64zM1092 326h24v3h-24zM836 329h192v3h-192zM1108 329h16v3h-16zM724 332h8v3h-8zM820 332h16v3h-16zM892 332h64v3h-64zM1124 332h8v3h-8zM1204 332h8v3h-8zM732 335h8v3h-8zM812 335h8v3h-8zM908 335h16v3h-16zM1132 335h8v3h-8zM740 338h8v3h-8zM788 338h16v3h-16zM1148 338h8v3h-8zM756 341h24v3h-24zM1164 341h16v3h-16z"/><path fill="#202020" d="M908 68h8v3h-8zM860 71h8v3h-8zM1044 71h8v3h-8zM724 74h8v3h-8zM1196 74h8v3h-8zM1212 77h8v3h-8zM1244 125h8v3h-8zM1244 128h8v3h-8zM684 158h8v3h-8zM684 182h8v3h-8zM684 206h8v3h-8zM684 230h8v3h-8zM684 233h8v3h-8zM684 236h8v3h-8zM684 239h8v3h-8zM684 242h8v3h-8zM684 245h8v3h-8zM684 248h8v3h-8zM684 263h8v3h-8zM1236 272h8v3h-8zM692 278h8v3h-8zM1228 284h8v3h-8zM700 290h8v3h-8zM1220 296h8v3h-8zM708 299h8v3h-8zM1212 302h8v3h-8zM716 305h8v3h-8zM724 311h8v3h-8zM1204 311h8v3h-8zM724 314h8v3h-8zM1052 314h56v3h-56zM1204 314h8v3h-8zM724 317h8v3h-8zM844 317h40v3h-40zM1028 317h56v3h-56zM1092 317h24v3h-24zM724 320h8v3h-8zM836 320h80v3h-80zM1012 320h40v3h-40zM1100 320h16v3h-16zM724 323h8v3h-8zM828 323h104v3h-104zM980 323h48v3h-48zM1108 323h16v3h-16zM724 326h8v3h-8zM828 326h16v3h-16zM900 326h104v3h-104zM1116 326h8v3h-8zM724 329h8v3h-8zM820 329h16v3h-16zM1124 329h8v3h-8zM1204 329h8v3h-8zM812 332h8v3h-8zM1132 332h8v3h-8zM796 335h16v3h-16zM1140 335h8v3h-8zM1196 335h8v3h-8zM748 338h40v3h-40zM1156 338h8v3h-8zM1188 338h8v3h-8z"/><path fill="#212121" d="M916 68h8v3h-8zM1004 68h8v3h-8zM868 71h16v3h-16zM1036 71h8v3h-8zM732 74h8v3h-8zM1084 74h32v3h-32zM1188 74h8v3h-8zM716 77h8v3h-8zM708 80h8v3h-8zM1236 95h8v3h-8zM1244 131h8v3h-8zM1244 134h8v3h-8zM1244 137h8v3h-8zM1244 140h8v3h-8zM684 155h8v3h-8zM1236 167h8v3h-8zM1236 170h8v3h-8zM1236 173h8v3h-8zM684 203h8v3h-8zM684 251h8v3h-8zM684 254h8v3h-8zM684 257h8v3h-8zM684 260h8v3h-8zM1220 293h8v3h-8zM716 302h8v3h-8zM1204 305h8v3h-8zM724 308h8v3h-8zM1204 308h8v3h-8zM1052 311h64v3h-64zM820 314h80v3h-80zM1020 314h32v3h-32zM1108 314h16v3h-16zM820 317h24v3h-24zM884 317h40v3h-40zM1004 317h24v3h-24zM1116 317h8v3h-8zM1204 317h8v3h-8zM820 320h16v3h-16zM916 320h96v3h-96zM1116 320h8v3h-8zM1204 320h8v3h-8zM820 323h8v3h-8zM932 323h48v3h-48zM1124 323h8v3h-8zM1204 323h8v3h-8zM812 326h16v3h-16zM1124 326h8v3h-8zM1204 326h8v3h-8zM812 329h8v3h-8zM1132 329h8v3h-8zM732 332h8v3h-8zM796 332h16v3h-16zM740 335h8v3h-8zM780 335h16v3h-16zM1148 335h8v3h-8zM1164 338h24v3h-24z"/><path fill="#232323" d="M924 68h8v3h-8zM996 68h8v3h-8zM884 71h16v3h-16zM1028 71h8v3h-8zM740 74h8v3h-8zM804 74h40v3h-40zM1068 74h16v3h-16zM1116 74h16v3h-16zM1180 74h8v3h-8zM1204 77h8v3h-8zM1220 83h8v3h-8zM684 101h8v3h-8zM1236 164h8v3h-8zM1236 176h8v3h-8zM684 185h8v3h-8zM684 200h8v3h-8zM1236 269h8v3h-8zM1228 281h8v3h-8zM700 287h8v3h-8zM708 296h8v3h-8zM1212 299h8v3h-8zM724 305h8v3h-8zM732 308h8v3h-8zM1068 308h48v3h-48zM732 311h8v3h-8zM812 311h80v3h-80zM1028 311h24v3h-24zM1116 311h16v3h-16zM732 314h8v3h-8zM804 314h16v3h-16zM900 314h24v3h-24zM1004 314h16v3h-16zM1124 314h8v3h-8zM732 317h8v3h-8zM804 317h16v3h-16zM924 317h80v3h-80zM1124 317h8v3h-8zM732 320h8v3h-8zM804 320h16v3h-16zM1124 320h8v3h-8zM732 323h8v3h-8zM804 323h16v3h-16zM732 326h8v3h-8zM804 326h8v3h-8zM1132 326h8v3h-8zM732 329h8v3h-8zM796 329h16v3h-16zM740 332h8v3h-8zM788 332h8v3h-8zM1140 332h8v3h-8zM1196 332h8v3h-8zM748 335h32v3h-32zM1156 335h8v3h-8zM1188 335h8v3h-8z"/><path fill="#242424" d="M932 68h8v3h-8zM980 68h16v3h-16zM900 71h8v3h-8zM1020 71h8v3h-8zM748 74h56v3h-56zM844 74h8v3h-8zM1060 74h8v3h-8zM1132 74h48v3h-48zM724 77h8v3h-8zM1212 80h8v3h-8zM700 86h8v3h-8zM1228 89h8v3h-8zM692 92h8v3h-8zM684 152h8v3h-8zM684 188h8v3h-8zM684 197h8v3h-8zM1236 212h8v3h-8zM1236 215h8v3h-8zM1236 218h8v3h-8zM1236 221h8v3h-8zM692 275h8v3h-8zM1220 290h8v3h-8zM716 299h8v3h-8zM1204 302h8v3h-8zM812 308h64v3h-64zM1036 308h32v3h-32zM1116 308h16v3h-16zM1196 308h8v3h-8zM740 311h8v3h-8zM796 311h16v3h-16zM892 311h24v3h-24zM1012 311h16v3h-16zM1132 311h8v3h-8zM1196 311h8v3h-8zM740 314h8v3h-8zM796 314h8v3h-8zM924 314h80v3h-80zM1132 314h8v3h-8zM1196 314h8v3h-8zM740 317h8v3h-8zM796 317h8v3h-8zM1132 317h8v3h-8zM1196 317h8v3h-8zM740 320h8v3h-8zM796 320h8v3h-8zM1132 320h8v3h-8zM796 323h8v3h-8zM1132 323h8v3h-8zM740 326h8v3h-8zM796 326h8v3h-8zM740 329h8v3h-8zM788 329h8v3h-8zM1140 329h8v3h-8zM1196 329h8v3h-8zM748 332h40v3h-40zM1148 332h8v3h-8zM1164 335h24v3h-24z"/><path fill="#252525" d="M940 68h40v3h-40zM908 71h8v3h-8zM1012 71h8v3h-8zM852 74h16v3h-16zM1052 74h8v3h-8zM1196 77h8v3h-8zM1236 161h8v3h-8zM1236 179h8v3h-8zM684 191h8v3h-8zM684 194h8v3h-8zM1236 209h8v3h-8zM1236 224h8v3h-8zM1236 266h8v3h-8zM700 284h8v3h-8zM708 293h8v3h-8zM1212 296h8v3h-8zM724 302h8v3h-8zM732 305h8v3h-8zM1068 305h56v3h-56zM1196 305h8v3h-8zM740 308h8v3h-8zM796 308h16v3h-16zM876 308h32v3h-32zM1020 308h16v3h-16zM1132 308h8v3h-8zM748 311h16v3h-16zM772 311h24v3h-24zM916 311h16v3h-16zM988 311h24v3h-24zM1140 311h8v3h-8zM1188 311h8v3h-8zM748 314h48v3h-48zM1140 314h8v3h-8zM748 317h16v3h-16zM772 317h24v3h-24zM1140 317h8v3h-8zM748 320h8v3h-8zM780 320h16v3h-16zM1140 320h8v3h-8zM1196 320h8v3h-8zM740 323h8v3h-8zM780 323h16v3h-16zM1140 323h8v3h-8zM1196 323h8v3h-8zM748 326h8v3h-8zM780 326h16v3h-16zM1140 326h8v3h-8zM1196 326h8v3h-8zM748 329h40v3h-40zM1148 329h8v3h-8zM1156 332h8v3h-8zM1188 332h8v3h-8z"/><path fill="#262626" d="M868 74h8v3h-8zM1036 74h16v3h-16zM732 77h8v3h-8zM1084 77h32v3h-32zM1188 77h8v3h-8zM716 80h8v3h-8zM708 83h8v3h-8zM1236 98h8v3h-8zM684 104h8v3h-8zM684 149h8v3h-8zM1236 158h8v3h-8zM1236 206h8v3h-8zM1236 227h8v3h-8zM1236 230h8v3h-8zM1236 263h8v3h-8zM1228 278h8v3h-8zM1220 287h8v3h-8zM1204 299h8v3h-8zM1196 302h8v3h-8zM740 305h8v3h-8zM804 305h64v3h-64zM1044 305h24v3h-24zM1124 305h8v3h-8zM1188 305h8v3h-8zM748 308h48v3h-48zM908 308h8v3h-8zM1004 308h16v3h-16zM1140 308h16v3h-16zM1188 308h8v3h-8zM764 311h8v3h-8zM932 311h56v3h-56zM1148 311h8v3h-8zM1148 314h8v3h-8zM1188 314h8v3h-8zM764 317h8v3h-8zM1148 317h8v3h-8zM1188 317h8v3h-8zM756 320h24v3h-24zM1148 320h8v3h-8zM748 323h32v3h-32zM1148 323h8v3h-8zM756 326h24v3h-24zM1148 326h8v3h-8zM1156 329h8v3h-8zM1188 329h8v3h-8zM1164 332h24v3h-24z"/><path fill="#282828" d="M916 71h8v3h-8zM1004 71h8v3h-8zM876 74h16v3h-16zM1028 74h8v3h-8zM740 77h8v3h-8zM812 77h24v3h-24zM1068 77h16v3h-16zM1116 77h16v3h-16zM1180 77h8v3h-8zM1204 80h8v3h-8zM1220 86h8v3h-8zM1236 182h8v3h-8zM1236 233h8v3h-8zM1236 236h8v3h-8zM1236 239h8v3h-8zM1236 242h8v3h-8zM1236 245h8v3h-8zM1236 248h8v3h-8zM1236 251h8v3h-8zM1236 260h8v3h-8zM692 272h8v3h-8zM700 281h8v3h-8zM708 290h8v3h-8zM1212 293h8v3h-8zM716 296h8v3h-8zM724 299h8v3h-8zM732 302h8v3h-8zM1076 302h40v3h-40zM748 305h56v3h-56zM868 305h32v3h-32zM1028 305h16v3h-16zM1132 305h16v3h-16zM1180 305h8v3h-8zM916 308h16v3h-16zM988 308h16v3h-16zM1156 308h32v3h-32zM1156 311h32v3h-32zM1156 314h32v3h-32zM1156 317h8v3h-8zM1156 320h8v3h-8zM1188 320h8v3h-8zM1188 323h8v3h-8zM1156 326h8v3h-8zM1188 326h8v3h-8zM1164 329h8v3h-8zM1180 329h8v3h-8z"/><path fill="#292929" d="M924 71h8v3h-8zM996 71h8v3h-8zM892 74h8v3h-8zM748 77h8v3h-8zM788 77h24v3h-24zM836 77h16v3h-16zM1060 77h8v3h-8zM1132 77h16v3h-16zM1164 77h16v3h-16zM724 80h8v3h-8zM1212 83h8v3h-8zM700 89h8v3h-8zM1228 92h8v3h-8zM692 95h8v3h-8zM684 107h8v3h-8zM684 110h8v3h-8zM684 146h8v3h-8zM1236 155h8v3h-8zM692 170h8v3h-8zM1236 203h8v3h-8zM1236 254h8v3h-8zM1236 257h8v3h-8zM1228 275h8v3h-8zM1220 284h8v3h-8zM1204 296h8v3h-8zM1196 299h8v3h-8zM740 302h8v3h-8zM804 302h56v3h-56zM1052 302h24v3h-24zM1116 302h16v3h-16zM1188 302h8v3h-8zM900 305h16v3h-16zM1012 305h16v3h-16zM1148 305h32v3h-32zM932 308h56v3h-56zM1164 317h24v3h-24zM1164 320h8v3h-8zM1180 320h8v3h-8zM1156 323h8v3h-8zM1180 323h8v3h-8zM1164 326h8v3h-8zM1180 326h8v3h-8zM1172 329h8v3h-8z"/><path fill="#2a2a2a" d="M988 71h8v3h-8zM900 74h8v3h-8zM1020 74h8v3h-8zM756 77h32v3h-32zM852 77h8v3h-8zM1052 77h8v3h-8zM1148 77h16v3h-16zM1196 80h8v3h-8zM684 113h8v3h-8zM684 116h8v3h-8zM684 119h8v3h-8zM684 122h8v3h-8zM692 167h8v3h-8zM692 173h8v3h-8zM1236 185h8v3h-8zM1236 200h8v3h-8zM708 287h8v3h-8zM1212 290h8v3h-8zM716 293h8v3h-8zM724 296h8v3h-8zM732 299h8v3h-8zM1092 299h8v3h-8zM748 302h56v3h-56zM860 302h16v3h-16zM1036 302h16v3h-16zM1132 302h24v3h-24zM1172 302h16v3h-16zM916 305h8v3h-8zM1004 305h8v3h-8zM1172 320h8v3h-8zM1164 323h16v3h-16zM1172 326h8v3h-8z"/><path fill="#2c2c2c" d="M932 71h8v3h-8zM972 71h16v3h-16zM1012 74h8v3h-8zM860 77h8v3h-8zM1044 77h8v3h-8zM732 80h8v3h-8zM1084 80h32v3h-32zM716 83h8v3h-8zM708 86h8v3h-8zM1236 101h8v3h-8zM684 125h8v3h-8zM684 143h8v3h-8zM1236 152h8v3h-8zM692 164h8v3h-8zM692 176h8v3h-8zM692 215h8v3h-8zM692 269h8v3h-8zM700 278h8v3h-8zM1204 293h8v3h-8zM1196 296h8v3h-8zM740 299h8v3h-8zM820 299h16v3h-16zM1068 299h24v3h-24zM1100 299h24v3h-24zM1188 299h8v3h-8zM876 302h24v3h-24zM1020 302h16v3h-16zM1156 302h16v3h-16zM924 305h8v3h-8zM988 305h16v3h-16z"/><path fill="#2d2d2d" d="M940 71h32v3h-32zM908 74h8v3h-8zM868 77h8v3h-8zM1036 77h8v3h-8zM820 80h8v3h-8zM1076 80h8v3h-8zM1116 80h8v3h-8zM1188 80h8v3h-8zM1204 83h8v3h-8zM684 128h8v3h-8zM1236 188h8v3h-8zM1236 197h8v3h-8zM692 212h8v3h-8zM692 218h8v3h-8zM692 221h8v3h-8zM1220 281h8v3h-8zM708 284h8v3h-8zM1212 287h8v3h-8zM716 290h8v3h-8zM732 296h8v3h-8zM748 299h8v3h-8zM796 299h24v3h-24zM836 299h24v3h-24zM1052 299h16v3h-16zM1124 299h16v3h-16zM1180 299h8v3h-8zM900 302h8v3h-8zM1012 302h8v3h-8zM932 305h56v3h-56z"/><path fill="#2e2e2e" d="M916 74h8v3h-8zM1004 74h8v3h-8zM876 77h16v3h-16zM1028 77h8v3h-8zM740 80h8v3h-8zM796 80h24v3h-24zM828 80h16v3h-16zM1068 80h8v3h-8zM1124 80h16v3h-16zM1180 80h8v3h-8zM1212 86h8v3h-8zM1220 89h8v3h-8zM684 131h8v3h-8zM684 140h8v3h-8zM692 161h8v3h-8zM692 179h8v3h-8zM1236 191h8v3h-8zM1236 194h8v3h-8zM692 209h8v3h-8zM692 224h8v3h-8zM692 266h8v3h-8zM1228 272h8v3h-8zM724 293h8v3h-8zM1084 296h24v3h-24zM1188 296h8v3h-8zM756 299h40v3h-40zM860 299h16v3h-16zM1036 299h16v3h-16zM1140 299h40v3h-40zM908 302h16v3h-16zM1004 302h8v3h-8z"/><path fill="#2f2f2f" d="M892 77h8v3h-8zM748 80h48v3h-48zM844 80h8v3h-8zM1060 80h8v3h-8zM1140 80h40v3h-40zM724 83h8v3h-8zM1196 83h8v3h-8zM700 92h8v3h-8zM692 98h8v3h-8zM1236 104h8v3h-8zM684 134h8v3h-8zM684 137h8v3h-8zM1236 149h8v3h-8zM1228 170h8v3h-8zM692 227h8v3h-8zM700 275h8v3h-8zM1204 290h8v3h-8zM1196 293h8v3h-8zM740 296h8v3h-8zM812 296h32v3h-32zM1068 296h16v3h-16zM1108 296h24v3h-24zM1180 296h8v3h-8zM876 299h16v3h-16zM1028 299h8v3h-8zM924 302h8v3h-8zM996 302h8v3h-8z"/><path fill="#313131" d="M924 74h8v3h-8zM996 74h8v3h-8zM900 77h8v3h-8zM1020 77h8v3h-8zM852 80h8v3h-8zM1052 80h8v3h-8zM1228 95h8v3h-8zM692 158h8v3h-8zM1228 167h8v3h-8zM1228 173h8v3h-8zM692 206h8v3h-8zM692 230h8v3h-8zM692 233h8v3h-8zM692 263h8v3h-8zM1220 278h8v3h-8zM708 281h8v3h-8zM1212 284h8v3h-8zM716 287h8v3h-8zM724 290h8v3h-8zM732 293h8v3h-8zM748 296h16v3h-16zM788 296h24v3h-24zM844 296h16v3h-16zM1052 296h16v3h-16zM1132 296h16v3h-16zM1172 296h8v3h-8zM892 299h16v3h-16zM1020 299h8v3h-8zM932 302h8v3h-8zM980 302h16v3h-16z"/><path fill="#323232" d="M988 74h8v3h-8zM1012 77h8v3h-8zM860 80h8v3h-8zM1044 80h8v3h-8zM732 83h8v3h-8zM1084 83h32v3h-32zM1188 83h8v3h-8zM716 86h8v3h-8zM708 89h8v3h-8zM1236 107h8v3h-8zM1236 146h8v3h-8zM1228 164h8v3h-8zM692 182h8v3h-8zM692 236h8v3h-8zM692 239h8v3h-8zM692 242h8v3h-8zM692 245h8v3h-8zM692 248h8v3h-8zM692 251h8v3h-8zM692 260h8v3h-8zM1228 269h8v3h-8zM1204 287h8v3h-8zM1196 290h8v3h-8zM1076 293h40v3h-40zM1188 293h8v3h-8zM764 296h24v3h-24zM860 296h8v3h-8zM1044 296h8v3h-8zM1148 296h24v3h-24zM908 299h8v3h-8zM1012 299h8v3h-8zM940 302h40v3h-40z"/><path fill="#333333" d="M932 74h8v3h-8zM972 74h16v3h-16zM908 77h8v3h-8zM868 80h8v3h-8zM1036 80h8v3h-8zM740 83h8v3h-8zM812 83h24v3h-24zM1068 83h16v3h-16zM1116 83h8v3h-8zM1180 83h8v3h-8zM1204 86h8v3h-8zM1236 110h8v3h-8zM1236 113h8v3h-8zM1236 116h8v3h-8zM1236 119h8v3h-8zM692 155h8v3h-8zM1228 176h8v3h-8zM692 203h8v3h-8zM1228 215h8v3h-8zM692 254h8v3h-8zM692 257h8v3h-8zM716 284h8v3h-8zM740 293h8v3h-8zM804 293h40v3h-40zM1068 293h8v3h-8zM1116 293h16v3h-16zM1180 293h8v3h-8zM868 296h16v3h-16zM1028 296h16v3h-16zM916 299h8v3h-8zM1004 299h8v3h-8z"/><path fill="#353535" d="M940 74h32v3h-32zM1004 77h8v3h-8zM876 80h16v3h-16zM1028 80h8v3h-8zM748 83h8v3h-8zM796 83h16v3h-16zM836 83h8v3h-8zM1124 83h16v3h-16zM1172 83h8v3h-8zM1236 122h8v3h-8zM1228 212h8v3h-8zM1228 218h8v3h-8zM1228 221h8v3h-8zM700 272h8v3h-8zM1212 281h8v3h-8zM724 287h8v3h-8zM732 290h8v3h-8zM1092 290h16v3h-16zM1188 290h8v3h-8zM748 293h16v3h-16zM780 293h24v3h-24zM844 293h16v3h-16zM1052 293h16v3h-16zM1132 293h48v3h-48zM884 296h16v3h-16zM1020 296h8v3h-8zM924 299h8v3h-8zM996 299h8v3h-8z"/><path fill="#363636" d="M916 77h8v3h-8zM892 80h8v3h-8zM756 83h40v3h-40zM844 83h8v3h-8zM1060 83h8v3h-8zM1140 83h32v3h-32zM724 86h8v3h-8zM1212 89h8v3h-8zM1220 92h8v3h-8zM692 101h8v3h-8zM1236 125h8v3h-8zM1236 143h8v3h-8zM1228 161h8v3h-8zM1228 179h8v3h-8zM692 185h8v3h-8zM692 200h8v3h-8zM1228 209h8v3h-8zM1228 224h8v3h-8zM1228 266h8v3h-8zM1220 275h8v3h-8zM708 278h8v3h-8zM1204 284h8v3h-8zM1196 287h8v3h-8zM740 290h8v3h-8zM1076 290h16v3h-16zM1108 290h16v3h-16zM764 293h16v3h-16zM860 293h8v3h-8zM1044 293h8v3h-8zM900 296h8v3h-8zM932 299h8v3h-8zM988 299h8v3h-8z"/><path fill="#373737" d="M996 77h8v3h-8zM1020 80h8v3h-8zM852 83h8v3h-8zM1052 83h8v3h-8zM1196 86h8v3h-8zM692 152h8v3h-8zM700 170h8v3h-8zM692 197h8v3h-8zM1228 227h8v3h-8zM716 281h8v3h-8zM732 287h8v3h-8zM748 290h8v3h-8zM804 290h40v3h-40zM1068 290h8v3h-8zM1124 290h16v3h-16zM1172 290h16v3h-16zM868 293h16v3h-16zM1036 293h8v3h-8zM908 296h8v3h-8zM1012 296h8v3h-8zM940 299h48v3h-48z"/><path fill="#383838" d="M924 77h8v3h-8zM900 80h8v3h-8zM860 83h8v3h-8zM1044 83h8v3h-8zM732 86h8v3h-8zM1084 86h24v3h-24zM700 95h8v3h-8zM1228 98h8v3h-8zM1236 128h8v3h-8zM1236 140h8v3h-8zM1228 158h8v3h-8zM700 167h8v3h-8zM700 173h8v3h-8zM692 188h8v3h-8zM692 194h8v3h-8zM1228 206h8v3h-8zM1228 230h8v3h-8zM1228 263h8v3h-8zM1212 278h8v3h-8zM724 284h8v3h-8zM1084 287h32v3h-32zM1188 287h8v3h-8zM756 290h16v3h-16zM780 290h24v3h-24zM844 290h16v3h-16zM1052 290h16v3h-16zM1140 290h32v3h-32zM884 293h8v3h-8zM1028 293h8v3h-8zM916 296h8v3h-8zM1004 296h8v3h-8z"/><path fill="#3a3a3a" d="M988 77h8v3h-8zM908 80h8v3h-8zM1012 80h8v3h-8zM868 83h8v3h-8zM1036 83h8v3h-8zM1076 86h8v3h-8zM1108 86h16v3h-16zM1188 86h8v3h-8zM716 89h8v3h-8zM1236 131h8v3h-8zM1236 134h8v3h-8zM1236 137h8v3h-8zM692 191h8v3h-8zM1228 233h8v3h-8zM1228 236h8v3h-8zM1228 239h8v3h-8zM1228 242h8v3h-8zM1228 245h8v3h-8zM1228 248h8v3h-8zM1228 260h8v3h-8zM700 269h8v3h-8zM1204 281h8v3h-8zM1196 284h8v3h-8zM740 287h8v3h-8zM820 287h8v3h-8zM1068 287h16v3h-16zM1116 287h8v3h-8zM1180 287h8v3h-8zM772 290h8v3h-8zM860 290h8v3h-8zM1044 290h8v3h-8zM892 293h8v3h-8zM1020 293h8v3h-8zM996 296h8v3h-8z"/><path fill="#3b3b3b" d="M932 77h8v3h-8zM980 77h8v3h-8zM876 83h8v3h-8zM740 86h8v3h-8zM804 86h32v3h-32zM1068 86h8v3h-8zM1124 86h8v3h-8zM1180 86h8v3h-8zM1204 89h8v3h-8zM708 92h8v3h-8zM692 104h8v3h-8zM692 149h8v3h-8zM700 164h8v3h-8zM700 176h8v3h-8zM1228 182h8v3h-8zM1228 203h8v3h-8zM1228 251h8v3h-8zM1228 254h8v3h-8zM1228 257h8v3h-8zM1220 272h8v3h-8zM708 275h8v3h-8zM732 284h8v3h-8zM748 287h8v3h-8zM796 287h24v3h-24zM828 287h16v3h-16zM1060 287h8v3h-8zM1124 287h16v3h-16zM1172 287h8v3h-8zM868 290h8v3h-8zM1036 290h8v3h-8zM900 293h8v3h-8zM924 296h8v3h-8zM988 296h8v3h-8z"/><path fill="#3c3c3c" d="M940 77h40v3h-40zM1004 80h8v3h-8zM884 83h8v3h-8zM1028 83h8v3h-8zM748 86h8v3h-8zM796 86h8v3h-8zM836 86h16v3h-16zM1060 86h8v3h-8zM1132 86h8v3h-8zM1172 86h8v3h-8zM1228 155h8v3h-8zM700 212h8v3h-8zM700 215h8v3h-8zM700 218h8v3h-8zM716 278h8v3h-8zM724 281h8v3h-8zM1084 284h32v3h-32zM1188 284h8v3h-8zM756 287h16v3h-16zM780 287h16v3h-16zM844 287h16v3h-16zM1052 287h8v3h-8zM1140 287h32v3h-32zM876 290h16v3h-16zM1028 290h8v3h-8zM908 293h8v3h-8zM1012 293h8v3h-8zM932 296h8v3h-8zM980 296h8v3h-8z"/><path fill="#3e3e3e" d="M916 80h8v3h-8zM892 83h8v3h-8zM756 86h40v3h-40zM1140 86h32v3h-32zM724 89h8v3h-8zM692 107h8v3h-8zM700 161h8v3h-8zM1220 170h8v3h-8zM700 221h8v3h-8zM1196 281h8v3h-8zM740 284h8v3h-8zM1068 284h16v3h-16zM1116 284h8v3h-8zM1180 284h8v3h-8zM772 287h8v3h-8zM860 287h8v3h-8zM1044 287h8v3h-8zM892 290h8v3h-8zM916 293h8v3h-8zM1004 293h8v3h-8zM940 296h40v3h-40z"/><path fill="#3f3f3f" d="M996 80h8v3h-8zM1020 83h8v3h-8zM852 86h8v3h-8zM1052 86h8v3h-8zM1196 89h8v3h-8zM1212 92h8v3h-8zM1220 95h8v3h-8zM1228 101h8v3h-8zM692 146h8v3h-8zM1220 167h8v3h-8zM1220 173h8v3h-8zM700 179h8v3h-8zM1228 185h8v3h-8zM1228 200h8v3h-8zM700 209h8v3h-8zM700 224h8v3h-8zM700 266h8v3h-8zM1212 275h8v3h-8zM1204 278h8v3h-8zM804 284h40v3h-40zM1124 284h16v3h-16zM1172 284h8v3h-8zM868 287h8v3h-8zM1036 287h8v3h-8zM900 290h8v3h-8zM1020 290h8v3h-8z"/><path fill="#404040" d="M924 80h8v3h-8zM900 83h8v3h-8zM860 86h8v3h-8zM1044 86h8v3h-8zM700 98h8v3h-8zM692 110h8v3h-8zM692 113h8v3h-8zM692 116h8v3h-8zM692 119h8v3h-8zM1228 152h8v3h-8zM700 227h8v3h-8zM1220 269h8v3h-8zM732 281h8v3h-8zM1092 281h16v3h-16zM1188 281h8v3h-8zM748 284h16v3h-16zM788 284h16v3h-16zM844 284h8v3h-8zM1060 284h8v3h-8zM1140 284h32v3h-32zM876 287h8v3h-8zM1012 290h8v3h-8zM924 293h8v3h-8zM996 293h8v3h-8z"/><path fill="#414141" d="M988 80h8v3h-8zM1012 83h8v3h-8zM868 86h8v3h-8zM732 89h8v3h-8zM1084 89h32v3h-32zM692 122h8v3h-8zM700 158h8v3h-8zM1220 164h8v3h-8zM1220 176h8v3h-8zM1228 188h8v3h-8zM1228 197h8v3h-8zM700 206h8v3h-8zM700 230h8v3h-8zM700 263h8v3h-8zM708 272h8v3h-8zM1076 281h16v3h-16zM1108 281h8v3h-8zM764 284h24v3h-24zM852 284h8v3h-8zM1052 284h8v3h-8zM884 287h8v3h-8zM1028 287h8v3h-8zM908 290h8v3h-8zM988 293h8v3h-8z"/><path fill="#434343" d="M932 80h8v3h-8zM980 80h8v3h-8zM908 83h8v3h-8zM876 86h8v3h-8zM1036 86h8v3h-8zM1076 89h8v3h-8zM1116 89h8v3h-8zM1188 89h8v3h-8zM716 92h8v3h-8zM692 143h8v3h-8zM1228 191h8v3h-8zM1228 194h8v3h-8zM1220 215h8v3h-8zM1220 218h8v3h-8zM700 233h8v3h-8zM700 236h8v3h-8zM700 239h8v3h-8zM700 242h8v3h-8zM700 245h8v3h-8zM716 275h8v3h-8zM724 278h8v3h-8zM1196 278h8v3h-8zM740 281h8v3h-8zM1068 281h8v3h-8zM1116 281h16v3h-16zM1180 281h8v3h-8zM860 284h8v3h-8zM1044 284h8v3h-8zM892 287h8v3h-8zM1020 287h8v3h-8zM916 290h8v3h-8zM1004 290h8v3h-8zM932 293h8v3h-8zM972 293h16v3h-16z"/><path fill="#444444" d="M972 80h8v3h-8zM1028 86h8v3h-8zM740 89h8v3h-8zM812 89h24v3h-24zM1068 89h8v3h-8zM1124 89h8v3h-8zM1180 89h8v3h-8zM692 125h8v3h-8zM708 170h8v3h-8zM700 182h8v3h-8zM1220 212h8v3h-8zM1220 221h8v3h-8zM700 248h8v3h-8zM700 251h8v3h-8zM700 260h8v3h-8zM804 281h40v3h-40zM1060 281h8v3h-8zM1132 281h8v3h-8zM1172 281h8v3h-8zM868 284h8v3h-8zM1036 284h8v3h-8zM900 287h8v3h-8zM940 293h32v3h-32z"/><path fill="#454545" d="M940 80h32v3h-32zM916 83h8v3h-8zM1004 83h8v3h-8zM884 86h8v3h-8zM748 89h8v3h-8zM796 89h16v3h-16zM836 89h8v3h-8zM1132 89h8v3h-8zM1172 89h8v3h-8zM1204 92h8v3h-8zM708 95h8v3h-8zM1228 104h8v3h-8zM692 128h8v3h-8zM1228 149h8v3h-8zM700 155h8v3h-8zM1220 161h8v3h-8zM708 167h8v3h-8zM708 173h8v3h-8zM700 203h8v3h-8zM1220 209h8v3h-8zM700 254h8v3h-8zM700 257h8v3h-8zM1220 266h8v3h-8zM1212 272h8v3h-8zM1204 275h8v3h-8zM748 281h8v3h-8zM796 281h8v3h-8zM844 281h8v3h-8zM1140 281h32v3h-32zM876 284h8v3h-8zM1028 284h8v3h-8zM908 287h8v3h-8zM1012 287h8v3h-8zM924 290h8v3h-8zM996 290h8v3h-8z"/><path fill="#464646" d="M892 86h8v3h-8zM1020 86h8v3h-8zM756 89h8v3h-8zM788 89h8v3h-8zM844 89h8v3h-8zM1060 89h8v3h-8zM1140 89h32v3h-32zM692 140h8v3h-8zM1220 179h8v3h-8zM1220 224h8v3h-8zM732 278h8v3h-8zM1084 278h32v3h-32zM1188 278h8v3h-8zM756 281h40v3h-40zM852 281h8v3h-8zM1052 281h8v3h-8zM884 284h8v3h-8zM988 290h8v3h-8z"/><path fill="#484848" d="M996 83h8v3h-8zM764 89h24v3h-24zM852 89h8v3h-8zM1052 89h8v3h-8zM724 92h8v3h-8zM1220 98h8v3h-8zM692 131h8v3h-8zM692 137h8v3h-8zM708 164h8v3h-8zM708 176h8v3h-8zM700 185h8v3h-8zM700 200h8v3h-8zM1220 227h8v3h-8zM708 269h8v3h-8zM1076 278h8v3h-8zM1116 278h8v3h-8zM860 281h8v3h-8zM1044 281h8v3h-8zM892 284h8v3h-8zM1020 284h8v3h-8zM916 287h8v3h-8zM1004 287h8v3h-8zM932 290h8v3h-8zM980 290h8v3h-8z"/><path fill="#494949" d="M924 83h8v3h-8zM900 86h8v3h-8zM1196 92h8v3h-8zM1212 95h8v3h-8zM700 101h8v3h-8zM1228 107h8v3h-8zM692 134h8v3h-8zM1228 146h8v3h-8zM1220 158h8v3h-8zM1212 170h8v3h-8zM1220 206h8v3h-8zM708 215h8v3h-8zM708 218h8v3h-8zM1220 230h8v3h-8zM1220 263h8v3h-8zM724 275h8v3h-8zM1196 275h8v3h-8zM740 278h8v3h-8zM1068 278h8v3h-8zM1124 278h8v3h-8zM1180 278h8v3h-8zM868 281h8v3h-8zM1036 281h8v3h-8zM900 284h8v3h-8zM940 290h8v3h-8zM964 290h16v3h-16z"/><path fill="#4a4a4a" d="M988 83h8v3h-8zM1012 86h8v3h-8zM860 89h8v3h-8zM1044 89h8v3h-8zM1228 110h8v3h-8zM700 152h8v3h-8zM1212 167h8v3h-8zM1212 173h8v3h-8zM708 212h8v3h-8zM1220 233h8v3h-8zM1220 236h8v3h-8zM1220 239h8v3h-8zM1220 242h8v3h-8zM1220 245h8v3h-8zM1220 248h8v3h-8zM716 272h8v3h-8zM812 278h32v3h-32zM1060 278h8v3h-8zM1132 278h16v3h-16zM1172 278h8v3h-8zM876 281h8v3h-8zM1012 284h8v3h-8zM996 287h8v3h-8zM948 290h16v3h-16z"/><path fill="#4c4c4c" d="M932 83h8v3h-8zM980 83h8v3h-8zM908 86h8v3h-8zM868 89h8v3h-8zM732 92h8v3h-8zM1092 92h16v3h-16zM1228 113h8v3h-8zM1228 116h8v3h-8zM1228 119h8v3h-8zM708 161h8v3h-8zM1220 182h8v3h-8zM700 188h8v3h-8zM700 197h8v3h-8zM708 221h8v3h-8zM1220 251h8v3h-8zM1220 254h8v3h-8zM1220 257h8v3h-8zM1220 260h8v3h-8zM1212 269h8v3h-8zM1204 272h8v3h-8zM748 278h8v3h-8zM796 278h16v3h-16zM844 278h8v3h-8zM1148 278h24v3h-24zM884 281h8v3h-8zM1028 281h8v3h-8zM908 284h8v3h-8zM924 287h8v3h-8z"/><path fill="#4d4d4d" d="M972 83h8v3h-8zM876 89h8v3h-8zM1036 89h8v3h-8zM1084 92h8v3h-8zM1108 92h8v3h-8zM1188 92h8v3h-8zM1228 122h8v3h-8zM1212 164h8v3h-8zM716 170h8v3h-8zM1212 176h8v3h-8zM708 179h8v3h-8zM700 191h8v3h-8zM700 194h8v3h-8zM1220 203h8v3h-8zM708 209h8v3h-8zM708 224h8v3h-8zM708 266h8v3h-8zM732 275h8v3h-8zM1084 275h24v3h-24zM1188 275h8v3h-8zM756 278h8v3h-8zM788 278h8v3h-8zM852 278h8v3h-8zM1052 278h8v3h-8zM892 281h8v3h-8zM988 287h8v3h-8z"/><path fill="#4e4e4e" d="M940 83h32v3h-32zM1004 86h8v3h-8zM1028 89h8v3h-8zM1076 92h8v3h-8zM1116 92h8v3h-8zM716 95h8v3h-8zM1228 143h8v3h-8zM1220 155h8v3h-8zM716 167h8v3h-8zM716 173h8v3h-8zM1212 215h8v3h-8zM1076 275h8v3h-8zM1108 275h8v3h-8zM764 278h24v3h-24zM860 278h8v3h-8zM1044 278h8v3h-8zM1020 281h8v3h-8zM916 284h8v3h-8zM1004 284h8v3h-8zM932 287h8v3h-8zM980 287h8v3h-8z"/><path fill="#4f4f4f" d="M916 86h8v3h-8zM884 89h8v3h-8zM740 92h8v3h-8zM804 92h32v3h-32zM1068 92h8v3h-8zM1124 92h8v3h-8zM1180 92h8v3h-8zM708 98h8v3h-8zM700 104h8v3h-8zM1228 125h8v3h-8zM700 149h8v3h-8zM708 206h8v3h-8zM1212 212h8v3h-8zM1212 218h8v3h-8zM708 227h8v3h-8zM1068 275h8v3h-8zM1116 275h8v3h-8zM1180 275h8v3h-8zM868 278h8v3h-8zM900 281h8v3h-8zM940 287h40v3h-40z"/><path fill="#515151" d="M892 89h8v3h-8zM796 92h8v3h-8zM836 92h8v3h-8zM1132 92h8v3h-8zM1204 95h8v3h-8zM708 158h8v3h-8zM1212 161h8v3h-8zM1204 170h8v3h-8zM1204 173h8v3h-8zM1220 185h8v3h-8zM1220 200h8v3h-8zM1212 221h8v3h-8zM708 230h8v3h-8zM708 263h8v3h-8zM1212 266h8v3h-8zM716 269h8v3h-8zM724 272h8v3h-8zM1196 272h8v3h-8zM740 275h8v3h-8zM1124 275h8v3h-8zM876 278h8v3h-8zM1036 278h8v3h-8zM1012 281h8v3h-8zM996 284h8v3h-8z"/><path fill="#525252" d="M996 86h8v3h-8zM1020 89h8v3h-8zM748 92h8v3h-8zM788 92h8v3h-8zM844 92h8v3h-8zM1060 92h8v3h-8zM1140 92h8v3h-8zM1164 92h16v3h-16zM1220 101h8v3h-8zM1228 128h8v3h-8zM1228 140h8v3h-8zM716 164h8v3h-8zM1204 167h8v3h-8zM716 176h8v3h-8zM1212 179h8v3h-8zM1212 209h8v3h-8zM1212 224h8v3h-8zM708 233h8v3h-8zM708 236h8v3h-8zM708 239h8v3h-8zM812 275h32v3h-32zM1060 275h8v3h-8zM1132 275h16v3h-16zM1164 275h16v3h-16zM1028 278h8v3h-8zM908 281h8v3h-8zM924 284h8v3h-8z"/><path fill="#535353" d="M924 86h8v3h-8zM900 89h8v3h-8zM756 92h32v3h-32zM1148 92h16v3h-16zM700 107h8v3h-8zM1228 131h8v3h-8zM1220 152h8v3h-8zM724 170h8v3h-8zM708 182h8v3h-8zM716 215h8v3h-8zM716 218h8v3h-8zM708 242h8v3h-8zM708 245h8v3h-8zM708 248h8v3h-8zM708 260h8v3h-8zM1204 269h8v3h-8zM748 275h8v3h-8zM804 275h8v3h-8zM844 275h8v3h-8zM1148 275h16v3h-16zM884 278h8v3h-8zM988 284h8v3h-8z"/><path fill="#555555" d="M988 86h8v3h-8zM852 92h8v3h-8zM1052 92h8v3h-8zM724 95h8v3h-8zM1212 98h8v3h-8zM1228 134h8v3h-8zM1228 137h8v3h-8zM700 146h8v3h-8zM708 155h8v3h-8zM1204 164h8v3h-8zM724 167h8v3h-8zM724 173h8v3h-8zM1204 176h8v3h-8zM1220 188h8v3h-8zM1220 197h8v3h-8zM708 203h8v3h-8zM716 212h8v3h-8zM1212 227h8v3h-8zM708 251h8v3h-8zM708 254h8v3h-8zM708 257h8v3h-8zM1084 272h24v3h-24zM1188 272h8v3h-8zM796 275h8v3h-8zM852 275h8v3h-8zM1052 275h8v3h-8zM892 278h8v3h-8zM1020 278h8v3h-8zM916 281h8v3h-8zM1004 281h8v3h-8zM932 284h8v3h-8zM980 284h8v3h-8z"/><path fill="#565656" d="M932 86h8v3h-8zM1012 89h8v3h-8zM860 92h8v3h-8zM1196 95h8v3h-8zM700 110h8v3h-8zM1212 158h8v3h-8zM716 161h8v3h-8zM1196 170h8v3h-8zM1196 173h8v3h-8zM1220 191h8v3h-8zM1220 194h8v3h-8zM1212 206h8v3h-8zM1204 215h8v3h-8zM716 221h8v3h-8zM1212 230h8v3h-8zM1212 263h8v3h-8zM732 272h8v3h-8zM1076 272h8v3h-8zM1108 272h8v3h-8zM756 275h16v3h-16zM780 275h16v3h-16zM860 275h8v3h-8zM1044 275h8v3h-8zM940 284h8v3h-8zM964 284h16v3h-16z"/><path fill="#575757" d="M980 86h8v3h-8zM908 89h8v3h-8zM1044 92h8v3h-8zM700 113h8v3h-8zM700 116h8v3h-8zM700 119h8v3h-8zM1196 167h8v3h-8zM1092 170h8v3h-8zM716 179h8v3h-8zM716 209h8v3h-8zM1204 212h8v3h-8zM1204 218h8v3h-8zM716 224h8v3h-8zM1212 233h8v3h-8zM1212 242h8v3h-8zM1212 245h8v3h-8zM716 266h8v3h-8zM1116 272h8v3h-8zM1180 272h8v3h-8zM772 275h8v3h-8zM900 278h8v3h-8zM996 281h8v3h-8zM948 284h16v3h-16z"/><path fill="#585858" d="M940 86h8v3h-8zM964 86h16v3h-16zM868 92h8v3h-8zM1036 92h8v3h-8zM732 95h8v3h-8zM1092 95h16v3h-16zM1220 104h8v3h-8zM700 122h8v3h-8zM1220 149h8v3h-8zM1204 161h8v3h-8zM724 164h8v3h-8zM732 170h8v3h-8zM1084 170h8v3h-8zM1100 170h16v3h-16zM1092 173h8v3h-8zM724 176h8v3h-8zM1212 182h8v3h-8zM708 185h8v3h-8zM708 200h8v3h-8zM1204 221h8v3h-8zM1212 236h8v3h-8zM1212 239h8v3h-8zM1212 248h8v3h-8zM1212 251h8v3h-8zM1212 260h8v3h-8zM724 269h8v3h-8zM1196 269h8v3h-8zM1068 272h8v3h-8zM1124 272h8v3h-8zM868 275h8v3h-8zM1036 275h8v3h-8zM1012 278h8v3h-8zM924 281h8v3h-8z"/><path fill="#5a5a5a" d="M948 86h16v3h-16zM1004 89h8v3h-8zM1084 95h8v3h-8zM1108 95h8v3h-8zM1188 95h8v3h-8zM716 98h8v3h-8zM708 101h8v3h-8zM700 143h8v3h-8zM1196 164h8v3h-8zM732 167h8v3h-8zM1084 167h24v3h-24zM1076 170h8v3h-8zM1188 170h8v3h-8zM732 173h8v3h-8zM1084 173h8v3h-8zM1100 173h16v3h-16zM1212 203h8v3h-8zM1204 209h8v3h-8zM724 215h8v3h-8zM716 227h8v3h-8zM1212 254h8v3h-8zM1212 257h8v3h-8zM1204 266h8v3h-8zM740 272h8v3h-8zM828 272h8v3h-8zM1060 272h8v3h-8zM1132 272h8v3h-8zM1172 272h8v3h-8zM876 275h8v3h-8zM908 278h8v3h-8z"/><path fill="#5b5b5b" d="M916 89h8v3h-8zM876 92h8v3h-8zM1076 95h8v3h-8zM1116 95h8v3h-8zM700 125h8v3h-8zM708 152h8v3h-8zM1212 155h8v3h-8zM716 158h8v3h-8zM1076 167h8v3h-8zM1108 167h8v3h-8zM1188 167h8v3h-8zM820 170h8v3h-8zM1116 170h8v3h-8zM1076 173h8v3h-8zM1188 173h8v3h-8zM1196 176h8v3h-8zM1204 179h8v3h-8zM716 206h8v3h-8zM724 212h8v3h-8zM724 218h8v3h-8zM1204 224h8v3h-8zM812 272h16v3h-16zM836 272h8v3h-8zM1140 272h32v3h-32zM884 275h8v3h-8zM1028 275h8v3h-8zM988 281h8v3h-8z"/><path fill="#5c5c5c" d="M884 92h8v3h-8zM1028 92h8v3h-8zM740 95h8v3h-8zM812 95h24v3h-24zM724 161h8v3h-8zM1092 164h16v3h-16zM1116 167h8v3h-8zM740 170h8v3h-8zM804 170h16v3h-16zM828 170h8v3h-8zM1068 170h8v3h-8zM1124 170h8v3h-8zM1180 170h8v3h-8zM820 173h8v3h-8zM1116 173h8v3h-8zM708 188h8v3h-8zM708 197h8v3h-8zM1196 212h8v3h-8zM1092 215h8v3h-8zM1196 215h8v3h-8zM1092 218h8v3h-8zM1196 218h8v3h-8zM724 221h8v3h-8zM1204 227h8v3h-8zM716 230h8v3h-8zM716 263h8v3h-8zM1084 269h24v3h-24zM1188 269h8v3h-8zM748 272h8v3h-8zM804 272h8v3h-8zM844 272h8v3h-8zM1052 272h8v3h-8zM1004 278h8v3h-8zM932 281h8v3h-8zM980 281h8v3h-8z"/><path fill="#5e5e5e" d="M804 95h8v3h-8zM836 95h8v3h-8zM1068 95h8v3h-8zM1124 95h8v3h-8zM1180 95h8v3h-8zM1204 98h8v3h-8zM1220 107h8v3h-8zM732 164h8v3h-8zM1084 164h8v3h-8zM1108 164h8v3h-8zM1188 164h8v3h-8zM740 167h8v3h-8zM804 167h32v3h-32zM1068 167h8v3h-8zM1124 167h8v3h-8zM1180 167h8v3h-8zM796 170h8v3h-8zM836 170h8v3h-8zM1132 170h8v3h-8zM740 173h8v3h-8zM804 173h16v3h-16zM828 173h8v3h-8zM1068 173h8v3h-8zM1124 173h8v3h-8zM1180 173h8v3h-8zM732 176h8v3h-8zM1084 176h24v3h-24zM1204 206h8v3h-8zM724 209h8v3h-8zM1084 215h8v3h-8zM1100 215h8v3h-8zM1084 218h8v3h-8zM1100 218h8v3h-8zM1084 221h16v3h-16zM1196 221h8v3h-8zM716 233h8v3h-8zM716 236h8v3h-8zM732 269h8v3h-8zM1076 269h8v3h-8zM1108 269h8v3h-8zM852 272h8v3h-8zM892 275h8v3h-8zM1020 275h8v3h-8zM916 278h8v3h-8zM940 281h8v3h-8zM964 281h16v3h-16z"/><path fill="#5f5f5f" d="M996 89h8v3h-8zM892 92h8v3h-8zM748 95h8v3h-8zM796 95h8v3h-8zM1132 95h8v3h-8zM1172 95h8v3h-8zM700 128h8v3h-8zM700 140h8v3h-8zM1220 146h8v3h-8zM1204 158h8v3h-8zM1196 161h8v3h-8zM1076 164h8v3h-8zM796 167h8v3h-8zM836 167h8v3h-8zM748 170h8v3h-8zM788 170h8v3h-8zM844 170h8v3h-8zM1060 170h8v3h-8zM1140 170h8v3h-8zM1172 170h8v3h-8zM796 173h8v3h-8zM836 173h8v3h-8zM1132 173h8v3h-8zM1076 176h8v3h-8zM1108 176h8v3h-8zM1188 176h8v3h-8zM724 179h8v3h-8zM716 182h8v3h-8zM1212 185h8v3h-8zM708 191h8v3h-8zM708 194h8v3h-8zM1212 200h8v3h-8zM1084 212h24v3h-24zM732 215h8v3h-8zM1076 215h8v3h-8zM1108 215h8v3h-8zM732 218h8v3h-8zM1076 218h8v3h-8zM1108 218h8v3h-8zM1076 221h8v3h-8zM1100 221h8v3h-8zM724 224h8v3h-8zM1084 224h16v3h-16zM1204 230h8v3h-8zM716 239h8v3h-8zM716 242h8v3h-8zM716 245h8v3h-8zM716 248h8v3h-8zM1204 263h8v3h-8zM1196 266h8v3h-8zM1116 269h8v3h-8zM756 272h8v3h-8zM796 272h8v3h-8zM860 272h8v3h-8zM1044 272h8v3h-8zM948 281h16v3h-16z"/><path fill="#606060" d="M924 89h8v3h-8zM1020 92h8v3h-8zM788 95h8v3h-8zM844 95h8v3h-8zM1060 95h8v3h-8zM1140 95h8v3h-8zM1164 95h8v3h-8zM1212 101h8v3h-8zM1220 110h8v3h-8zM820 164h8v3h-8zM1116 164h8v3h-8zM748 167h8v3h-8zM788 167h8v3h-8zM844 167h8v3h-8zM1060 167h8v3h-8zM1132 167h16v3h-16zM1172 167h8v3h-8zM756 170h8v3h-8zM780 170h8v3h-8zM1148 170h24v3h-24zM748 173h8v3h-8zM788 173h8v3h-8zM844 173h8v3h-8zM1060 173h8v3h-8zM1140 173h8v3h-8zM1172 173h8v3h-8zM1116 176h8v3h-8zM1196 179h8v3h-8zM716 203h8v3h-8zM1196 209h8v3h-8zM732 212h8v3h-8zM1076 212h8v3h-8zM1108 212h8v3h-8zM1068 215h8v3h-8zM1116 215h8v3h-8zM1188 215h8v3h-8zM820 218h16v3h-16zM1068 218h8v3h-8zM1116 218h8v3h-8zM1188 218h8v3h-8zM1068 221h8v3h-8zM1108 221h8v3h-8zM1076 224h8v3h-8zM1100 224h8v3h-8zM1196 224h8v3h-8zM1084 227h16v3h-16zM1204 233h8v3h-8zM1204 236h8v3h-8zM1204 239h8v3h-8zM1204 242h8v3h-8zM1204 245h8v3h-8zM1204 248h8v3h-8zM716 251h8v3h-8zM716 260h8v3h-8zM724 266h8v3h-8zM1068 269h8v3h-8zM1124 269h8v3h-8zM1180 269h8v3h-8zM764 272h8v3h-8zM780 272h16v3h-16zM900 275h8v3h-8zM996 278h8v3h-8z"/><path fill="#616161" d="M988 89h8v3h-8zM900 92h8v3h-8zM756 95h32v3h-32zM1148 95h16v3h-16zM724 98h8v3h-8zM708 104h8v3h-8zM1220 113h8v3h-8zM1220 116h8v3h-8zM1220 119h8v3h-8zM700 131h8v3h-8zM700 134h8v3h-8zM700 137h8v3h-8zM708 149h8v3h-8zM1212 152h8v3h-8zM716 155h8v3h-8zM732 161h8v3h-8zM1092 161h16v3h-16zM740 164h8v3h-8zM804 164h16v3h-16zM828 164h8v3h-8zM1068 164h8v3h-8zM1124 164h8v3h-8zM1180 164h8v3h-8zM756 167h8v3h-8zM780 167h8v3h-8zM1148 167h24v3h-24zM764 170h16v3h-16zM852 170h8v3h-8zM1052 170h8v3h-8zM756 173h8v3h-8zM780 173h8v3h-8zM1148 173h24v3h-24zM740 176h8v3h-8zM812 176h24v3h-24zM1068 176h8v3h-8zM1180 176h8v3h-8zM1204 182h8v3h-8zM1092 209h8v3h-8zM1188 212h8v3h-8zM812 215h32v3h-32zM812 218h8v3h-8zM836 218h8v3h-8zM1060 218h8v3h-8zM732 221h8v3h-8zM820 221h16v3h-16zM1068 224h8v3h-8zM1108 224h8v3h-8zM724 227h8v3h-8zM1076 227h8v3h-8zM1100 227h8v3h-8zM1084 230h8v3h-8zM1204 251h8v3h-8zM716 254h8v3h-8zM716 257h8v3h-8zM1204 260h8v3h-8zM1132 269h8v3h-8zM1172 269h8v3h-8zM772 272h8v3h-8zM868 272h8v3h-8zM1036 272h8v3h-8zM924 278h8v3h-8z"/><path fill="#636363" d="M852 95h8v3h-8zM1052 95h8v3h-8zM724 158h8v3h-8zM1084 161h8v3h-8zM1108 161h8v3h-8zM1188 161h8v3h-8zM796 164h8v3h-8zM836 164h8v3h-8zM1132 164h8v3h-8zM764 167h16v3h-16zM852 167h8v3h-8zM1052 167h8v3h-8zM764 173h16v3h-16zM852 173h8v3h-8zM1052 173h8v3h-8zM804 176h8v3h-8zM836 176h8v3h-8zM1124 176h8v3h-8zM1212 188h8v3h-8zM1212 197h8v3h-8zM1204 203h8v3h-8zM724 206h8v3h-8zM732 209h8v3h-8zM1084 209h8v3h-8zM1100 209h8v3h-8zM812 212h24v3h-24zM1068 212h8v3h-8zM1116 212h8v3h-8zM740 215h8v3h-8zM804 215h8v3h-8zM1060 215h8v3h-8zM1124 215h8v3h-8zM1180 215h8v3h-8zM740 218h8v3h-8zM804 218h8v3h-8zM844 218h8v3h-8zM1124 218h8v3h-8zM812 221h8v3h-8zM836 221h16v3h-16zM1060 221h8v3h-8zM1116 221h8v3h-8zM1188 221h8v3h-8zM828 224h8v3h-8zM1060 224h8v3h-8zM1068 227h8v3h-8zM1196 227h8v3h-8zM724 230h8v3h-8zM1076 230h8v3h-8zM1092 230h16v3h-16zM1084 233h16v3h-16zM1204 254h8v3h-8zM1204 257h8v3h-8zM1092 266h16v3h-16zM740 269h8v3h-8zM828 269h8v3h-8zM1060 269h8v3h-8zM1140 269h8v3h-8zM1164 269h8v3h-8zM876 272h8v3h-8zM908 275h8v3h-8zM1012 275h8v3h-8z"/><path fill="#646464" d="M932 89h8v3h-8zM980 89h8v3h-8zM1012 92h8v3h-8zM1196 98h8v3h-8zM1220 122h8v3h-8zM1204 155h8v3h-8zM1196 158h8v3h-8zM1076 161h8v3h-8zM748 164h8v3h-8zM788 164h8v3h-8zM844 164h8v3h-8zM1060 164h8v3h-8zM1140 164h8v3h-8zM1172 164h8v3h-8zM860 170h8v3h-8zM1044 170h8v3h-8zM748 176h8v3h-8zM796 176h8v3h-8zM1060 176h8v3h-8zM1132 176h8v3h-8zM1172 176h8v3h-8zM732 179h8v3h-8zM1084 179h24v3h-24zM716 185h8v3h-8zM1196 206h8v3h-8zM1076 209h8v3h-8zM1108 209h8v3h-8zM1188 209h8v3h-8zM740 212h8v3h-8zM804 212h8v3h-8zM836 212h8v3h-8zM1124 212h8v3h-8zM1180 212h8v3h-8zM796 215h8v3h-8zM844 215h8v3h-8zM1132 215h8v3h-8zM796 218h8v3h-8zM1052 218h8v3h-8zM1180 218h8v3h-8zM804 221h8v3h-8zM1052 221h8v3h-8zM1124 221h8v3h-8zM732 224h8v3h-8zM820 224h8v3h-8zM836 224h16v3h-16zM1052 224h8v3h-8zM1116 224h8v3h-8zM1060 227h8v3h-8zM1108 227h8v3h-8zM1068 230h8v3h-8zM1068 233h16v3h-16zM1100 233h8v3h-8zM1076 236h24v3h-24zM1196 263h8v3h-8zM1084 266h8v3h-8zM1108 266h8v3h-8zM1188 266h8v3h-8zM820 269h8v3h-8zM836 269h8v3h-8zM1148 269h16v3h-16zM1028 272h8v3h-8zM988 278h8v3h-8z"/><path fill="#656565" d="M972 89h8v3h-8zM908 92h8v3h-8zM860 95h8v3h-8zM1044 95h8v3h-8zM716 101h8v3h-8zM1220 143h8v3h-8zM740 161h8v3h-8zM820 161h8v3h-8zM1116 161h8v3h-8zM756 164h8v3h-8zM780 164h8v3h-8zM1148 164h24v3h-24zM860 167h8v3h-8zM1044 167h8v3h-8zM860 173h8v3h-8zM1044 173h8v3h-8zM756 176h8v3h-8zM788 176h8v3h-8zM844 176h8v3h-8zM1140 176h32v3h-32zM1108 179h8v3h-8zM1188 179h8v3h-8zM724 182h8v3h-8zM1212 191h8v3h-8zM1212 194h8v3h-8zM716 200h8v3h-8zM1116 209h8v3h-8zM796 212h8v3h-8zM844 212h8v3h-8zM1060 212h8v3h-8zM748 215h8v3h-8zM788 215h8v3h-8zM852 215h8v3h-8zM1052 215h8v3h-8zM1172 215h8v3h-8zM748 218h8v3h-8zM852 218h8v3h-8zM1132 218h8v3h-8zM1172 218h8v3h-8zM740 221h8v3h-8zM852 221h8v3h-8zM1180 221h8v3h-8zM812 224h8v3h-8zM852 224h8v3h-8zM1188 224h8v3h-8zM820 227h32v3h-32zM1052 227h8v3h-8zM1060 230h8v3h-8zM1108 230h8v3h-8zM1196 230h8v3h-8zM724 233h8v3h-8zM1060 233h8v3h-8zM724 236h8v3h-8zM1068 236h8v3h-8zM1100 236h8v3h-8zM1076 239h32v3h-32zM1084 242h16v3h-16zM724 263h8v3h-8zM732 266h8v3h-8zM1076 266h8v3h-8zM1116 266h8v3h-8zM812 269h8v3h-8zM844 269h8v3h-8zM1052 269h8v3h-8zM884 272h8v3h-8zM932 278h8v3h-8zM980 278h8v3h-8z"/><path fill="#676767" d="M940 89h8v3h-8zM964 89h8v3h-8zM732 98h8v3h-8zM1084 98h24v3h-24zM708 107h8v3h-8zM1220 125h8v3h-8zM1092 158h8v3h-8zM804 161h16v3h-16zM828 161h8v3h-8zM1068 161h8v3h-8zM1124 161h8v3h-8zM1180 161h8v3h-8zM764 164h16v3h-16zM852 164h8v3h-8zM1052 164h8v3h-8zM868 170h8v3h-8zM1036 170h8v3h-8zM764 176h24v3h-24zM1076 179h8v3h-8zM1116 179h8v3h-8zM1092 206h16v3h-16zM740 209h8v3h-8zM812 209h24v3h-24zM1068 209h8v3h-8zM748 212h8v3h-8zM1132 212h8v3h-8zM1172 212h8v3h-8zM756 215h8v3h-8zM780 215h8v3h-8zM1140 215h32v3h-32zM788 218h8v3h-8zM860 218h8v3h-8zM1044 218h8v3h-8zM1140 218h8v3h-8zM1164 218h8v3h-8zM796 221h8v3h-8zM860 221h8v3h-8zM1044 221h8v3h-8zM1132 221h8v3h-8zM804 224h8v3h-8zM1044 224h8v3h-8zM1124 224h8v3h-8zM732 227h8v3h-8zM812 227h8v3h-8zM852 227h8v3h-8zM1044 227h8v3h-8zM1116 227h8v3h-8zM828 230h24v3h-24zM1052 230h8v3h-8zM1052 233h8v3h-8zM1108 233h8v3h-8zM1196 233h8v3h-8zM1060 236h8v3h-8zM1196 236h8v3h-8zM724 239h8v3h-8zM1068 239h8v3h-8zM1196 239h8v3h-8zM724 242h8v3h-8zM1076 242h8v3h-8zM1100 242h8v3h-8zM1196 242h8v3h-8zM724 245h8v3h-8zM1084 245h16v3h-16zM1196 245h8v3h-8zM1196 248h8v3h-8zM1068 266h8v3h-8zM1180 266h8v3h-8zM748 269h8v3h-8zM804 269h8v3h-8zM852 269h8v3h-8zM892 272h8v3h-8zM1004 275h8v3h-8zM972 278h8v3h-8z"/><path fill="#686868" d="M948 89h16v3h-16zM868 95h8v3h-8zM1036 95h8v3h-8zM1108 98h8v3h-8zM1188 98h8v3h-8zM1212 104h8v3h-8zM708 146h8v3h-8zM1212 149h8v3h-8zM716 152h8v3h-8zM732 158h8v3h-8zM1084 158h8v3h-8zM1100 158h8v3h-8zM796 161h8v3h-8zM836 161h8v3h-8zM1132 161h8v3h-8zM868 167h8v3h-8zM868 173h8v3h-8zM852 176h8v3h-8zM1052 176h8v3h-8zM740 179h8v3h-8zM812 179h24v3h-24zM1068 179h8v3h-8zM1180 179h8v3h-8zM1196 182h8v3h-8zM1204 185h8v3h-8zM1204 200h8v3h-8zM724 203h8v3h-8zM732 206h8v3h-8zM1084 206h8v3h-8zM1108 206h8v3h-8zM804 209h8v3h-8zM836 209h8v3h-8zM1124 209h8v3h-8zM1180 209h8v3h-8zM756 212h8v3h-8zM780 212h16v3h-16zM852 212h8v3h-8zM1052 212h8v3h-8zM1140 212h32v3h-32zM764 215h16v3h-16zM860 215h8v3h-8zM1044 215h8v3h-8zM756 218h32v3h-32zM1148 218h16v3h-16zM748 221h8v3h-8zM788 221h8v3h-8zM868 221h8v3h-8zM1036 221h8v3h-8zM1140 221h8v3h-8zM1172 221h8v3h-8zM740 224h8v3h-8zM796 224h8v3h-8zM860 224h8v3h-8zM1036 224h8v3h-8zM1180 224h8v3h-8zM860 227h8v3h-8zM1036 227h8v3h-8zM1188 227h8v3h-8zM820 230h8v3h-8zM852 230h8v3h-8zM1044 230h8v3h-8zM1116 230h8v3h-8zM828 233h24v3h-24zM1044 233h8v3h-8zM1052 236h8v3h-8zM1108 236h8v3h-8zM1060 239h8v3h-8zM1108 239h8v3h-8zM1068 242h8v3h-8zM1108 242h8v3h-8zM1076 245h8v3h-8zM1100 245h8v3h-8zM724 248h8v3h-8zM1084 248h24v3h-24zM1196 251h8v3h-8zM1196 260h8v3h-8zM1092 263h16v3h-16zM1124 266h8v3h-8zM796 269h8v3h-8zM1044 269h8v3h-8zM1020 272h8v3h-8zM916 275h8v3h-8zM940 278h32v3h-32z"/><path fill="#696969" d="M1004 92h8v3h-8zM1076 98h8v3h-8zM1116 98h8v3h-8zM1204 101h8v3h-8zM708 110h8v3h-8zM1220 128h8v3h-8zM1220 140h8v3h-8zM724 155h8v3h-8zM1108 158h8v3h-8zM1188 158h8v3h-8zM748 161h8v3h-8zM788 161h8v3h-8zM844 161h8v3h-8zM1060 161h8v3h-8zM1140 161h8v3h-8zM1172 161h8v3h-8zM860 164h8v3h-8zM1044 164h8v3h-8zM1036 167h8v3h-8zM876 170h8v3h-8zM1036 173h8v3h-8zM804 179h8v3h-8zM836 179h8v3h-8zM1124 179h8v3h-8zM716 188h8v3h-8zM716 197h8v3h-8zM1196 203h8v3h-8zM1076 206h8v3h-8zM1188 206h8v3h-8zM796 209h8v3h-8zM844 209h8v3h-8zM1060 209h8v3h-8zM1132 209h8v3h-8zM764 212h16v3h-16zM868 218h8v3h-8zM1036 218h8v3h-8zM756 221h8v3h-8zM780 221h8v3h-8zM876 221h8v3h-8zM1148 221h24v3h-24zM868 224h16v3h-16zM1132 224h8v3h-8zM804 227h8v3h-8zM868 227h8v3h-8zM1124 227h8v3h-8zM732 230h8v3h-8zM812 230h8v3h-8zM860 230h8v3h-8zM1036 230h8v3h-8zM1188 230h8v3h-8zM820 233h8v3h-8zM852 233h8v3h-8zM1036 233h8v3h-8zM1116 233h8v3h-8zM836 236h8v3h-8zM1044 236h8v3h-8zM1068 245h8v3h-8zM1108 245h8v3h-8zM1076 248h8v3h-8zM724 251h8v3h-8zM1092 251h8v3h-8zM724 254h8v3h-8zM1196 254h8v3h-8zM1196 257h8v3h-8zM724 260h8v3h-8zM1084 263h8v3h-8zM1108 263h8v3h-8zM1188 263h8v3h-8zM1132 266h8v3h-8zM1172 266h8v3h-8zM756 269h8v3h-8zM860 269h8v3h-8z"/><path fill="#6a6a6a" d="M916 92h8v3h-8zM876 95h8v3h-8zM740 98h8v3h-8zM820 98h8v3h-8zM708 113h8v3h-8zM708 116h8v3h-8zM1196 155h8v3h-8zM1076 158h8v3h-8zM1116 158h8v3h-8zM756 161h8v3h-8zM780 161h8v3h-8zM1148 161h24v3h-24zM876 167h8v3h-8zM1028 170h8v3h-8zM876 173h8v3h-8zM860 176h8v3h-8zM1044 176h8v3h-8zM748 179h8v3h-8zM796 179h8v3h-8zM1132 179h8v3h-8zM1172 179h8v3h-8zM1092 182h16v3h-16zM1116 206h8v3h-8zM748 209h8v3h-8zM788 209h8v3h-8zM1140 209h8v3h-8zM1172 209h8v3h-8zM860 212h8v3h-8zM1044 212h8v3h-8zM868 215h8v3h-8zM1036 215h8v3h-8zM876 218h8v3h-8zM764 221h16v3h-16zM1028 221h8v3h-8zM748 224h8v3h-8zM788 224h8v3h-8zM884 224h8v3h-8zM1028 224h8v3h-8zM1140 224h8v3h-8zM1172 224h8v3h-8zM740 227h8v3h-8zM796 227h8v3h-8zM876 227h16v3h-16zM1028 227h8v3h-8zM1180 227h8v3h-8zM868 230h24v3h-24zM1028 230h8v3h-8zM1124 230h8v3h-8zM732 233h8v3h-8zM860 233h16v3h-16zM1188 233h8v3h-8zM828 236h8v3h-8zM844 236h16v3h-16zM1036 236h8v3h-8zM1116 236h8v3h-8zM1052 239h8v3h-8zM1116 239h8v3h-8zM1060 242h8v3h-8zM1116 242h8v3h-8zM1108 248h8v3h-8zM1084 251h8v3h-8zM1100 251h8v3h-8zM1092 254h8v3h-8zM724 257h8v3h-8zM1092 260h16v3h-16zM1076 263h8v3h-8zM1116 263h8v3h-8zM740 266h8v3h-8zM1060 266h8v3h-8zM1140 266h8v3h-8zM1164 266h8v3h-8zM764 269h8v3h-8zM788 269h8v3h-8zM868 269h8v3h-8zM1036 269h8v3h-8zM900 272h8v3h-8zM996 275h8v3h-8z"/><path fill="#6c6c6c" d="M884 95h8v3h-8zM1028 95h8v3h-8zM804 98h16v3h-16zM828 98h8v3h-8zM1068 98h8v3h-8zM1124 98h8v3h-8zM1180 98h8v3h-8zM708 119h8v3h-8zM1220 131h8v3h-8zM1204 152h8v3h-8zM740 158h8v3h-8zM812 158h24v3h-24zM1068 158h8v3h-8zM764 161h16v3h-16zM1052 161h8v3h-8zM1028 167h8v3h-8zM884 170h8v3h-8zM1028 173h8v3h-8zM788 179h8v3h-8zM844 179h8v3h-8zM1060 179h8v3h-8zM1140 179h8v3h-8zM1164 179h8v3h-8zM732 182h8v3h-8zM1084 182h8v3h-8zM716 191h8v3h-8zM716 194h8v3h-8zM740 206h8v3h-8zM812 206h24v3h-24zM1068 206h8v3h-8zM756 209h8v3h-8zM780 209h8v3h-8zM852 209h8v3h-8zM1052 209h8v3h-8zM1148 209h24v3h-24zM876 215h8v3h-8zM884 218h8v3h-8zM1028 218h8v3h-8zM884 221h8v3h-8zM756 224h8v3h-8zM780 224h8v3h-8zM892 224h8v3h-8zM1148 224h24v3h-24zM892 227h8v3h-8zM1132 227h8v3h-8zM804 230h8v3h-8zM892 230h8v3h-8zM812 233h8v3h-8zM876 233h16v3h-16zM1028 233h8v3h-8zM1124 233h8v3h-8zM732 236h8v3h-8zM820 236h8v3h-8zM860 236h8v3h-8zM1188 236h8v3h-8zM732 239h8v3h-8zM828 239h24v3h-24zM1044 239h8v3h-8zM1188 239h8v3h-8zM1052 242h8v3h-8zM1188 242h8v3h-8zM1060 245h8v3h-8zM1116 245h8v3h-8zM1188 245h8v3h-8zM1068 248h8v3h-8zM1116 248h8v3h-8zM1188 248h8v3h-8zM1076 251h8v3h-8zM1108 251h8v3h-8zM1084 254h8v3h-8zM1100 254h8v3h-8zM1092 257h16v3h-16zM1084 260h8v3h-8zM1108 260h8v3h-8zM1188 260h8v3h-8zM732 263h8v3h-8zM828 266h16v3h-16zM1148 266h16v3h-16zM772 269h16v3h-16zM924 275h8v3h-8z"/><path fill="#6d6d6d" d="M796 98h8v3h-8zM836 98h8v3h-8zM708 122h8v3h-8zM1220 134h8v3h-8zM1220 137h8v3h-8zM804 158h8v3h-8zM1124 158h8v3h-8zM1180 158h8v3h-8zM852 161h8v3h-8zM868 164h8v3h-8zM1036 164h8v3h-8zM884 167h8v3h-8zM884 173h8v3h-8zM868 176h8v3h-8zM1036 176h8v3h-8zM756 179h16v3h-16zM780 179h8v3h-8zM1148 179h16v3h-16zM1108 182h8v3h-8zM1188 182h8v3h-8zM724 185h8v3h-8zM1204 188h8v3h-8zM1204 197h8v3h-8zM724 200h8v3h-8zM732 203h8v3h-8zM1084 203h24v3h-24zM804 206h8v3h-8zM836 206h8v3h-8zM1124 206h8v3h-8zM1180 206h8v3h-8zM764 209h16v3h-16zM868 212h8v3h-8zM1036 212h8v3h-8zM1028 215h8v3h-8zM892 221h8v3h-8zM764 224h16v3h-16zM1020 224h8v3h-8zM748 227h8v3h-8zM788 227h8v3h-8zM900 227h8v3h-8zM1020 227h8v3h-8zM1140 227h8v3h-8zM1172 227h8v3h-8zM740 230h8v3h-8zM796 230h8v3h-8zM900 230h8v3h-8zM1020 230h8v3h-8zM1132 230h8v3h-8zM1180 230h8v3h-8zM804 233h8v3h-8zM892 233h8v3h-8zM1020 233h8v3h-8zM812 236h8v3h-8zM868 236h24v3h-24zM1028 236h8v3h-8zM1124 236h8v3h-8zM820 239h8v3h-8zM852 239h16v3h-16zM1036 239h8v3h-8zM1124 239h8v3h-8zM732 242h8v3h-8zM828 242h24v3h-24zM1124 242h8v3h-8zM732 245h8v3h-8zM1116 251h8v3h-8zM1188 251h8v3h-8zM1076 254h8v3h-8zM1108 254h8v3h-8zM1188 254h8v3h-8zM1084 257h8v3h-8zM1108 257h8v3h-8zM1188 257h8v3h-8zM1076 260h8v3h-8zM1068 263h8v3h-8zM1124 263h8v3h-8zM1180 263h8v3h-8zM820 266h8v3h-8zM844 266h8v3h-8zM1052 266h8v3h-8zM876 269h8v3h-8zM1028 269h8v3h-8zM908 272h8v3h-8zM1012 272h8v3h-8z"/><path fill="#6e6e6e" d="M996 92h8v3h-8zM892 95h8v3h-8zM748 98h8v3h-8zM844 98h8v3h-8zM1060 98h8v3h-8zM1132 98h8v3h-8zM1172 98h8v3h-8zM724 101h8v3h-8zM716 104h8v3h-8zM1212 107h8v3h-8zM708 143h8v3h-8zM716 149h8v3h-8zM732 155h8v3h-8zM1084 155h24v3h-24zM748 158h8v3h-8zM796 158h8v3h-8zM836 158h8v3h-8zM1132 158h8v3h-8zM1172 158h8v3h-8zM892 170h8v3h-8zM1020 170h8v3h-8zM772 179h8v3h-8zM852 179h8v3h-8zM1052 179h8v3h-8zM1076 182h8v3h-8zM1116 182h8v3h-8zM1196 185h8v3h-8zM1108 203h8v3h-8zM1188 203h8v3h-8zM748 206h8v3h-8zM796 206h8v3h-8zM1060 206h8v3h-8zM1132 206h8v3h-8zM1172 206h8v3h-8zM884 215h8v3h-8zM892 218h8v3h-8zM1020 221h8v3h-8zM900 224h8v3h-8zM780 227h8v3h-8zM1148 227h24v3h-24zM1140 230h8v3h-8zM740 233h8v3h-8zM900 233h8v3h-8zM1132 233h8v3h-8zM1180 233h8v3h-8zM892 236h8v3h-8zM1180 236h8v3h-8zM812 239h8v3h-8zM868 239h8v3h-8zM820 242h8v3h-8zM852 242h8v3h-8zM1044 242h8v3h-8zM1180 242h8v3h-8zM1052 245h8v3h-8zM1124 245h8v3h-8zM1180 245h8v3h-8zM732 248h8v3h-8zM1060 248h8v3h-8zM1124 248h8v3h-8zM1068 251h8v3h-8zM1116 254h8v3h-8zM1076 257h8v3h-8zM1116 260h8v3h-8zM1132 263h8v3h-8zM812 266h8v3h-8zM852 266h8v3h-8zM884 269h8v3h-8zM988 275h8v3h-8z"/><path fill="#6f6f6f" d="M924 92h8v3h-8zM1020 95h8v3h-8zM756 98h8v3h-8zM780 98h16v3h-16zM1140 98h32v3h-32zM1196 101h8v3h-8zM1212 146h8v3h-8zM724 152h8v3h-8zM1108 155h8v3h-8zM1188 155h8v3h-8zM788 158h8v3h-8zM844 158h8v3h-8zM1060 158h8v3h-8zM1140 158h8v3h-8zM860 161h8v3h-8zM1044 161h8v3h-8zM876 164h8v3h-8zM1028 164h8v3h-8zM892 167h8v3h-8zM892 173h8v3h-8zM876 176h8v3h-8zM740 182h8v3h-8zM812 182h24v3h-24zM1204 191h8v3h-8zM1204 194h8v3h-8zM1196 200h8v3h-8zM1076 203h8v3h-8zM1116 203h8v3h-8zM788 206h8v3h-8zM844 206h8v3h-8zM1140 206h8v3h-8zM860 209h8v3h-8zM1044 209h8v3h-8zM876 212h8v3h-8zM892 215h8v3h-8zM1020 218h8v3h-8zM900 221h8v3h-8zM756 227h24v3h-24zM908 227h8v3h-8zM748 230h8v3h-8zM788 230h8v3h-8zM908 230h8v3h-8zM1012 230h8v3h-8zM1148 230h8v3h-8zM1172 230h8v3h-8zM796 233h8v3h-8zM804 236h8v3h-8zM900 236h8v3h-8zM1020 236h8v3h-8zM1132 236h8v3h-8zM876 239h16v3h-16zM1028 239h8v3h-8zM1132 239h8v3h-8zM1180 239h8v3h-8zM860 242h8v3h-8zM1036 242h8v3h-8zM1132 242h8v3h-8zM828 245h24v3h-24zM1044 245h8v3h-8zM1132 245h8v3h-8zM1180 248h8v3h-8zM732 251h8v3h-8zM1124 251h8v3h-8zM1180 251h8v3h-8zM1068 254h8v3h-8zM1116 257h8v3h-8zM732 260h8v3h-8zM1068 260h8v3h-8zM1180 260h8v3h-8zM1060 263h8v3h-8zM1140 263h8v3h-8zM1172 263h8v3h-8zM748 266h8v3h-8zM804 266h8v3h-8zM1044 266h8v3h-8z"/><path fill="#717171" d="M764 98h16v3h-16zM1212 110h8v3h-8zM708 125h8v3h-8zM1076 155h8v3h-8zM1116 155h8v3h-8zM756 158h8v3h-8zM780 158h8v3h-8zM1148 158h24v3h-24zM884 164h8v3h-8zM1020 167h8v3h-8zM900 170h8v3h-8zM1020 173h8v3h-8zM1028 176h8v3h-8zM860 179h8v3h-8zM804 182h8v3h-8zM836 182h8v3h-8zM1068 182h8v3h-8zM1124 182h8v3h-8zM1180 182h8v3h-8zM724 197h8v3h-8zM820 203h16v3h-16zM756 206h8v3h-8zM780 206h8v3h-8zM1148 206h24v3h-24zM884 212h8v3h-8zM1028 212h8v3h-8zM1020 215h8v3h-8zM900 218h8v3h-8zM908 224h8v3h-8zM1012 224h8v3h-8zM1012 227h8v3h-8zM780 230h8v3h-8zM1156 230h16v3h-16zM908 233h8v3h-8zM1012 233h8v3h-8zM1140 233h8v3h-8zM1172 233h8v3h-8zM740 236h8v3h-8zM1140 236h8v3h-8zM1172 236h8v3h-8zM740 239h8v3h-8zM804 239h8v3h-8zM892 239h8v3h-8zM1140 239h8v3h-8zM1172 239h8v3h-8zM812 242h8v3h-8zM868 242h8v3h-8zM1140 242h8v3h-8zM1172 242h8v3h-8zM820 245h8v3h-8zM852 245h8v3h-8zM1172 245h8v3h-8zM1052 248h8v3h-8zM1132 248h8v3h-8zM1060 251h8v3h-8zM732 254h8v3h-8zM1124 254h8v3h-8zM1180 254h8v3h-8zM732 257h8v3h-8zM1068 257h8v3h-8zM1124 257h8v3h-8zM1180 257h8v3h-8zM1124 260h8v3h-8zM740 263h8v3h-8zM1148 263h24v3h-24zM860 266h8v3h-8zM892 269h8v3h-8zM1004 272h8v3h-8zM932 275h8v3h-8zM980 275h8v3h-8z"/><path fill="#727272" d="M988 92h8v3h-8zM900 95h8v3h-8zM852 98h8v3h-8zM1052 98h8v3h-8zM1204 104h8v3h-8zM1212 113h8v3h-8zM1212 116h8v3h-8zM1196 152h8v3h-8zM820 155h8v3h-8zM764 158h16v3h-16zM1052 158h8v3h-8zM868 161h8v3h-8zM1036 161h8v3h-8zM884 176h8v3h-8zM1044 179h8v3h-8zM796 182h8v3h-8zM1132 182h8v3h-8zM732 185h8v3h-8zM1092 185h16v3h-16zM724 188h8v3h-8zM732 200h8v3h-8zM1092 200h16v3h-16zM740 203h8v3h-8zM804 203h16v3h-16zM1068 203h8v3h-8zM1124 203h8v3h-8zM1180 203h8v3h-8zM764 206h16v3h-16zM852 206h8v3h-8zM1052 206h8v3h-8zM868 209h8v3h-8zM1036 209h8v3h-8zM908 221h8v3h-8zM1012 221h8v3h-8zM756 230h8v3h-8zM772 230h8v3h-8zM748 233h8v3h-8zM788 233h8v3h-8zM1148 233h24v3h-24zM796 236h8v3h-8zM908 236h8v3h-8zM1148 236h8v3h-8zM1164 236h8v3h-8zM900 239h8v3h-8zM1020 239h8v3h-8zM1148 239h8v3h-8zM1164 239h8v3h-8zM740 242h8v3h-8zM876 242h16v3h-16zM1028 242h8v3h-8zM1148 242h8v3h-8zM1164 242h8v3h-8zM860 245h8v3h-8zM1036 245h8v3h-8zM1140 245h16v3h-16zM1164 245h8v3h-8zM828 248h24v3h-24zM1140 248h8v3h-8zM1172 248h8v3h-8zM1132 251h8v3h-8zM1172 251h8v3h-8zM1060 254h8v3h-8zM1060 260h8v3h-8zM1132 260h8v3h-8zM1172 260h8v3h-8zM828 263h16v3h-16zM1052 263h8v3h-8zM756 266h8v3h-8zM796 266h8v3h-8zM868 266h8v3h-8zM1036 266h8v3h-8zM1020 269h8v3h-8zM916 272h8v3h-8zM972 275h8v3h-8z"/><path fill="#737373" d="M732 101h8v3h-8zM1092 101h16v3h-16zM1212 119h8v3h-8zM708 128h8v3h-8zM1204 149h8v3h-8zM740 155h8v3h-8zM812 155h8v3h-8zM828 155h8v3h-8zM1068 155h8v3h-8zM1124 155h8v3h-8zM1180 155h8v3h-8zM852 158h8v3h-8zM900 167h8v3h-8zM1012 170h8v3h-8zM900 173h8v3h-8zM748 182h8v3h-8zM788 182h8v3h-8zM844 182h8v3h-8zM1060 182h8v3h-8zM1140 182h8v3h-8zM1172 182h8v3h-8zM1084 185h8v3h-8zM1108 185h8v3h-8zM1188 185h8v3h-8zM1196 188h8v3h-8zM724 194h8v3h-8zM1196 197h8v3h-8zM1084 200h8v3h-8zM1108 200h8v3h-8zM836 203h8v3h-8zM876 209h8v3h-8zM892 212h8v3h-8zM900 215h8v3h-8zM1012 218h8v3h-8zM916 227h8v3h-8zM764 230h8v3h-8zM916 230h8v3h-8zM780 233h8v3h-8zM748 236h8v3h-8zM1012 236h8v3h-8zM1156 236h8v3h-8zM796 239h8v3h-8zM1156 239h8v3h-8zM804 242h8v3h-8zM1156 242h8v3h-8zM740 245h8v3h-8zM812 245h8v3h-8zM868 245h8v3h-8zM1156 245h8v3h-8zM820 248h8v3h-8zM852 248h8v3h-8zM1044 248h8v3h-8zM1148 248h24v3h-24zM1052 251h8v3h-8zM1140 251h8v3h-8zM1132 254h8v3h-8zM1172 254h8v3h-8zM1060 257h8v3h-8zM1132 257h8v3h-8zM1172 257h8v3h-8zM1140 260h8v3h-8zM1164 260h8v3h-8zM820 263h8v3h-8zM844 263h8v3h-8zM788 266h8v3h-8zM900 269h8v3h-8zM940 275h32v3h-32z"/><path fill="#757575" d="M932 92h8v3h-8zM980 92h8v3h-8zM1012 95h8v3h-8zM860 98h8v3h-8zM1044 98h8v3h-8zM1084 101h8v3h-8zM1108 101h8v3h-8zM1188 101h8v3h-8zM716 107h8v3h-8zM1212 122h8v3h-8zM708 140h8v3h-8zM1092 152h8v3h-8zM804 155h8v3h-8zM836 155h8v3h-8zM876 161h8v3h-8zM892 164h8v3h-8zM1020 164h8v3h-8zM892 176h8v3h-8zM868 179h8v3h-8zM1036 179h8v3h-8zM756 182h8v3h-8zM780 182h8v3h-8zM1148 182h24v3h-24zM1076 185h8v3h-8zM724 191h8v3h-8zM1076 200h8v3h-8zM1188 200h8v3h-8zM748 203h8v3h-8zM796 203h8v3h-8zM844 203h8v3h-8zM1060 203h8v3h-8zM1132 203h8v3h-8zM1172 203h8v3h-8zM860 206h8v3h-8zM1044 206h8v3h-8zM1020 212h8v3h-8zM908 218h8v3h-8zM916 224h8v3h-8zM1004 227h8v3h-8zM1004 230h8v3h-8zM756 233h24v3h-24zM916 233h8v3h-8zM1004 233h8v3h-8zM788 236h8v3h-8zM748 239h8v3h-8zM892 242h8v3h-8zM1020 242h8v3h-8zM876 245h8v3h-8zM1028 245h8v3h-8zM740 248h8v3h-8zM860 248h8v3h-8zM828 251h24v3h-24zM1148 251h24v3h-24zM1052 254h8v3h-8zM1140 254h8v3h-8zM1164 254h8v3h-8zM1140 257h8v3h-8zM1164 257h8v3h-8zM1148 260h16v3h-16zM812 263h8v3h-8zM852 263h8v3h-8zM764 266h24v3h-24zM876 266h8v3h-8z"/><path fill="#767676" d="M1076 101h8v3h-8zM732 152h8v3h-8zM1084 152h8v3h-8zM1100 152h8v3h-8zM748 155h8v3h-8zM796 155h8v3h-8zM1060 155h8v3h-8zM1132 155h8v3h-8zM1172 155h8v3h-8zM860 158h8v3h-8zM1044 158h8v3h-8zM1028 161h8v3h-8zM1012 167h8v3h-8zM908 170h8v3h-8zM1012 173h8v3h-8zM1020 176h8v3h-8zM764 182h16v3h-16zM852 182h8v3h-8zM1116 185h8v3h-8zM1196 191h8v3h-8zM1196 194h8v3h-8zM1116 200h8v3h-8zM788 203h8v3h-8zM1140 203h8v3h-8zM1164 203h8v3h-8zM884 209h8v3h-8zM1028 209h8v3h-8zM1012 215h8v3h-8zM1004 224h8v3h-8zM756 236h8v3h-8zM780 236h8v3h-8zM916 236h8v3h-8zM788 239h8v3h-8zM908 239h8v3h-8zM1012 239h8v3h-8zM748 242h8v3h-8zM796 242h8v3h-8zM900 242h8v3h-8zM804 245h8v3h-8zM884 245h8v3h-8zM812 248h8v3h-8zM1036 248h8v3h-8zM740 251h8v3h-8zM820 251h8v3h-8zM852 251h8v3h-8zM1044 251h8v3h-8zM828 254h16v3h-16zM1148 254h16v3h-16zM1052 257h8v3h-8zM1148 257h16v3h-16zM740 260h8v3h-8zM828 260h24v3h-24zM1052 260h8v3h-8zM748 263h8v3h-8zM1044 263h8v3h-8zM1028 266h8v3h-8zM996 272h8v3h-8z"/><path fill="#777777" d="M940 92h8v3h-8zM964 92h16v3h-16zM908 95h8v3h-8zM868 98h8v3h-8zM1116 101h8v3h-8zM724 104h8v3h-8zM708 131h8v3h-8zM708 137h8v3h-8zM1212 143h8v3h-8zM716 146h8v3h-8zM724 149h8v3h-8zM1108 152h8v3h-8zM1188 152h8v3h-8zM788 155h8v3h-8zM844 155h8v3h-8zM1140 155h8v3h-8zM1164 155h8v3h-8zM884 161h8v3h-8zM908 167h8v3h-8zM908 173h8v3h-8zM876 179h8v3h-8zM1052 182h8v3h-8zM740 185h8v3h-8zM812 185h24v3h-24zM1068 185h8v3h-8zM1180 185h8v3h-8zM1092 188h16v3h-16zM732 197h8v3h-8zM1084 197h24v3h-24zM740 200h8v3h-8zM812 200h24v3h-24zM1068 200h8v3h-8zM756 203h32v3h-32zM1148 203h16v3h-16zM868 206h8v3h-8zM900 212h8v3h-8zM908 215h8v3h-8zM916 221h8v3h-8zM1004 221h8v3h-8zM764 236h16v3h-16zM1004 236h8v3h-8zM756 239h8v3h-8zM748 245h8v3h-8zM892 245h8v3h-8zM868 248h8v3h-8zM860 251h8v3h-8zM740 254h8v3h-8zM844 254h8v3h-8zM740 257h8v3h-8zM828 257h24v3h-24zM820 260h8v3h-8zM804 263h8v3h-8zM860 263h8v3h-8zM884 266h8v3h-8zM1012 269h8v3h-8zM924 272h8v3h-8z"/><path fill="#787878" d="M948 92h16v3h-16zM1036 98h8v3h-8zM740 101h8v3h-8zM812 101h24v3h-24zM1068 101h8v3h-8zM1180 101h8v3h-8zM1204 107h8v3h-8zM716 110h8v3h-8zM1212 125h8v3h-8zM708 134h8v3h-8zM1076 152h8v3h-8zM756 155h32v3h-32zM1148 155h16v3h-16zM1036 158h8v3h-8zM900 164h8v3h-8zM900 176h8v3h-8zM1028 179h8v3h-8zM804 185h8v3h-8zM836 185h8v3h-8zM1124 185h8v3h-8zM732 188h8v3h-8zM1084 188h8v3h-8zM1108 188h8v3h-8zM1108 197h8v3h-8zM1188 197h8v3h-8zM804 200h8v3h-8zM836 200h8v3h-8zM1124 200h8v3h-8zM1180 200h8v3h-8zM852 203h8v3h-8zM1052 203h8v3h-8zM1036 206h8v3h-8zM892 209h8v3h-8zM1004 218h8v3h-8zM924 227h8v3h-8zM996 227h8v3h-8zM924 230h8v3h-8zM996 230h8v3h-8zM924 233h8v3h-8zM996 233h8v3h-8zM764 239h24v3h-24zM756 242h8v3h-8zM788 242h8v3h-8zM796 245h8v3h-8zM1020 245h8v3h-8zM748 248h8v3h-8zM804 248h8v3h-8zM876 248h8v3h-8zM1028 248h8v3h-8zM812 251h8v3h-8zM1036 251h8v3h-8zM820 254h8v3h-8zM852 254h8v3h-8zM1044 254h8v3h-8zM820 257h8v3h-8zM852 260h8v3h-8zM1044 260h8v3h-8zM868 263h8v3h-8zM1036 263h8v3h-8zM908 269h8v3h-8z"/><path fill="#7a7a7a" d="M876 98h8v3h-8zM804 101h8v3h-8zM836 101h8v3h-8zM1124 101h8v3h-8zM1196 104h8v3h-8zM716 113h8v3h-8zM716 116h8v3h-8zM716 119h8v3h-8zM1196 149h8v3h-8zM1116 152h8v3h-8zM1052 155h8v3h-8zM868 158h8v3h-8zM1020 161h8v3h-8zM1012 164h8v3h-8zM1004 170h8v3h-8zM884 179h8v3h-8zM860 182h8v3h-8zM1044 182h8v3h-8zM796 185h8v3h-8zM1132 185h8v3h-8zM1076 188h8v3h-8zM1188 188h8v3h-8zM1092 191h16v3h-16zM732 194h8v3h-8zM1092 194h16v3h-16zM1076 197h8v3h-8zM796 200h8v3h-8zM1132 200h8v3h-8zM876 206h8v3h-8zM1020 209h8v3h-8zM1012 212h8v3h-8zM916 218h8v3h-8zM924 224h8v3h-8zM996 224h8v3h-8zM916 239h8v3h-8zM1004 239h8v3h-8zM764 242h8v3h-8zM780 242h8v3h-8zM908 242h8v3h-8zM1012 242h8v3h-8zM756 245h8v3h-8zM900 245h8v3h-8zM884 248h8v3h-8zM868 251h8v3h-8zM812 254h8v3h-8zM860 254h8v3h-8zM852 257h8v3h-8zM1044 257h8v3h-8zM812 260h8v3h-8zM860 260h8v3h-8zM756 263h8v3h-8zM796 263h8v3h-8zM892 266h8v3h-8zM1020 266h8v3h-8zM988 272h8v3h-8z"/><path fill="#7b7b7b" d="M1004 95h8v3h-8zM796 101h8v3h-8zM1132 101h8v3h-8zM1204 146h8v3h-8zM740 152h8v3h-8zM812 152h24v3h-24zM1068 152h8v3h-8zM1124 152h8v3h-8zM1180 152h8v3h-8zM852 155h8v3h-8zM892 161h8v3h-8zM1004 167h8v3h-8zM916 170h8v3h-8zM1004 173h8v3h-8zM1012 176h8v3h-8zM748 185h8v3h-8zM788 185h8v3h-8zM844 185h8v3h-8zM1060 185h8v3h-8zM1140 185h8v3h-8zM1172 185h8v3h-8zM1116 188h8v3h-8zM732 191h8v3h-8zM1084 191h8v3h-8zM1108 191h8v3h-8zM1084 194h8v3h-8zM1108 194h8v3h-8zM1116 197h8v3h-8zM748 200h8v3h-8zM788 200h8v3h-8zM844 200h8v3h-8zM1060 200h8v3h-8zM1172 200h8v3h-8zM860 203h8v3h-8zM1044 203h8v3h-8zM908 212h8v3h-8zM996 221h8v3h-8zM988 227h8v3h-8zM988 230h8v3h-8zM988 233h8v3h-8zM924 236h8v3h-8zM996 236h8v3h-8zM772 242h8v3h-8zM788 245h8v3h-8zM796 248h8v3h-8zM892 248h8v3h-8zM748 251h8v3h-8zM804 251h8v3h-8zM876 251h8v3h-8zM1036 254h8v3h-8zM812 257h8v3h-8zM860 257h8v3h-8zM748 260h8v3h-8zM804 260h8v3h-8zM788 263h8v3h-8zM876 263h8v3h-8z"/><path fill="#7c7c7c" d="M916 95h8v3h-8zM884 98h8v3h-8zM1028 98h8v3h-8zM748 101h8v3h-8zM788 101h8v3h-8zM844 101h8v3h-8zM1060 101h8v3h-8zM1140 101h8v3h-8zM1172 101h8v3h-8zM1204 110h8v3h-8zM716 122h8v3h-8zM1212 128h8v3h-8zM1212 140h8v3h-8zM804 152h8v3h-8zM836 152h8v3h-8zM1044 155h8v3h-8zM876 158h8v3h-8zM1028 158h8v3h-8zM908 164h8v3h-8zM916 173h8v3h-8zM908 176h8v3h-8zM892 179h8v3h-8zM868 182h8v3h-8zM756 185h8v3h-8zM780 185h8v3h-8zM1148 185h24v3h-24zM740 188h8v3h-8zM812 188h24v3h-24zM1188 191h8v3h-8zM1076 194h8v3h-8zM1188 194h8v3h-8zM740 197h8v3h-8zM812 197h24v3h-24zM1068 197h8v3h-8zM1180 197h8v3h-8zM756 200h8v3h-8zM1140 200h32v3h-32zM884 206h8v3h-8zM1028 206h8v3h-8zM900 209h8v3h-8zM916 215h8v3h-8zM1004 215h8v3h-8zM924 221h8v3h-8zM932 227h8v3h-8zM932 230h8v3h-8zM980 230h8v3h-8zM932 233h8v3h-8zM764 245h24v3h-24zM756 248h8v3h-8zM1020 248h8v3h-8zM1028 251h8v3h-8zM748 254h8v3h-8zM804 254h8v3h-8zM868 254h8v3h-8zM748 257h8v3h-8zM1036 257h8v3h-8zM868 260h8v3h-8zM1036 260h8v3h-8zM764 263h24v3h-24zM1028 263h8v3h-8zM900 266h8v3h-8zM1004 269h8v3h-8zM932 272h8v3h-8zM980 272h8v3h-8z"/><path fill="#7e7e7e" d="M756 101h8v3h-8zM780 101h8v3h-8zM1148 101h24v3h-24zM732 104h8v3h-8zM1092 104h16v3h-16zM1204 113h8v3h-8zM1204 116h8v3h-8zM1204 119h8v3h-8zM716 143h8v3h-8zM732 149h8v3h-8zM1092 149h16v3h-16zM748 152h8v3h-8zM796 152h8v3h-8zM1060 152h8v3h-8zM1132 152h8v3h-8zM1172 152h8v3h-8zM860 155h8v3h-8zM916 167h8v3h-8zM1020 179h8v3h-8zM1036 182h8v3h-8zM764 185h16v3h-16zM804 188h8v3h-8zM1068 188h8v3h-8zM1124 188h8v3h-8zM1180 188h8v3h-8zM1076 191h8v3h-8zM1116 191h8v3h-8zM1116 194h8v3h-8zM804 197h8v3h-8zM836 197h8v3h-8zM1124 197h8v3h-8zM764 200h24v3h-24zM996 218h8v3h-8zM988 224h8v3h-8zM972 227h16v3h-16zM940 230h8v3h-8zM964 230h16v3h-16zM972 233h16v3h-16zM988 236h8v3h-8zM916 242h8v3h-8zM1004 242h8v3h-8zM908 245h8v3h-8zM1012 245h8v3h-8zM788 248h8v3h-8zM756 251h8v3h-8zM796 251h8v3h-8zM884 251h8v3h-8zM876 254h8v3h-8zM804 257h8v3h-8zM868 257h8v3h-8zM756 260h8v3h-8zM884 263h8v3h-8zM916 269h8v3h-8z"/><path fill="#7f7f7f" d="M764 101h16v3h-16zM1084 104h8v3h-8zM1108 104h8v3h-8zM724 107h8v3h-8zM1212 131h8v3h-8zM1084 149h8v3h-8zM1108 149h8v3h-8zM788 152h8v3h-8zM1140 152h8v3h-8zM884 158h8v3h-8zM900 161h8v3h-8zM876 182h8v3h-8zM852 185h8v3h-8zM1052 185h8v3h-8zM836 188h8v3h-8zM740 191h8v3h-8zM820 191h8v3h-8zM740 194h8v3h-8zM812 194h24v3h-24zM796 197h8v3h-8zM1132 197h8v3h-8zM852 200h8v3h-8zM1052 200h8v3h-8zM868 203h8v3h-8zM1036 203h8v3h-8zM924 218h8v3h-8zM988 221h8v3h-8zM932 224h8v3h-8zM980 224h8v3h-8zM940 227h8v3h-8zM956 227h16v3h-16zM948 230h16v3h-16zM940 233h32v3h-32zM932 236h8v3h-8zM980 236h8v3h-8zM924 239h8v3h-8zM996 239h8v3h-8zM764 248h24v3h-24zM900 248h8v3h-8zM892 251h8v3h-8zM1028 254h8v3h-8zM876 257h8v3h-8zM796 260h8v3h-8zM876 260h8v3h-8zM940 272h8v3h-8zM972 272h8v3h-8z"/><path fill="#808080" d="M892 98h8v3h-8zM852 101h8v3h-8zM1052 101h8v3h-8zM1076 104h8v3h-8zM1188 104h8v3h-8zM1196 107h8v3h-8zM1204 122h8v3h-8zM716 125h8v3h-8zM1212 134h8v3h-8zM1212 137h8v3h-8zM724 146h8v3h-8zM1076 149h8v3h-8zM1188 149h8v3h-8zM756 152h8v3h-8zM780 152h8v3h-8zM844 152h8v3h-8zM1148 152h24v3h-24zM1036 155h8v3h-8zM1012 161h8v3h-8zM1004 164h8v3h-8zM996 170h8v3h-8zM900 179h8v3h-8zM748 188h8v3h-8zM796 188h8v3h-8zM1060 188h8v3h-8zM1132 188h8v3h-8zM1172 188h8v3h-8zM812 191h8v3h-8zM828 191h8v3h-8zM1068 191h8v3h-8zM1124 191h8v3h-8zM1180 191h8v3h-8zM804 194h8v3h-8zM1068 194h8v3h-8zM1124 194h8v3h-8zM1180 194h8v3h-8zM748 197h8v3h-8zM788 197h8v3h-8zM844 197h8v3h-8zM1060 197h8v3h-8zM1172 197h8v3h-8zM892 206h8v3h-8zM1020 206h8v3h-8zM1012 209h8v3h-8zM1004 212h8v3h-8zM972 224h8v3h-8zM948 227h8v3h-8zM972 236h8v3h-8zM764 251h8v3h-8zM788 251h8v3h-8zM1020 251h8v3h-8zM756 254h8v3h-8zM796 254h8v3h-8zM884 254h8v3h-8zM756 257h8v3h-8zM796 257h8v3h-8zM1028 257h8v3h-8zM764 260h8v3h-8zM788 260h8v3h-8zM884 260h8v3h-8zM1028 260h8v3h-8zM892 263h8v3h-8zM1020 263h8v3h-8zM1012 266h8v3h-8zM948 272h24v3h-24z"/><path fill="#818181" d="M996 95h8v3h-8zM1020 98h8v3h-8zM1116 104h8v3h-8zM724 110h8v3h-8zM1116 149h8v3h-8zM764 152h16v3h-16zM1052 152h8v3h-8zM868 155h8v3h-8zM1020 158h8v3h-8zM996 167h8v3h-8zM924 170h8v3h-8zM996 173h8v3h-8zM1004 176h8v3h-8zM1028 182h8v3h-8zM860 185h8v3h-8zM788 188h8v3h-8zM844 188h8v3h-8zM1140 188h8v3h-8zM1164 188h8v3h-8zM804 191h8v3h-8zM836 191h8v3h-8zM836 194h8v3h-8zM756 197h8v3h-8zM1140 197h32v3h-32zM860 200h8v3h-8zM876 203h8v3h-8zM908 209h8v3h-8zM916 212h8v3h-8zM996 215h8v3h-8zM988 218h8v3h-8zM932 221h8v3h-8zM980 221h8v3h-8zM940 224h32v3h-32zM940 236h32v3h-32zM988 239h8v3h-8zM1012 248h8v3h-8zM772 251h16v3h-16zM788 254h8v3h-8zM884 257h8v3h-8zM772 260h16v3h-16zM908 266h8v3h-8zM996 269h8v3h-8z"/><path fill="#838383" d="M924 95h8v3h-8zM1044 101h8v3h-8zM740 104h8v3h-8zM820 104h8v3h-8zM724 113h8v3h-8zM724 116h8v3h-8zM1204 143h8v3h-8zM1196 146h8v3h-8zM740 149h8v3h-8zM820 149h8v3h-8zM852 152h8v3h-8zM892 158h8v3h-8zM916 164h8v3h-8zM924 173h8v3h-8zM916 176h8v3h-8zM1012 179h8v3h-8zM884 182h8v3h-8zM1044 185h8v3h-8zM756 188h8v3h-8zM780 188h8v3h-8zM1148 188h16v3h-16zM748 191h8v3h-8zM796 191h8v3h-8zM1132 191h8v3h-8zM1172 191h8v3h-8zM748 194h8v3h-8zM796 194h8v3h-8zM1060 194h8v3h-8zM1132 194h8v3h-8zM1172 194h8v3h-8zM764 197h24v3h-24zM1044 200h8v3h-8zM1028 203h8v3h-8zM900 206h8v3h-8zM924 215h8v3h-8zM972 221h8v3h-8zM932 239h8v3h-8zM996 242h8v3h-8zM916 245h8v3h-8zM1004 245h8v3h-8zM908 248h8v3h-8zM900 251h8v3h-8zM764 254h8v3h-8zM780 254h8v3h-8zM892 254h8v3h-8zM764 257h8v3h-8zM788 257h8v3h-8zM924 269h8v3h-8z"/><path fill="#848484" d="M900 98h8v3h-8zM860 101h8v3h-8zM812 104h8v3h-8zM828 104h8v3h-8zM1068 104h8v3h-8zM1124 104h8v3h-8zM1180 104h8v3h-8zM1092 107h8v3h-8zM1196 110h8v3h-8zM724 119h8v3h-8zM1204 125h8v3h-8zM716 128h8v3h-8zM716 140h8v3h-8zM812 149h8v3h-8zM828 149h8v3h-8zM1068 149h8v3h-8zM1124 149h8v3h-8zM1180 149h8v3h-8zM876 155h8v3h-8zM1028 155h8v3h-8zM908 161h8v3h-8zM924 167h8v3h-8zM988 170h8v3h-8zM764 188h16v3h-16zM852 188h8v3h-8zM1052 188h8v3h-8zM788 191h8v3h-8zM844 191h8v3h-8zM1060 191h8v3h-8zM1140 191h8v3h-8zM788 194h8v3h-8zM844 194h8v3h-8zM1140 194h8v3h-8zM1164 194h8v3h-8zM852 197h8v3h-8zM1052 197h8v3h-8zM884 203h8v3h-8zM932 218h8v3h-8zM980 218h8v3h-8zM940 221h32v3h-32zM972 239h16v3h-16zM924 242h8v3h-8zM772 254h8v3h-8zM1020 254h8v3h-8zM772 257h16v3h-16zM892 257h8v3h-8zM892 260h8v3h-8zM1020 260h8v3h-8zM900 263h8v3h-8z"/><path fill="#858585" d="M988 95h8v3h-8zM804 104h8v3h-8zM836 104h8v3h-8zM732 107h8v3h-8zM1084 107h8v3h-8zM1100 107h8v3h-8zM1196 113h8v3h-8zM1196 116h8v3h-8zM724 122h8v3h-8zM804 149h8v3h-8zM836 149h8v3h-8zM1044 152h8v3h-8zM908 179h8v3h-8zM892 182h8v3h-8zM868 185h8v3h-8zM1036 185h8v3h-8zM756 191h8v3h-8zM780 191h8v3h-8zM1148 191h24v3h-24zM756 194h8v3h-8zM780 194h8v3h-8zM1148 194h16v3h-16zM868 200h8v3h-8zM1036 200h8v3h-8zM996 212h8v3h-8zM988 215h8v3h-8zM972 218h8v3h-8zM940 239h8v3h-8zM956 239h16v3h-16zM1020 257h8v3h-8z"/><path fill="#878787" d="M1012 98h8v3h-8zM868 101h8v3h-8zM1036 101h8v3h-8zM748 104h8v3h-8zM796 104h8v3h-8zM1132 104h8v3h-8zM1172 104h8v3h-8zM1108 107h8v3h-8zM1188 107h8v3h-8zM1196 119h8v3h-8zM716 131h8v3h-8zM732 146h8v3h-8zM1092 146h16v3h-16zM748 149h8v3h-8zM796 149h8v3h-8zM1060 149h8v3h-8zM1132 149h8v3h-8zM1172 149h8v3h-8zM860 152h8v3h-8zM900 158h8v3h-8zM1004 161h8v3h-8zM996 164h8v3h-8zM988 167h8v3h-8zM932 170h8v3h-8zM988 173h8v3h-8zM1020 182h8v3h-8zM764 191h16v3h-16zM764 194h16v3h-16zM852 194h8v3h-8zM1052 194h8v3h-8zM892 203h8v3h-8zM1012 206h8v3h-8zM916 209h8v3h-8zM1004 209h8v3h-8zM940 218h8v3h-8zM964 218h8v3h-8zM948 239h8v3h-8zM988 242h8v3h-8zM908 251h8v3h-8zM1012 251h8v3h-8zM900 254h8v3h-8zM900 260h8v3h-8zM1012 263h8v3h-8zM916 266h8v3h-8zM1004 266h8v3h-8zM988 269h8v3h-8z"/><path fill="#888888" d="M932 95h8v3h-8zM788 104h8v3h-8zM844 104h8v3h-8zM1060 104h8v3h-8zM1140 104h8v3h-8zM1076 107h8v3h-8zM1092 110h16v3h-16zM1204 128h8v3h-8zM716 137h8v3h-8zM724 143h8v3h-8zM1084 146h8v3h-8zM1108 146h8v3h-8zM788 149h8v3h-8zM1140 149h8v3h-8zM1036 152h8v3h-8zM884 155h8v3h-8zM1012 158h8v3h-8zM980 170h8v3h-8zM996 176h8v3h-8zM876 185h8v3h-8zM860 188h8v3h-8zM1044 188h8v3h-8zM852 191h8v3h-8zM1052 191h8v3h-8zM860 197h8v3h-8zM1044 197h8v3h-8zM876 200h8v3h-8zM1020 203h8v3h-8zM908 206h8v3h-8zM924 212h8v3h-8zM932 215h8v3h-8zM980 215h8v3h-8zM948 218h16v3h-16zM932 242h8v3h-8zM996 245h8v3h-8zM916 248h8v3h-8zM1004 248h8v3h-8zM900 257h8v3h-8zM908 263h8v3h-8z"/><path fill="#898989" d="M980 95h8v3h-8zM908 98h8v3h-8zM756 104h8v3h-8zM780 104h8v3h-8zM1148 104h24v3h-24zM1116 107h8v3h-8zM732 110h8v3h-8zM1084 110h8v3h-8zM1092 113h16v3h-16zM1092 116h16v3h-16zM1196 122h8v3h-8zM724 125h8v3h-8zM716 134h8v3h-8zM1204 140h8v3h-8zM1076 146h8v3h-8zM1188 146h8v3h-8zM756 149h8v3h-8zM780 149h8v3h-8zM844 149h8v3h-8zM1148 149h24v3h-24zM1020 155h8v3h-8zM916 161h8v3h-8zM924 164h8v3h-8zM932 167h8v3h-8zM980 167h8v3h-8zM972 170h8v3h-8zM932 173h8v3h-8zM980 173h8v3h-8zM924 176h8v3h-8zM900 182h8v3h-8zM980 242h8v3h-8zM924 245h8v3h-8zM1012 254h8v3h-8zM932 269h8v3h-8zM980 269h8v3h-8z"/><path fill="#8a8a8a" d="M972 95h8v3h-8zM876 101h8v3h-8zM764 104h16v3h-16zM740 107h8v3h-8zM812 107h24v3h-24zM1108 110h8v3h-8zM1188 110h8v3h-8zM732 113h8v3h-8zM1084 113h8v3h-8zM732 116h8v3h-8zM1084 116h8v3h-8zM732 119h8v3h-8zM1092 119h16v3h-16zM1196 143h8v3h-8zM1116 146h8v3h-8zM764 149h16v3h-16zM1052 149h8v3h-8zM868 152h8v3h-8zM940 170h8v3h-8zM964 170h8v3h-8zM1004 179h8v3h-8zM884 185h8v3h-8zM1028 185h8v3h-8zM860 191h8v3h-8zM860 194h8v3h-8zM1044 194h8v3h-8zM868 197h8v3h-8zM884 200h8v3h-8zM1028 200h8v3h-8zM900 203h8v3h-8zM988 212h8v3h-8zM940 215h8v3h-8zM964 215h16v3h-16zM940 242h8v3h-8zM964 242h16v3h-16zM908 254h8v3h-8zM1012 260h8v3h-8zM972 269h8v3h-8z"/><path fill="#8c8c8c" d="M940 95h8v3h-8zM964 95h8v3h-8zM1028 101h8v3h-8zM852 104h8v3h-8zM1052 104h8v3h-8zM804 107h8v3h-8zM1068 107h8v3h-8zM1124 107h8v3h-8zM1180 107h8v3h-8zM1076 110h8v3h-8zM1108 113h8v3h-8zM1188 113h8v3h-8zM1108 116h8v3h-8zM1188 116h8v3h-8zM1084 119h8v3h-8zM1108 119h8v3h-8zM1204 131h8v3h-8zM892 155h8v3h-8zM908 158h8v3h-8zM988 164h8v3h-8zM972 167h8v3h-8zM948 170h16v3h-16zM972 173h8v3h-8zM988 176h8v3h-8zM916 179h8v3h-8zM868 188h8v3h-8zM1036 188h8v3h-8zM1044 191h8v3h-8zM1036 197h8v3h-8zM996 209h8v3h-8zM948 215h16v3h-16zM948 242h16v3h-16zM988 245h8v3h-8zM1004 251h8v3h-8zM1012 257h8v3h-8zM908 260h8v3h-8zM996 266h8v3h-8zM940 269h8v3h-8zM964 269h8v3h-8z"/><path fill="#8d8d8d" d="M948 95h16v3h-16zM884 101h8v3h-8zM836 107h8v3h-8zM1116 110h8v3h-8zM1076 113h8v3h-8zM1076 116h8v3h-8zM1076 119h8v3h-8zM1188 119h8v3h-8zM732 122h8v3h-8zM1084 122h24v3h-24zM1196 125h8v3h-8zM1204 134h8v3h-8zM1204 137h8v3h-8zM740 146h8v3h-8zM812 146h24v3h-24zM1068 146h8v3h-8zM1124 146h8v3h-8zM1180 146h8v3h-8zM852 149h8v3h-8zM1028 152h8v3h-8zM996 161h8v3h-8zM940 167h8v3h-8zM964 167h8v3h-8zM940 173h8v3h-8zM956 173h16v3h-16zM1012 182h8v3h-8zM932 212h8v3h-8zM980 212h8v3h-8zM996 248h8v3h-8zM916 251h8v3h-8zM908 257h8v3h-8zM1004 263h8v3h-8zM924 266h8v3h-8zM948 269h16v3h-16z"/><path fill="#8e8e8e" d="M1004 98h8v3h-8zM748 107h8v3h-8zM796 107h8v3h-8zM1060 107h8v3h-8zM1132 107h8v3h-8zM1172 107h8v3h-8zM740 110h8v3h-8zM812 110h24v3h-24zM1068 110h8v3h-8zM1116 113h8v3h-8zM1116 116h8v3h-8zM1116 119h8v3h-8zM1108 122h8v3h-8zM724 128h8v3h-8zM724 140h8v3h-8zM1092 143h8v3h-8zM804 146h8v3h-8zM1044 149h8v3h-8zM876 152h8v3h-8zM1004 158h8v3h-8zM980 164h8v3h-8zM948 167h16v3h-16zM948 173h8v3h-8zM908 182h8v3h-8zM892 185h8v3h-8zM876 188h8v3h-8zM868 191h8v3h-8zM868 194h8v3h-8zM1036 194h8v3h-8zM876 197h8v3h-8zM892 200h8v3h-8zM1012 203h8v3h-8zM916 206h8v3h-8zM1004 206h8v3h-8zM924 209h8v3h-8zM932 245h8v3h-8zM980 245h8v3h-8zM924 248h8v3h-8zM916 263h8v3h-8z"/><path fill="#909090" d="M916 98h8v3h-8zM860 104h8v3h-8zM1044 104h8v3h-8zM788 107h8v3h-8zM844 107h8v3h-8zM1140 107h8v3h-8zM804 110h8v3h-8zM1124 110h8v3h-8zM1180 110h8v3h-8zM740 113h8v3h-8zM812 113h24v3h-24zM1068 113h8v3h-8zM740 116h8v3h-8zM812 116h16v3h-16zM1068 116h8v3h-8zM1076 122h8v3h-8zM1188 122h8v3h-8zM732 143h8v3h-8zM1084 143h8v3h-8zM1100 143h8v3h-8zM796 146h8v3h-8zM836 146h8v3h-8zM1132 146h8v3h-8zM900 155h8v3h-8zM1012 155h8v3h-8zM932 164h8v3h-8zM932 176h8v3h-8zM980 176h8v3h-8zM1020 185h8v3h-8zM1036 191h8v3h-8zM1028 197h8v3h-8zM1020 200h8v3h-8zM972 212h8v3h-8zM972 245h8v3h-8zM1004 254h8v3h-8z"/><path fill="#919191" d="M892 101h8v3h-8zM1020 101h8v3h-8zM756 107h8v3h-8zM780 107h8v3h-8zM1148 107h24v3h-24zM836 110h8v3h-8zM804 113h8v3h-8zM1124 113h8v3h-8zM1180 113h8v3h-8zM804 116h8v3h-8zM828 116h8v3h-8zM1124 116h8v3h-8zM1180 116h8v3h-8zM740 119h8v3h-8zM812 119h24v3h-24zM1068 119h8v3h-8zM1180 119h8v3h-8zM1116 122h8v3h-8zM732 125h8v3h-8zM1092 125h16v3h-16zM1196 128h8v3h-8zM1196 140h8v3h-8zM1108 143h8v3h-8zM1188 143h8v3h-8zM748 146h8v3h-8zM1060 146h8v3h-8zM1172 146h8v3h-8zM860 149h8v3h-8zM924 161h8v3h-8zM972 164h8v3h-8zM996 179h8v3h-8zM884 188h8v3h-8zM1028 188h8v3h-8zM876 191h8v3h-8zM876 194h8v3h-8zM884 197h8v3h-8zM908 203h8v3h-8zM988 209h8v3h-8zM940 212h8v3h-8zM956 212h16v3h-16zM940 245h8v3h-8zM964 245h8v3h-8zM916 254h8v3h-8zM1004 260h8v3h-8zM988 266h8v3h-8z"/><path fill="#929292" d="M764 107h16v3h-16zM748 110h8v3h-8zM796 110h8v3h-8zM1060 110h8v3h-8zM1132 110h8v3h-8zM1172 110h8v3h-8zM836 113h8v3h-8zM836 116h8v3h-8zM804 119h8v3h-8zM1124 119h8v3h-8zM1084 125h8v3h-8zM1108 125h8v3h-8zM724 131h8v3h-8zM724 137h8v3h-8zM1076 143h8v3h-8zM788 146h8v3h-8zM844 146h8v3h-8zM1140 146h8v3h-8zM1164 146h8v3h-8zM1036 149h8v3h-8zM884 152h8v3h-8zM1020 152h8v3h-8zM916 158h8v3h-8zM988 161h8v3h-8zM940 164h8v3h-8zM964 164h8v3h-8zM940 176h8v3h-8zM972 176h8v3h-8zM924 179h8v3h-8zM900 185h8v3h-8zM900 200h8v3h-8zM948 212h8v3h-8zM948 245h16v3h-16zM988 248h8v3h-8zM996 251h8v3h-8zM1004 257h8v3h-8zM916 260h8v3h-8z"/><path fill="#939393" d="M868 104h8v3h-8zM1036 104h8v3h-8zM852 107h8v3h-8zM1052 107h8v3h-8zM788 110h8v3h-8zM844 110h8v3h-8zM1140 110h8v3h-8zM748 113h8v3h-8zM796 113h8v3h-8zM1060 113h8v3h-8zM1132 113h8v3h-8zM1172 113h8v3h-8zM748 116h8v3h-8zM796 116h8v3h-8zM1060 116h8v3h-8zM1132 116h8v3h-8zM1172 116h8v3h-8zM796 119h8v3h-8zM836 119h8v3h-8zM740 122h8v3h-8zM812 122h24v3h-24zM1068 122h8v3h-8zM1180 122h8v3h-8zM1076 125h8v3h-8zM1188 125h8v3h-8zM724 134h8v3h-8zM1116 143h8v3h-8zM756 146h8v3h-8zM780 146h8v3h-8zM1148 146h16v3h-16zM948 164h16v3h-16zM948 176h24v3h-24zM1028 191h8v3h-8zM1028 194h8v3h-8zM932 209h8v3h-8zM924 251h8v3h-8zM916 257h8v3h-8zM996 263h8v3h-8zM932 266h8v3h-8zM980 266h8v3h-8z"/><path fill="#959595" d="M996 98h8v3h-8zM900 101h8v3h-8zM756 110h8v3h-8zM780 110h8v3h-8zM1148 110h24v3h-24zM788 113h8v3h-8zM844 113h8v3h-8zM1140 113h8v3h-8zM788 116h8v3h-8zM1140 116h8v3h-8zM748 119h8v3h-8zM1060 119h8v3h-8zM1132 119h8v3h-8zM1172 119h8v3h-8zM804 122h8v3h-8zM1124 122h8v3h-8zM1116 125h8v3h-8zM1092 128h8v3h-8zM1196 131h8v3h-8zM740 143h8v3h-8zM820 143h8v3h-8zM764 146h16v3h-16zM1052 146h8v3h-8zM868 149h8v3h-8zM996 158h8v3h-8zM1004 182h8v3h-8zM892 188h8v3h-8zM884 191h8v3h-8zM884 194h8v3h-8zM892 197h8v3h-8zM996 206h8v3h-8zM980 209h8v3h-8zM932 248h8v3h-8zM980 248h8v3h-8zM924 263h8v3h-8z"/><path fill="#969696" d="M876 104h8v3h-8zM764 110h16v3h-16zM756 113h8v3h-8zM780 113h8v3h-8zM1148 113h24v3h-24zM756 116h8v3h-8zM844 116h8v3h-8zM1148 116h24v3h-24zM788 119h8v3h-8zM1140 119h8v3h-8zM1164 119h8v3h-8zM796 122h8v3h-8zM836 122h8v3h-8zM1132 122h8v3h-8zM732 128h8v3h-8zM1084 128h8v3h-8zM1100 128h8v3h-8zM1196 134h8v3h-8zM1196 137h8v3h-8zM732 140h8v3h-8zM1084 140h24v3h-24zM812 143h8v3h-8zM828 143h8v3h-8zM1068 143h8v3h-8zM1124 143h8v3h-8zM1180 143h8v3h-8zM1028 149h8v3h-8zM892 152h8v3h-8zM908 155h8v3h-8zM980 161h8v3h-8zM988 179h8v3h-8zM916 182h8v3h-8zM1012 185h8v3h-8zM1020 188h8v3h-8zM1020 197h8v3h-8zM1012 200h8v3h-8zM1004 203h8v3h-8zM924 206h8v3h-8zM972 209h8v3h-8zM972 248h8v3h-8zM996 254h8v3h-8zM972 266h8v3h-8z"/><path fill="#979797" d="M924 98h8v3h-8zM1012 101h8v3h-8zM1028 104h8v3h-8zM860 107h8v3h-8zM1044 107h8v3h-8zM852 110h8v3h-8zM1052 110h8v3h-8zM764 113h16v3h-16zM1052 113h8v3h-8zM764 116h24v3h-24zM1052 116h8v3h-8zM756 119h8v3h-8zM780 119h8v3h-8zM844 119h8v3h-8zM1148 119h16v3h-16zM748 122h8v3h-8zM1060 122h8v3h-8zM1172 122h8v3h-8zM740 125h8v3h-8zM812 125h16v3h-16zM1068 125h8v3h-8zM1108 128h8v3h-8zM1188 128h8v3h-8zM1108 140h8v3h-8zM804 143h8v3h-8zM852 146h8v3h-8zM1004 155h8v3h-8zM932 161h8v3h-8zM916 203h8v3h-8zM940 209h8v3h-8zM964 209h8v3h-8zM940 248h8v3h-8zM964 248h8v3h-8zM988 251h8v3h-8zM996 260h8v3h-8zM940 266h8v3h-8zM964 266h8v3h-8z"/><path fill="#989898" d="M764 119h16v3h-16zM1052 119h8v3h-8zM788 122h8v3h-8zM1140 122h8v3h-8zM1164 122h8v3h-8zM804 125h8v3h-8zM828 125h8v3h-8zM1124 125h8v3h-8zM1180 125h8v3h-8zM1076 128h8v3h-8zM1092 131h8v3h-8zM1076 140h8v3h-8zM1188 140h8v3h-8zM796 143h8v3h-8zM836 143h8v3h-8zM1060 143h8v3h-8zM1132 143h8v3h-8zM1044 146h8v3h-8zM876 149h8v3h-8zM1012 152h8v3h-8zM972 161h8v3h-8zM932 179h8v3h-8zM908 185h8v3h-8zM892 191h8v3h-8zM892 194h8v3h-8zM900 197h8v3h-8zM908 200h8v3h-8zM948 209h16v3h-16zM948 248h16v3h-16zM924 254h8v3h-8zM996 257h8v3h-8zM988 263h8v3h-8zM948 266h16v3h-16z"/><path fill="#9a9a9a" d="M988 98h8v3h-8zM884 104h8v3h-8zM852 113h8v3h-8zM852 116h8v3h-8zM756 122h8v3h-8zM780 122h8v3h-8zM844 122h8v3h-8zM1148 122h16v3h-16zM836 125h8v3h-8zM1116 128h8v3h-8zM732 131h8v3h-8zM1084 131h8v3h-8zM1100 131h8v3h-8zM1092 137h16v3h-16zM1116 140h8v3h-8zM748 143h8v3h-8zM1172 143h8v3h-8zM924 158h8v3h-8zM964 161h8v3h-8zM980 179h8v3h-8zM900 188h8v3h-8zM1020 191h8v3h-8zM1020 194h8v3h-8zM988 206h8v3h-8zM932 251h8v3h-8zM980 251h8v3h-8zM924 257h8v3h-8zM924 260h8v3h-8z"/><path fill="#9b9b9b" d="M908 101h8v3h-8zM868 107h8v3h-8zM1036 107h8v3h-8zM1044 110h8v3h-8zM852 119h8v3h-8zM764 122h16v3h-16zM1052 122h8v3h-8zM748 125h8v3h-8zM796 125h8v3h-8zM1060 125h8v3h-8zM1132 125h8v3h-8zM1172 125h8v3h-8zM1108 131h8v3h-8zM1188 131h8v3h-8zM732 134h8v3h-8zM1092 134h16v3h-16zM732 137h8v3h-8zM1084 137h8v3h-8zM788 143h8v3h-8zM1140 143h8v3h-8zM1164 143h8v3h-8zM860 146h8v3h-8zM1036 146h8v3h-8zM900 152h8v3h-8zM988 158h8v3h-8zM940 161h8v3h-8zM956 161h8v3h-8zM972 179h8v3h-8zM996 182h8v3h-8zM988 254h8v3h-8zM932 263h8v3h-8z"/><path fill="#9c9c9c" d="M860 110h8v3h-8zM1044 113h8v3h-8zM1044 116h8v3h-8zM1044 119h8v3h-8zM788 125h8v3h-8zM1140 125h8v3h-8zM740 128h8v3h-8zM812 128h16v3h-16zM1068 128h8v3h-8zM1180 128h8v3h-8zM1076 131h8v3h-8zM1084 134h8v3h-8zM1108 137h8v3h-8zM1188 137h8v3h-8zM740 140h8v3h-8zM812 140h16v3h-16zM1068 140h8v3h-8zM756 143h8v3h-8zM780 143h8v3h-8zM844 143h8v3h-8zM1148 143h16v3h-16zM884 149h8v3h-8zM1020 149h8v3h-8zM916 155h8v3h-8zM948 161h8v3h-8zM940 179h8v3h-8zM964 179h8v3h-8zM900 191h8v3h-8zM900 194h8v3h-8zM1012 197h8v3h-8zM932 206h8v3h-8zM972 251h8v3h-8zM988 260h8v3h-8zM980 263h8v3h-8z"/><path fill="#9e9e9e" d="M932 98h8v3h-8zM980 98h8v3h-8zM892 104h8v3h-8zM1020 104h8v3h-8zM860 113h8v3h-8zM852 122h8v3h-8zM756 125h8v3h-8zM844 125h8v3h-8zM1148 125h24v3h-24zM804 128h8v3h-8zM828 128h8v3h-8zM1124 128h8v3h-8zM1116 131h8v3h-8zM1108 134h8v3h-8zM1188 134h8v3h-8zM1076 137h8v3h-8zM804 140h8v3h-8zM828 140h8v3h-8zM1124 140h8v3h-8zM1180 140h8v3h-8zM764 143h16v3h-16zM1052 143h8v3h-8zM996 155h8v3h-8zM948 179h16v3h-16zM924 182h8v3h-8zM1004 185h8v3h-8zM1012 188h8v3h-8zM1004 200h8v3h-8zM996 203h8v3h-8zM980 206h8v3h-8zM940 251h8v3h-8zM964 251h8v3h-8zM932 254h8v3h-8zM988 257h8v3h-8zM972 263h8v3h-8z"/><path fill="#9f9f9f" d="M876 107h8v3h-8zM1036 110h8v3h-8zM860 116h8v3h-8zM1044 122h8v3h-8zM764 125h24v3h-24zM1052 125h8v3h-8zM836 128h8v3h-8zM1076 134h8v3h-8zM1116 137h8v3h-8zM980 158h8v3h-8zM916 185h8v3h-8zM908 188h8v3h-8zM908 197h8v3h-8zM916 200h8v3h-8zM924 203h8v3h-8zM972 206h8v3h-8zM948 251h16v3h-16zM980 254h8v3h-8zM940 263h8v3h-8zM964 263h8v3h-8z"/><path fill="#a0a0a0" d="M972 98h8v3h-8zM1004 101h8v3h-8zM1028 107h8v3h-8zM868 110h8v3h-8zM1036 113h8v3h-8zM1036 116h8v3h-8zM860 119h8v3h-8zM1036 119h8v3h-8zM748 128h8v3h-8zM796 128h8v3h-8zM1060 128h8v3h-8zM1132 128h8v3h-8zM1172 128h8v3h-8zM740 131h8v3h-8zM812 131h16v3h-16zM1068 131h8v3h-8zM1116 134h8v3h-8zM740 137h8v3h-8zM1068 137h8v3h-8zM748 140h8v3h-8zM796 140h8v3h-8zM836 140h8v3h-8zM1060 140h8v3h-8zM1132 140h8v3h-8zM1172 140h8v3h-8zM852 143h8v3h-8zM868 146h8v3h-8zM1028 146h8v3h-8zM1004 152h8v3h-8zM932 158h8v3h-8zM1012 194h8v3h-8zM940 206h8v3h-8zM964 206h8v3h-8zM932 257h8v3h-8zM932 260h8v3h-8zM980 260h8v3h-8zM948 263h16v3h-16z"/><path fill="#a1a1a1" d="M940 98h8v3h-8zM964 98h8v3h-8zM916 101h8v3h-8zM868 113h8v3h-8zM788 128h8v3h-8zM1140 128h8v3h-8zM804 131h8v3h-8zM828 131h8v3h-8zM1124 131h8v3h-8zM1180 131h8v3h-8zM740 134h8v3h-8zM820 134h8v3h-8zM1068 134h8v3h-8zM812 137h24v3h-24zM1124 137h8v3h-8zM1180 137h8v3h-8zM788 140h8v3h-8zM1044 143h8v3h-8zM892 149h8v3h-8zM908 152h8v3h-8zM972 158h8v3h-8zM988 182h8v3h-8zM1012 191h8v3h-8zM948 206h16v3h-16zM940 254h8v3h-8zM972 254h8v3h-8zM980 257h8v3h-8z"/><path fill="#a3a3a3" d="M948 98h16v3h-16zM900 104h8v3h-8zM884 107h8v3h-8zM868 116h8v3h-8zM860 122h8v3h-8zM1036 122h8v3h-8zM852 125h8v3h-8zM1044 125h8v3h-8zM756 128h8v3h-8zM844 128h8v3h-8zM1148 128h24v3h-24zM812 134h8v3h-8zM828 134h8v3h-8zM1124 134h8v3h-8zM1180 134h8v3h-8zM804 137h8v3h-8zM1140 140h16v3h-16zM1164 140h8v3h-8zM1012 149h8v3h-8zM964 158h8v3h-8zM908 191h8v3h-8zM908 194h8v3h-8zM988 203h8v3h-8zM948 254h24v3h-24zM972 257h8v3h-8zM972 260h8v3h-8z"/><path fill="#a4a4a4" d="M876 110h8v3h-8zM1028 110h8v3h-8zM1028 116h8v3h-8zM868 119h8v3h-8zM764 128h24v3h-24zM1052 128h8v3h-8zM748 131h8v3h-8zM796 131h8v3h-8zM836 131h8v3h-8zM1060 131h8v3h-8zM1132 131h8v3h-8zM1172 131h8v3h-8zM804 134h8v3h-8zM796 137h8v3h-8zM836 137h8v3h-8zM1132 137h8v3h-8zM756 140h8v3h-8zM780 140h8v3h-8zM844 140h8v3h-8zM1052 140h8v3h-8zM1156 140h8v3h-8zM876 146h8v3h-8zM988 155h8v3h-8zM940 158h8v3h-8zM932 182h8v3h-8zM940 257h8v3h-8zM940 260h8v3h-8zM964 260h8v3h-8z"/><path fill="#a5a5a5" d="M1012 104h8v3h-8zM876 113h8v3h-8zM1028 113h8v3h-8zM1028 119h8v3h-8zM796 134h8v3h-8zM836 134h8v3h-8zM1132 134h8v3h-8zM748 137h8v3h-8zM1060 137h8v3h-8zM1172 137h8v3h-8zM764 140h16v3h-16zM860 143h8v3h-8zM1036 143h8v3h-8zM924 155h8v3h-8zM948 158h16v3h-16zM980 182h8v3h-8zM996 185h8v3h-8zM1004 188h8v3h-8zM1004 197h8v3h-8zM996 200h8v3h-8zM932 203h8v3h-8zM948 257h24v3h-24zM948 260h16v3h-16z"/><path fill="#a7a7a7" d="M996 101h8v3h-8zM892 107h8v3h-8zM1020 107h8v3h-8zM876 116h8v3h-8zM1036 125h8v3h-8zM788 131h8v3h-8zM1140 131h8v3h-8zM1164 131h8v3h-8zM748 134h8v3h-8zM1060 134h8v3h-8zM1172 134h8v3h-8zM788 137h8v3h-8zM1140 137h8v3h-8zM1020 146h8v3h-8zM900 149h8v3h-8zM972 182h8v3h-8zM916 188h8v3h-8zM916 197h8v3h-8zM980 203h8v3h-8z"/><path fill="#a8a8a8" d="M884 110h8v3h-8zM876 119h8v3h-8zM868 122h8v3h-8zM1028 122h8v3h-8zM860 125h8v3h-8zM852 128h8v3h-8zM1044 128h8v3h-8zM756 131h8v3h-8zM780 131h8v3h-8zM844 131h8v3h-8zM1052 131h8v3h-8zM1148 131h16v3h-16zM788 134h8v3h-8zM1140 134h8v3h-8zM756 137h8v3h-8zM780 137h8v3h-8zM844 137h8v3h-8zM1148 137h24v3h-24zM852 140h8v3h-8zM1044 140h8v3h-8zM996 152h8v3h-8zM940 182h8v3h-8zM924 185h8v3h-8zM924 200h8v3h-8z"/><path fill="#a9a9a9" d="M908 104h8v3h-8zM764 131h16v3h-16zM756 134h8v3h-8zM780 134h8v3h-8zM844 134h8v3h-8zM1148 134h24v3h-24zM764 137h16v3h-16zM1052 137h8v3h-8zM1028 143h8v3h-8zM884 146h8v3h-8zM916 152h8v3h-8zM980 155h8v3h-8zM948 182h24v3h-24zM1004 191h8v3h-8zM1004 194h8v3h-8zM972 203h8v3h-8z"/><path fill="#aaaaaa" d="M924 101h8v3h-8zM1020 110h8v3h-8zM884 113h8v3h-8zM884 116h8v3h-8zM1020 116h8v3h-8zM764 134h16v3h-16zM1052 134h8v3h-8zM868 143h8v3h-8zM916 191h8v3h-8zM916 194h8v3h-8zM940 203h8v3h-8zM964 203h8v3h-8z"/><path fill="#acacac" d="M900 107h8v3h-8zM892 110h8v3h-8zM1020 113h8v3h-8zM1020 119h8v3h-8zM876 122h8v3h-8zM1028 125h8v3h-8zM1036 128h8v3h-8zM1044 131h8v3h-8zM1004 149h8v3h-8zM932 155h8v3h-8zM972 155h8v3h-8zM988 185h8v3h-8zM988 200h8v3h-8zM948 203h16v3h-16z"/><path fill="#adadad" d="M988 101h8v3h-8zM884 119h8v3h-8zM1020 122h8v3h-8zM868 125h8v3h-8zM852 131h8v3h-8zM852 137h8v3h-8zM1044 137h8v3h-8zM1036 140h8v3h-8zM908 149h8v3h-8zM996 188h8v3h-8zM996 197h8v3h-8z"/><path fill="#aeaeae" d="M1004 104h8v3h-8zM1012 107h8v3h-8zM892 113h8v3h-8zM860 128h8v3h-8zM852 134h8v3h-8zM1044 134h8v3h-8zM860 140h8v3h-8zM892 146h8v3h-8zM1012 146h8v3h-8zM964 155h8v3h-8zM924 197h8v3h-8zM932 200h8v3h-8z"/><path fill="#b0b0b0" d="M892 116h8v3h-8zM876 143h8v3h-8zM1020 143h8v3h-8zM988 152h8v3h-8zM940 155h8v3h-8zM956 155h8v3h-8zM932 185h8v3h-8zM980 185h8v3h-8zM924 188h8v3h-8zM980 200h8v3h-8z"/><path fill="#b1b1b1" d="M916 104h8v3h-8zM884 122h8v3h-8zM1028 128h8v3h-8zM1036 131h8v3h-8zM1036 137h8v3h-8zM1028 140h8v3h-8zM924 152h8v3h-8zM948 155h8v3h-8zM996 191h8v3h-8zM996 194h8v3h-8z"/><path fill="#b2b2b2" d="M932 101h8v3h-8zM980 101h8v3h-8zM900 110h8v3h-8zM1012 110h8v3h-8zM892 119h8v3h-8zM876 125h8v3h-8zM1020 125h8v3h-8zM860 131h8v3h-8zM1036 134h8v3h-8zM972 185h8v3h-8zM972 200h8v3h-8z"/><path fill="#b3b3b3" d="M908 107h8v3h-8zM1012 113h8v3h-8zM1012 116h8v3h-8zM1012 119h8v3h-8zM868 128h8v3h-8zM860 137h8v3h-8zM868 140h8v3h-8zM900 146h8v3h-8zM996 149h8v3h-8zM980 152h8v3h-8zM940 185h8v3h-8zM964 185h8v3h-8zM988 188h8v3h-8zM924 191h8v3h-8zM924 194h8v3h-8zM988 197h8v3h-8zM940 200h8v3h-8zM964 200h8v3h-8z"/><path fill="#b5b5b5" d="M972 101h8v3h-8zM900 113h8v3h-8zM1028 131h8v3h-8zM860 134h8v3h-8zM884 143h8v3h-8zM948 185h16v3h-16zM948 200h16v3h-16z"/><path fill="#b6b6b6" d="M940 101h8v3h-8zM964 101h8v3h-8zM996 104h8v3h-8zM900 116h8v3h-8zM892 122h8v3h-8zM1012 122h8v3h-8zM884 125h8v3h-8zM1028 137h8v3h-8zM1004 146h8v3h-8zM916 149h8v3h-8zM932 197h8v3h-8z"/><path fill="#b7b7b7" d="M948 101h16v3h-16zM1004 107h8v3h-8zM900 119h8v3h-8zM1020 128h8v3h-8zM1028 134h8v3h-8zM1020 140h8v3h-8zM1012 143h8v3h-8zM972 152h8v3h-8zM932 188h8v3h-8zM988 191h8v3h-8zM988 194h8v3h-8zM980 197h8v3h-8z"/><path fill="#b9b9b9" d="M908 110h8v3h-8zM876 128h8v3h-8zM868 131h8v3h-8zM868 137h8v3h-8zM876 140h8v3h-8zM932 152h8v3h-8zM980 188h8v3h-8z"/><path fill="#bababa" d="M924 104h8v3h-8zM1012 125h8v3h-8zM868 134h8v3h-8zM892 143h8v3h-8zM964 152h8v3h-8zM972 197h8v3h-8z"/><path fill="#bbbbbb" d="M916 107h8v3h-8zM1004 110h8v3h-8zM908 113h8v3h-8zM1020 131h8v3h-8zM908 146h8v3h-8zM988 149h8v3h-8zM972 188h8v3h-8zM932 191h8v3h-8zM932 194h8v3h-8zM980 194h8v3h-8zM940 197h8v3h-8zM964 197h8v3h-8z"/><path fill="#bcbcbc" d="M988 104h8v3h-8zM1004 113h8v3h-8zM908 116h8v3h-8zM1004 116h8v3h-8zM1004 119h8v3h-8zM900 122h8v3h-8zM892 125h8v3h-8zM1020 137h8v3h-8zM940 152h8v3h-8zM956 152h8v3h-8zM940 188h8v3h-8zM964 188h8v3h-8zM980 191h8v3h-8zM948 197h16v3h-16z"/><path fill="#bebebe" d="M884 128h8v3h-8zM876 131h8v3h-8zM1020 134h8v3h-8zM876 137h8v3h-8zM884 140h8v3h-8zM948 152h8v3h-8zM948 188h16v3h-16zM972 194h8v3h-8z"/><path fill="#bfbfbf" d="M908 119h8v3h-8zM1004 122h8v3h-8zM1012 128h8v3h-8zM876 134h8v3h-8zM924 149h8v3h-8zM972 191h8v3h-8zM940 194h8v3h-8z"/><path fill="#c0c0c0" d="M996 107h8v3h-8zM1012 140h8v3h-8zM900 143h8v3h-8zM996 146h8v3h-8zM980 149h8v3h-8zM940 191h8v3h-8zM964 191h8v3h-8zM964 194h8v3h-8z"/><path fill="#c1c1c1" d="M980 104h8v3h-8zM916 110h8v3h-8zM1004 143h8v3h-8zM948 191h16v3h-16zM948 194h16v3h-16z"/><path fill="#c3c3c3" d="M932 104h8v3h-8zM900 125h8v3h-8zM892 128h8v3h-8zM884 131h8v3h-8zM884 137h8v3h-8zM892 140h8v3h-8z"/><path fill="#c4c4c4" d="M972 104h8v3h-8zM996 110h8v3h-8zM916 113h8v3h-8zM908 122h8v3h-8zM1004 125h8v3h-8zM1012 131h8v3h-8zM916 146h8v3h-8zM972 149h8v3h-8z"/><path fill="#c5c5c5" d="M924 107h8v3h-8zM996 113h8v3h-8zM916 116h8v3h-8zM996 116h8v3h-8zM996 119h8v3h-8zM884 134h8v3h-8zM1012 137h8v3h-8z"/><path fill="#c7c7c7" d="M940 104h8v3h-8zM964 104h8v3h-8zM988 107h8v3h-8zM1012 134h8v3h-8zM932 149h8v3h-8z"/><path fill="#c8c8c8" d="M948 104h16v3h-16zM916 119h8v3h-8zM996 122h8v3h-8zM892 131h8v3h-8zM908 143h8v3h-8zM988 146h8v3h-8zM964 149h8v3h-8z"/><path fill="#c9c9c9" d="M900 128h8v3h-8zM1004 128h8v3h-8zM892 137h8v3h-8zM1004 140h8v3h-8z"/><path fill="#cacaca" d="M908 125h8v3h-8zM892 134h8v3h-8zM900 140h8v3h-8zM996 143h8v3h-8zM940 149h8v3h-8zM956 149h8v3h-8z"/><path fill="#cccccc" d="M980 107h8v3h-8zM924 110h8v3h-8zM988 110h8v3h-8zM948 149h8v3h-8z"/><path fill="#cdcdcd" d="M932 107h8v3h-8zM988 113h8v3h-8zM988 116h8v3h-8zM916 122h8v3h-8zM996 125h8v3h-8zM980 146h8v3h-8z"/><path fill="#cecece" d="M924 113h8v3h-8zM988 119h8v3h-8zM1004 131h8v3h-8zM924 146h8v3h-8z"/><path fill="#d0d0d0" d="M972 107h8v3h-8zM924 116h8v3h-8zM900 131h8v3h-8zM1004 137h8v3h-8z"/><path fill="#d1d1d1" d="M980 110h8v3h-8zM988 122h8v3h-8zM1004 134h8v3h-8zM900 137h8v3h-8zM916 143h8v3h-8z"/><path fill="#d2d2d2" d="M940 107h8v3h-8zM964 107h8v3h-8zM924 119h8v3h-8zM908 128h8v3h-8zM900 134h8v3h-8zM908 140h8v3h-8zM972 146h8v3h-8z"/><path fill="#d3d3d3" d="M948 107h16v3h-16zM932 110h8v3h-8zM980 113h8v3h-8zM980 116h8v3h-8zM980 119h8v3h-8zM996 128h8v3h-8zM996 140h8v3h-8zM988 143h8v3h-8z"/><path fill="#d5d5d5" d="M972 110h8v3h-8zM916 125h8v3h-8z"/><path fill="#d6d6d6" d="M988 125h8v3h-8zM932 146h8v3h-8zM964 146h8v3h-8z"/><path fill="#d7d7d7" d="M964 110h8v3h-8zM932 113h8v3h-8zM972 113h8v3h-8zM972 116h8v3h-8zM924 122h8v3h-8zM980 122h8v3h-8z"/><path fill="#d9d9d9" d="M940 110h8v3h-8zM932 116h8v3h-8zM972 119h8v3h-8zM908 131h8v3h-8zM996 131h8v3h-8zM908 137h8v3h-8zM956 146h8v3h-8z"/><path fill="#dadada" d="M948 110h16v3h-16zM964 113h8v3h-8zM964 116h8v3h-8zM996 137h8v3h-8zM980 143h8v3h-8zM940 146h8v3h-8z"/><path fill="#dbdbdb" d="M940 113h8v3h-8zM932 119h8v3h-8zM964 119h8v3h-8zM908 134h8v3h-8zM996 134h8v3h-8zM948 146h8v3h-8z"/><path fill="#dcdcdc" d="M948 113h16v3h-16zM956 116h8v3h-8zM972 122h8v3h-8zM980 125h8v3h-8zM916 128h8v3h-8zM988 128h8v3h-8zM916 140h8v3h-8zM988 140h8v3h-8zM924 143h8v3h-8z"/><path fill="#dedede" d="M940 116h16v3h-16z"/><path fill="#dfdfdf" d="M940 119h8v3h-8zM956 119h8v3h-8zM924 125h8v3h-8zM972 143h8v3h-8z"/><path fill="#e0e0e0" d="M948 119h8v3h-8zM932 122h8v3h-8zM964 122h8v3h-8z"/><path fill="#e2e2e2" d="M972 125h8v3h-8zM988 131h8v3h-8z"/><path fill="#e3e3e3" d="M956 122h8v3h-8zM916 131h8v3h-8zM988 137h8v3h-8z"/><path fill="#e4e4e4" d="M940 122h8v3h-8zM980 128h8v3h-8zM988 134h8v3h-8zM916 137h8v3h-8zM980 140h8v3h-8zM932 143h8v3h-8zM964 143h8v3h-8z"/><path fill="#e5e5e5" d="M948 122h8v3h-8zM916 134h8v3h-8z"/><path fill="#e7e7e7" d="M964 125h8v3h-8zM924 128h8v3h-8zM956 143h8v3h-8z"/><path fill="#e8e8e8" d="M932 125h8v3h-8zM924 140h8v3h-8z"/><path fill="#e9e9e9" d="M972 128h8v3h-8zM980 131h8v3h-8zM972 140h8v3h-8zM940 143h16v3h-16z"/><path fill="#eaeaea" d="M956 125h8v3h-8zM980 137h8v3h-8z"/><path fill="#ececec" d="M940 125h8v3h-8zM980 134h8v3h-8z"/><path fill="#ededed" d="M948 125h8v3h-8z"/><path fill="#eeeeee" d="M964 128h8v3h-8zM924 131h8v3h-8zM924 137h8v3h-8zM964 140h8v3h-8z"/><path fill="#f0f0f0" d="M972 131h8v3h-8z"/><path fill="#f1f1f1" d="M932 128h8v3h-8zM924 134h8v3h-8zM972 137h8v3h-8zM932 140h8v3h-8z"/><path fill="#f2f2f2" d="M956 128h8v3h-8zM972 134h8v3h-8zM956 140h8v3h-8z"/><path fill="#f5f5f5" d="M940 128h16v3h-16zM964 131h8v3h-8zM940 140h16v3h-16z"/><path fill="#f6f6f6" d="M964 137h8v3h-8z"/><path fill="#f7f7f7" d="M932 131h8v3h-8zM964 134h8v3h-8z"/><path fill="#f9f9f9" d="M956 131h8v3h-8zM932 137h8v3h-8z"/><path fill="#fafafa" d="M932 134h8v3h-8zM956 137h8v3h-8z"/><path fill="#fcfcfc" d="M940 131h16v3h-16zM956 134h8v3h-8zM940 137h16v3h-16z"/><path fill="#ffffff" d="M940 134h16v3h-16z"/></g></g><path d="M851.5 47.5V580.3M1048.5 47.5V580.3" stroke="#fff" stroke-width="1"/>
<g clip-path="url(#c2)">
<path d="M965.5 580.3V47.5" stroke="#006400" stroke-width="1.5" stroke-dasharray="6 6" stroke-linecap="round" fill="none"/>
<path d="M699.5 295.07H1232.2" stroke="#CD2626" stroke-width="1.5" stroke-dasharray="6 6" stroke-linecap="round" fill="none"/>
</g>
<rect x="699.5" y="47.5" width="532.7" height="532.8" fill="none" stroke="#000" stroke-opacity=".73" stroke-width="0.75"/>
<path d="M750.5 580.3H1180.5M750.5 580.3v6M858 580.3v6M965.5 580.3v6M1073 580.3v6M1180.5 580.3v6" fill="none" stroke="#000" stroke-opacity=".73" stroke-width="0.75"/>
<text x="750.5" y="601.6" font-size="10.4" text-anchor="middle">-400</text>
<text x="858" y="601.6" font-size="10.4" text-anchor="middle">-200</text>
<text x="965.5" y="601.6" font-size="10.4" text-anchor="middle">0</text>
<text x="1073" y="601.6" font-size="10.4" text-anchor="middle">200</text>
<text x="1180.5" y="601.6" font-size="10.4" text-anchor="middle">400</text>
<path d="M699.5 483.9V48.15M699.5 483.9h-6M699.5 338.65h-6M699.5 193.4h-6M699.5 48.15h-6" fill="none" stroke="#000" stroke-opacity=".73" stroke-width="0.75"/>
<text transform="translate(684.9 483.9) rotate(-90)" font-size="10.4" text-anchor="middle">85</text>
<text transform="translate(684.9 338.65) rotate(-90)" font-size="10.4" text-anchor="middle">90</text>
<text transform="translate(684.9 193.4) rotate(-90)" font-size="10.4" text-anchor="middle">95</text>
<text transform="translate(684.9 48.15) rotate(-90)" font-size="10.4" text-anchor="middle">100</text>
<text x="965.85" y="31.5" font-size="21.5" font-weight="bold" text-anchor="middle">Density heat map for the top hits</text>
<text x="965.85" y="625.8" font-size="16" text-anchor="middle">Distance to peak summit</text>
<text transform="translate(662.2 313.9) rotate(-90)" font-size="16" text-anchor="middle">Motif score</text>
<g clip-path="url(#c3)"><path d="M79.4 1200.5 80.4 1199.7 81.4 1199.8 82.4 1199.8 83.4 1199.8 84.4 1199.9 85.4 1199.9 86.4 1200 87.4 1200 88.4 1200 89.4 1200.1 90.4 1200.1 91.4 1200.1 92.4 1200.2 93.4 1200.2 94.4 1200.2 95.4 1200.2 96.4 1200.3 97.4 1200.3 98.4 1200.3 99.4 1200.3 100.4 1200.3 101.4 1200.3 102.4 1200.4 103.4 1200.4 104.4 1200.4 105.4 1200.4 106.4 1200.4 107.4 1200.4 108.4 1200.4 109.4 1200.4 110.4 1200.4 111.4 1200.4 112.4 1200.4 113.4 1200.4 114.4 1200.4 115.4 1200.4 116.4 1200.4 117.4 1200.4 118.4 1200.4 119.4 1200.4 120.4 1200.4 121.4 1200.4 122.4 1200.3 123.4 1200.3 124.4 1200.3 125.4 1200.3 126.4 1200.3 127.4 1200.2 128.4 1200.2 129.4 1200.2 130.4 1200.2 131.4 1200.1 132.4 1200.1 133.4 1200.1 134.4 1200.1 135.4 1200 136.4 1200 137.4 1199.9 138.4 1199.9 139.4 1199.9 140.4 1199.8 141.4 1199.8 142.4 1199.7 143.4 1199.7 144.4 1199.7 145.4 1199.6 146.4 1199.6 147.4 1199.5 148.4 1199.5 149.4 1199.4 150.4 1199.4 151.4 1199.3 152.4 1199.2 153.4 1199.2 154.4 1199.1 155.4 1199.1 156.4 1199 157.4 1198.9 158.4 1198.9 159.4 1198.8 160.4 1198.8 161.4 1198.7 162.4 1198.6 163.4 1198.5 164.4 1198.5 165.4 1198.4 166.4 1198.3 167.4 1198.2 168.4 1198.2 169.4 1198.1 170.4 1198 171.4 1197.9 172.4 1197.8 173.4 1197.8 174.4 1197.7 175.4 1197.6 176.4 1197.5 177.4 1197.4 178.4 1197.3 179.4 1197.2 180.4 1197.1 181.4 1197 182.4 1196.9 183.4 1196.8 184.4 1196.7 185.4 1196.6 186.4 1196.5 187.4 1196.4 188.4 1196.3 189.4 1196.2 190.4 1196.1 191.4 1196 192.4 1195.9 193.4 1195.8 194.4 1195.7 195.4 1195.6 196.4 1195.5 197.4 1195.4 198.4 1195.2 199.4 1195.1 200.4 1195 201.4 1194.9 202.4 1194.8 203.4 1194.6 204.4 1194.5 205.4 1194.4 206.4 1194.3 207.4 1194.1 208.4 1194 209.4 1193.9 210.4 1193.7 211.4 1193.6 212.4 1193.5 213.4 1193.3 214.4 1193.2 215.4 1193 216.4 1192.9 217.4 1192.7 218.4 1192.6 219.4 1192.4 220.4 1192.2 221.4 1192 222.4 1191.7 223.4 1191.5 224.4 1191.2 225.4 1190.9 226.4 1190.6 227.4 1190.3 228.4 1189.9 229.4 1189.5 230.4 1189.1 231.4 1188.6 232.4 1188.1 233.4 1187.6 234.4 1187.1 235.4 1186.5 236.4 1185.8 237.4 1185.2 238.4 1184.4 239.4 1183.7 240.4 1182.9 241.4 1182 242.4 1181.1 243.4 1180.1 244.4 1179.1 245.4 1178.1 246.4 1177 247.4 1175.8 248.4 1174.6 249.4 1173.3 250.4 1172 251.4 1170.7 252.4 1169.3 253.4 1168 254.4 1166.7 255.4 1165.5 256.4 1164.2 257.4 1163.1 258.4 1162 259.4 1161.1 260.4 1160.2 261.4 1159.5 262.4 1158.8 263.4 1158.2 264.4 1157.7 265.4 1157.2 266.4 1156.8 267.4 1156.4 268.4 1155.9 269.4 1155.5 270.4 1155 271.4 1154.4 272.4 1153.8 273.4 1153.1 274.4 1152.3 275.4 1151.5 276.4 1150.5 277.4 1149.5 278.4 1148.4 279.4 1147.1 280.4 1145.7 281.4 1144.3 282.4 1142.9 283.4 1141.5 284.4 1140.2 285.4 1139.1 286.4 1138 287.4 1137.2 288.4 1136.7 289.4 1136.3 290.4 1136.2 291.4 1136.2 292.4 1136.2 293.4 1136.1 294.4 1136 295.4 1135.7 296.4 1135.1 297.4 1134.3 298.4 1133.2 299.4 1132 300.4 1130.5 301.4 1128.9 302.4 1127.2 303.4 1125.5 304.4 1123.6 305.4 1121.8 306.4 1120 307.4 1118.2 308.4 1116.5 309.4 1115 310.4 1113.5 311.4 1112.3 312.4 1111.3 313.4 1110.4 314.4 1109.8 315.4 1109.2 316.4 1108.8 317.4 1108.5 318.4 1108.3 319.4 1108.1 320.4 1107.9 321.4 1107.8 322.4 1107.5 323.4 1107.3 324.4 1106.9 325.4 1106.4 326.4 1105.8 327.4 1104.8 328.4 1103.5 329.4 1101.7 330.4 1099.4 331.4 1096.6 332.4 1093.2 333.4 1089.4 334.4 1085.2 335.4 1080.6 336.4 1075.7 337.4 1070.6 338.4 1065.3 339.4 1059.9 340.4 1054.4 341.4 1049.3 342.4 1044.9 343.4 1041.3 344.4 1038.3 345.4 1035.8 346.4 1033.5 347.4 1031.1 348.4 1028.5 349.4 1025.5 350.4 1021.8 351.4 1017.3 352.4 1011.9 353.4 1005.4 354.4 998 355.4 989.6 356.4 980.3 357.4 970.2 358.4 959.4 359.4 947.8 360.4 935.7 361.4 923.4 362.4 911.3 363.4 899.7 364.4 889.1 365.4 879.7 366.4 872.1 367.4 866.5 368.4 863.1 369.4 861.5 370.4 861.5 371.4 862.7 372.4 864.9 373.4 867.6 374.4 870.7 375.4 873.8 376.4 876.7 377.4 879.3 378.4 881.5 379.4 883.1 380.4 883.9 381.4 884 382.4 883.3 383.4 882.1 384.4 880.5 385.4 878.7 386.4 877 387.4 875.5 388.4 874.4 389.4 873.7 390.4 873.5 391.4 874 392.4 875.2 393.4 876.9 394.4 879.2 395.4 882.1 396.4 885.4 397.4 889.2 398.4 893.5 399.4 898.1 400.4 903 401.4 907.9 402.4 912.7 403.4 917 404.4 920.8 405.4 923.7 406.4 925.5 407.4 926.1 408.4 925.2 409.4 922.9 410.4 919.2 411.4 914 412.4 907.5 413.4 900.1 414.4 892.2 415.4 884 416.4 875.7 417.4 867.1 418.4 858.1 419.4 848.4 420.4 838.8 421.4 829.7 422.4 822 423.4 816.4 424.4 813.2 425.4 811.9 426.4 811.6 427.4 812 428.4 813.7 429.4 817.3 430.4 823.7 431.4 833.6 432.4 847.6 433.4 864.1 434.4 879.8 435.4 893.3 436.4 905 437.4 915.7 438.4 926.1 439.4 935.7 440.4 944 441.4 950.2 442.4 953.9 443.4 954.6 444.4 952.5 445.4 948.3 446.4 942.6 447.4 936.2 448.4 929.4 449.4 922.4 450.4 915.3 451.4 908.3 452.4 901.4 453.4 894.8 454.4 888.1 455.4 881.4 456.4 874.4 457.4 866.9 458.4 858.7 459.4 849.8 460.4 839.9 461.4 828.9 462.4 816.6 463.4 802.8 464.4 787.7 465.4 772.3 466.4 758.1 467.4 746 468.4 735.7 469.4 726.8 470.4 719.2 471.4 713.1 472.4 709.1 473.4 707.6 474.4 708.9 475.4 712.7 476.4 718.5 477.4 725.8 478.4 734.1 479.4 743.7 480.4 754.5 481.4 766.5 482.4 778.2 483.4 788.3 484.4 795.7 485.4 799.7 486.4 800.1 487.4 797.1 488.4 792 489.4 786.2 490.4 780.8 491.4 776.1 492.4 772.6 493.4 770.2 494.4 769.4 495.4 770.3 496.4 773.3 497.4 778.7 498.4 786.8 499.4 798 500.4 811.3 501.4 826.1 502.4 844 503.4 868.5 504.4 897.2 505.4 923.8 506.4 945.4 507.4 963.3 508.4 979.2 509.4 993.8 510.4 1007 511.4 1018.6 512.4 1028.5 513.4 1036.8 514.4 1043.8 515.4 1049.8 516.4 1055.3 517.4 1060.5 518.4 1065.8 519.4 1071.3 520.4 1076.9 521.4 1082.8 522.4 1089 523.4 1095.5 524.4 1102.3 525.4 1109.2 526.4 1116.2 527.4 1123.1 528.4 1129.8 529.4 1136.2 530.4 1142.1 531.4 1147.4 532.4 1152.1 533.4 1156 534.4 1159 535.4 1161.1 536.4 1162.4 537.4 1163 538.4 1163.1 539.4 1162.6 540.4 1161.9 541.4 1161 542.4 1160 543.4 1159.2 544.4 1158.5 545.4 1158.1 546.4 1158.3 547.4 1159 548.4 1160.1 549.4 1161.7 550.4 1163.6 551.4 1165.8 552.4 1168.3 553.4 1171 554.4 1173.7 555.4 1176.6 556.4 1179.4 557.4 1182.2 558.4 1184.9 559.4 1187.4 560.4 1189.7 561.4 1191.7 562.4 1193.3 563.4 1194.7 564.4 1195.8 565.4 1196.8 566.4 1197.5 567.4 1198.1 568.4 1198.5 569.4 1198.9 570.4 1199.2 571.4 1199.5 572.4 1199.9 572.8 1200.5Z" fill="#F5DEB3" stroke="#000" stroke-width="1.1" stroke-linejoin="round"/></g>
<g clip-path="url(#c3)">
<path d="M341.54 1220.3V687.5" stroke="#CD2626" stroke-width="1.5" stroke-dasharray="6 6" stroke-linecap="round" fill="none"/>
</g>
<rect x="59.5" y="687.5" width="532.7" height="532.8" fill="none" stroke="#000" stroke-opacity=".73" stroke-width="0.75"/>
<path d="M64.1 1220.3H546.6M64.1 1220.3v6M184.72 1220.3v6M305.35 1220.3v6M425.98 1220.3v6M546.6 1220.3v6" fill="none" stroke="#000" stroke-opacity=".73" stroke-width="0.75"/>
<text x="64.1" y="1241.6" font-size="10.4" text-anchor="middle">80</text>
<text x="184.72" y="1241.6" font-size="10.4" text-anchor="middle">85</text>
<text x="305.35" y="1241.6" font-size="10.4" text-anchor="middle">90</text>
<text x="425.98" y="1241.6" font-size="10.4" text-anchor="middle">95</text>
<text x="546.6" y="1241.6" font-size="10.4" text-anchor="middle">100</text>
<path d="M59.5 1200V791.25M59.5 1200h-6M59.5 1063.75h-6M59.5 927.5h-6M59.5 791.25h-6" fill="none" stroke="#000" stroke-opacity=".73" stroke-width="0.75"/>
<text transform="translate(44.9 1200) rotate(-90)" font-size="10.4" text-anchor="middle">0.00</text>
<text transform="translate(44.9 1063.75) rotate(-90)" font-size="10.4" text-anchor="middle">0.05</text>
<text transform="translate(44.9 927.5) rotate(-90)" font-size="10.4" text-anchor="middle">0.10</text>
<text transform="translate(44.9 791.25) rotate(-90)" font-size="10.4" text-anchor="middle">0.15</text>
<text x="325.85" y="671.5" font-size="21.5" font-weight="bold" text-anchor="middle">Motif score threshold: 91.500</text>
<text x="325.85" y="1265.8" font-size="16" text-anchor="middle">Motif score</text>
<text transform="translate(22.2 953.9) rotate(-90)" font-size="16" text-anchor="middle">Density</text>
<g clip-path="url(#c4)"><path d="M718.9 1200.5 719.9 1199.4 720.9 1199.1 721.9 1198.8 722.9 1198.5 723.9 1198.2 724.9 1197.9 725.9 1197.5 726.9 1197 727.9 1196.5 728.9 1195.8 729.9 1195.1 730.9 1194.2 731.9 1193.1 732.9 1192 733.9 1190.6 734.9 1189.1 735.9 1187.3 736.9 1185.4 737.9 1183.2 738.9 1180.7 739.9 1178 740.9 1175.1 741.9 1171.8 742.9 1168.2 743.9 1164.3 744.9 1160.1 745.9 1155.5 746.9 1150.6 747.9 1145.3 748.9 1139.6 749.9 1133.5 750.9 1126.9 751.9 1120 752.9 1112.7 753.9 1105 754.9 1097.1 755.9 1089 756.9 1080.7 757.9 1072.2 758.9 1063.8 759.9 1055.2 760.9 1046.7 761.9 1038.2 762.9 1029.8 763.9 1021.5 764.9 1013.2 765.9 1005.1 766.9 997.2 767.9 989.5 768.9 982 769.9 974.7 770.9 967.7 771.9 961 772.9 954.6 773.9 948.5 774.9 942.9 775.9 937.6 776.9 932.6 777.9 928.1 778.9 923.8 779.9 919.8 780.9 916.1 781.9 912.6 782.9 909.3 783.9 906.2 784.9 903.2 785.9 900.4 786.9 897.6 787.9 895 788.9 892.4 789.9 890 790.9 887.6 791.9 885.4 792.9 883.2 793.9 881.1 794.9 879.2 795.9 877.3 796.9 875.6 797.9 873.9 798.9 872.3 799.9 870.8 800.9 869.4 801.9 868.1 802.9 866.8 803.9 865.7 804.9 864.6 805.9 863.6 806.9 862.8 807.9 861.9 808.9 861.2 809.9 860.6 810.9 860 811.9 859.5 812.9 859.1 813.9 858.7 814.9 858.5 815.9 858.3 816.9 858.1 817.9 858.1 818.9 858.1 819.9 858.2 820.9 858.3 821.9 858.6 822.9 858.8 823.9 859.2 824.9 859.6 825.9 860 826.9 860.5 827.9 861 828.9 861.5 829.9 862.1 830.9 862.7 831.9 863.4 832.9 864.1 833.9 864.8 834.9 865.5 835.9 866.2 836.9 866.9 837.9 867.6 838.9 868.3 839.9 869.1 840.9 869.8 841.9 870.5 842.9 871.2 843.9 871.8 844.9 872.5 845.9 873.1 846.9 873.7 847.9 874.3 848.9 874.8 849.9 875.3 850.9 875.7 851.9 876.1 852.9 876.4 853.9 876.7 854.9 876.9 855.9 877.1 856.9 877.1 857.9 877.2 858.9 877.1 859.9 877 860.9 876.8 861.9 876.5 862.9 876.1 863.9 875.7 864.9 875.2 865.9 874.6 866.9 874 867.9 873.2 868.9 872.4 869.9 871.6 870.9 870.6 871.9 869.6 872.9 868.6 873.9 867.4 874.9 866.2 875.9 865 876.9 863.7 877.9 862.3 878.9 860.9 879.9 859.5 880.9 858 881.9 856.6 882.9 855.1 883.9 853.5 884.9 852 885.9 850.5 886.9 849 887.9 847.4 888.9 845.9 889.9 844.4 890.9 843 891.9 841.5 892.9 840.1 893.9 838.7 894.9 837.4 895.9 836.1 896.9 834.8 897.9 833.5 898.9 832.2 899.9 830.9 900.9 829.7 901.9 828.4 902.9 827.1 903.9 825.8 904.9 824.5 905.9 823.1 906.9 821.7 907.9 820.3 908.9 818.8 909.9 817.3 910.9 815.7 911.9 814.1 912.9 812.3 913.9 810.6 914.9 808.7 915.9 806.8 916.9 804.8 917.9 802.6 918.9 800.5 919.9 798.2 920.9 795.8 921.9 793.3 922.9 790.7 923.9 788 924.9 785.2 925.9 782.3 926.9 779.2 927.9 776.1 928.9 772.8 929.9 769.4 930.9 765.8 931.9 762.2 932.9 758.5 933.9 754.8 934.9 751.1 935.9 747.4 936.9 743.7 937.9 740.1 938.9 736.7 939.9 733.3 940.9 730.1 941.9 727.1 942.9 724.3 943.9 721.7 944.9 719.4 945.9 717.3 946.9 715.4 947.9 713.8 948.9 712.4 949.9 711.2 950.9 710.1 951.9 709.3 952.9 708.6 953.9 708.1 954.9 707.7 955.9 707.5 956.9 707.3 957.9 707.3 958.9 707.4 959.9 707.6 960.9 707.9 961.9 708.2 962.9 708.7 963.9 709.1 964.9 709.6 965.9 710.1 966.9 710.7 967.9 711.3 968.9 711.9 969.9 712.5 970.9 713.2 971.9 713.9 972.9 714.7 973.9 715.6 974.9 716.5 975.9 717.5 976.9 718.6 977.9 719.8 978.9 721.1 979.9 722.5 980.9 724 981.9 725.6 982.9 727.3 983.9 729.2 984.9 731.2 985.9 733.3 986.9 735.6 987.9 738.1 988.9 740.7 989.9 743.5 990.9 746.4 991.9 749.5 992.9 752.6 993.9 755.9 994.9 759.2 995.9 762.6 996.9 766 997.9 769.5 998.9 773 999.9 776.5 1000.9 779.9 1001.9 783.4 1002.9 786.8 1003.9 790.1 1004.9 793.4 1005.9 796.6 1006.9 799.8 1007.9 802.8 1008.9 805.8 1009.9 808.7 1010.9 811.5 1011.9 814.2 1012.9 816.8 1013.9 819.3 1014.9 821.6 1015.9 823.8 1016.9 826 1017.9 828 1018.9 830 1019.9 831.9 1020.9 833.7 1021.9 835.5 1022.9 837.2 1023.9 838.9 1024.9 840.6 1025.9 842.2 1026.9 843.8 1027.9 845.4 1028.9 847 1029.9 848.6 1030.9 850.2 1031.9 851.9 1032.9 853.5 1033.9 855.1 1034.9 856.7 1035.9 858.4 1036.9 860 1037.9 861.6 1038.9 863.1 1039.9 864.7 1040.9 866.2 1041.9 867.8 1042.9 869.3 1043.9 870.7 1044.9 872.2 1045.9 873.6 1046.9 875 1047.9 876.3 1048.9 877.6 1049.9 878.8 1050.9 880 1051.9 881.2 1052.9 882.3 1053.9 883.3 1054.9 884.3 1055.9 885.2 1056.9 886 1057.9 886.8 1058.9 887.6 1059.9 888.2 1060.9 888.8 1061.9 889.3 1062.9 889.7 1063.9 890 1064.9 890.3 1065.9 890.4 1066.9 890.5 1067.9 890.5 1068.9 890.3 1069.9 890.1 1070.9 889.8 1071.9 889.4 1072.9 888.9 1073.9 888.3 1074.9 887.6 1075.9 886.9 1076.9 886.1 1077.9 885.3 1078.9 884.4 1079.9 883.4 1080.9 882.5 1081.9 881.5 1082.9 880.4 1083.9 879.4 1084.9 878.4 1085.9 877.3 1086.9 876.2 1087.9 875.2 1088.9 874.2 1089.9 873.2 1090.9 872.2 1091.9 871.3 1092.9 870.3 1093.9 869.5 1094.9 868.6 1095.9 867.8 1096.9 867 1097.9 866.3 1098.9 865.6 1099.9 865 1100.9 864.3 1101.9 863.8 1102.9 863.3 1103.9 862.8 1104.9 862.4 1105.9 862 1106.9 861.7 1107.9 861.4 1108.9 861.2 1109.9 861 1110.9 860.9 1111.9 860.9 1112.9 860.9 1113.9 860.9 1114.9 861.1 1115.9 861.3 1116.9 861.5 1117.9 861.8 1118.9 862.2 1119.9 862.7 1120.9 863.2 1121.9 863.8 1122.9 864.5 1123.9 865.3 1124.9 866.1 1125.9 867 1126.9 868 1127.9 869 1128.9 870.2 1129.9 871.4 1130.9 872.7 1131.9 874.1 1132.9 875.5 1133.9 877.1 1134.9 878.7 1135.9 880.5 1136.9 882.3 1137.9 884.2 1138.9 886.3 1139.9 888.4 1140.9 890.6 1141.9 892.9 1142.9 895.3 1143.9 897.8 1144.9 900.4 1145.9 903.1 1146.9 905.9 1147.9 908.8 1148.9 911.9 1149.9 915.1 1150.9 918.5 1151.9 922.1 1152.9 926 1153.9 930.1 1154.9 934.5 1155.9 939.2 1156.9 944.2 1157.9 949.7 1158.9 955.5 1159.9 961.7 1160.9 968.4 1161.9 975.3 1162.9 982.7 1163.9 990.3 1164.9 998.2 1165.9 1006.3 1166.9 1014.6 1167.9 1023.1 1168.9 1031.6 1169.9 1040.3 1170.9 1049.1 1171.9 1057.8 1172.9 1066.6 1173.9 1075.3 1174.9 1083.9 1175.9 1092.4 1176.9 1100.7 1177.9 1108.9 1178.9 1116.7 1179.9 1124.4 1180.9 1131.6 1181.9 1138.5 1182.9 1145 1183.9 1151 1184.9 1156.5 1185.9 1161.5 1186.9 1166.2 1187.9 1170.3 1188.9 1174.1 1189.9 1177.6 1190.9 1180.6 1191.9 1183.3 1192.9 1185.8 1193.9 1187.9 1194.9 1189.7 1195.9 1191.3 1196.9 1192.7 1197.9 1193.8 1198.9 1194.8 1199.9 1195.6 1200.9 1196.3 1201.9 1196.8 1202.9 1197.2 1203.9 1197.6 1204.9 1197.9 1205.9 1198.1 1206.9 1198.3 1207.9 1198.6 1208.9 1198.8 1209.9 1199.1 1210.9 1199.5 1211.9 1200 1211.9 1200.5Z" fill="#F5DEB3" stroke="#000" stroke-width="1.1" stroke-linejoin="round"/></g>
<g clip-path="url(#c4)">
<path d="M965.5 1220.3V687.5" stroke="#006400" stroke-width="2.25" stroke-dasharray="9 9" stroke-linecap="round" fill="none"/>
</g>
<rect x="699.5" y="687.5" width="532.7" height="532.8" fill="none" stroke="#000" stroke-opacity=".73" stroke-width="0.75"/>
<path d="M719.5 1220.3H1211.5M719.5 1220.3v6M801.5 1220.3v6M883.5 1220.3v6M965.5 1220.3v6M1047.5 1220.3v6M1129.5 1220.3v6M1211.5 1220.3v6" fill="none" stroke="#000" stroke-opacity=".73" stroke-width="0.75"/>
<text x="719.5" y="1241.6" font-size="10.4" text-anchor="middle">-600</text>
<text x="801.5" y="1241.6" font-size="10.4" text-anchor="middle">-400</text>
<text x="883.5" y="1241.6" font-size="10.4" text-anchor="middle">-200</text>
<text x="965.5" y="1241.6" font-size="10.4" text-anchor="middle">0</text>
<text x="1047.5" y="1241.6" font-size="10.4" text-anchor="middle">200</text>
<text x="1129.5" y="1241.6" font-size="10.4" text-anchor="middle">400</text>
<text x="1211.5" y="1241.6" font-size="10.4" text-anchor="middle">600</text>
<path d="M699.5 1200V699.5M699.5 1200h-6M699.5 1128.5h-6M699.5 1057h-6M699.5 985.5h-6M699.5 914h-6M699.5 842.5h-6M699.5 771h-6M699.5 699.5h-6" fill="none" stroke="#000" stroke-opacity=".73" stroke-width="0.75"/>
<text transform="translate(684.9 1200) rotate(-90)" font-size="10.4" text-anchor="middle">0.0000</text>
<text transform="translate(684.9 1128.5) rotate(-90)" font-size="10.4" text-anchor="middle">0.0002</text>
<text transform="translate(684.9 1057) rotate(-90)" font-size="10.4" text-anchor="middle">0.0004</text>
<text transform="translate(684.9 985.5) rotate(-90)" font-size="10.4" text-anchor="middle">0.0006</text>
<text transform="translate(684.9 914) rotate(-90)" font-size="10.4" text-anchor="middle">0.0008</text>
<text transform="translate(684.9 842.5) rotate(-90)" font-size="10.4" text-anchor="middle">0.0010</text>
<text transform="translate(684.9 771) rotate(-90)" font-size="10.4" text-anchor="middle">0.0012</text>
<text transform="translate(684.9 699.5) rotate(-90)" font-size="10.4" text-anchor="middle">0.0014</text>
<text x="965.85" y="671.5" font-size="21.5" font-weight="bold" text-anchor="middle">Enrichment zone: 0.50</text>
<text x="965.85" y="1265.8" font-size="16" text-anchor="middle">Distance to peak summit</text>
<text transform="translate(662.2 953.9) rotate(-90)" font-size="16" text-anchor="middle">Density</text>
<path d="M1017.5 703.4H1041.5" stroke="#006400" stroke-width="1.3" stroke-dasharray="1.1 3.35" stroke-linecap="round" fill="none"/>
<path d="M1017.5 718.9H1041.5" stroke="#E06666" stroke-width="1.3" stroke-dasharray="1.1 3.35" stroke-linecap="round" fill="none"/>
<circle cx="1029" cy="734.45" r="2.9" fill="#0000FF"/>
<text x="1052.5" y="707.9" font-size="12.8">enrichment zone = 0.5</text>
<text x="1052.5" y="724.2" font-size="12.8">motif score threshold = 91.500</text>
<text x="1052.5" y="738.9" font-size="12.8">centrality p-val = NS</text>
</svg></body></html>
